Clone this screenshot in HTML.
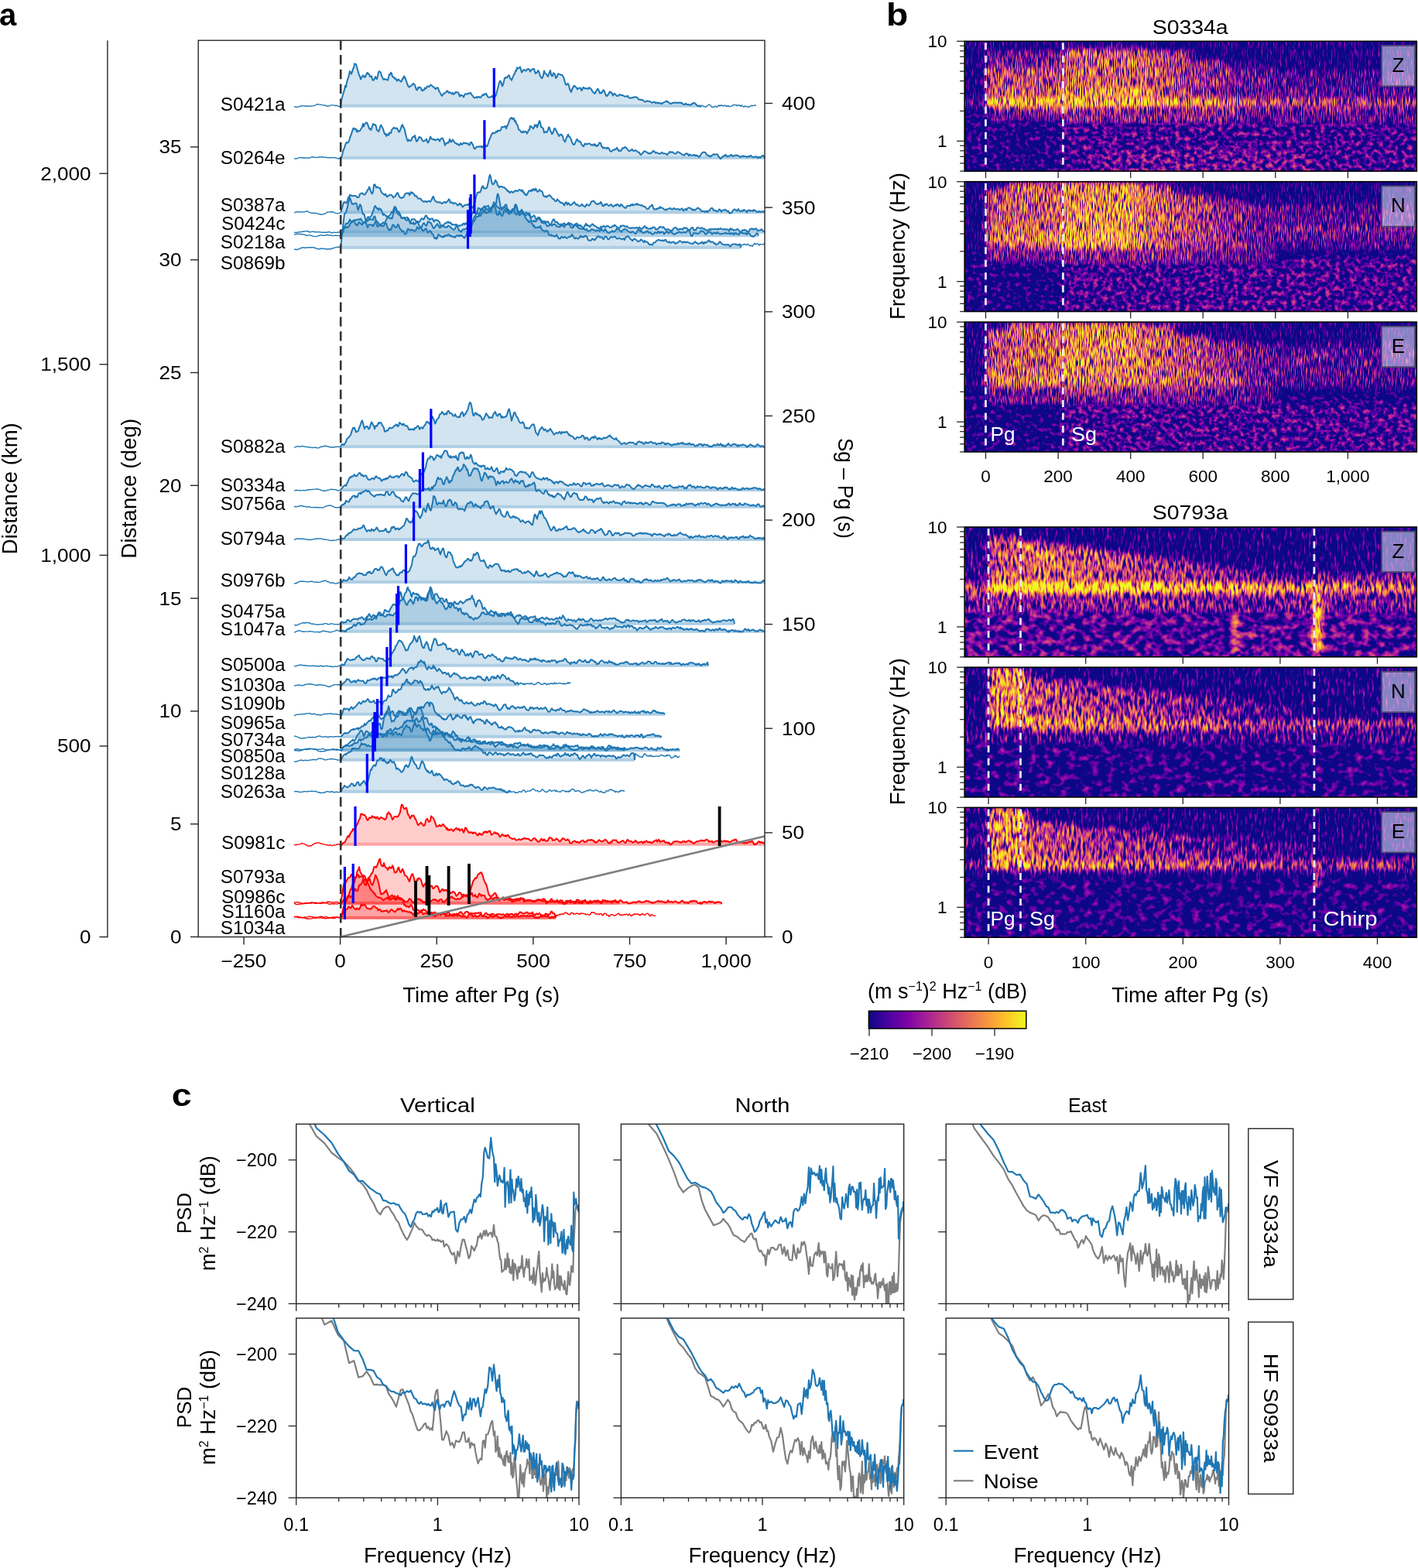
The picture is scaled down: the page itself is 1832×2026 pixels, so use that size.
<!DOCTYPE html>
<html><head><meta charset="utf-8"><title>Figure</title><style>
html,body{margin:0;padding:0;background:#fff;}
svg{display:block;}
</style></head><body>
<svg width="1832" height="2026" viewBox="0 0 1832 2026" font-family="'Liberation Sans', Arial, sans-serif" fill="#000">
<defs>
<clipPath id="clipA"><rect x="256.2" y="52.2" width="731.8" height="1158.4"/></clipPath>
<filter id="sf0" filterUnits="userSpaceOnUse" x="1246.2" y="53.3" width="584.1" height="167.8" color-interpolation-filters="sRGB">
<feGaussianBlur in="SourceGraphic" stdDeviation="4 3.5" result="b"/>
<feColorMatrix in="b" type="matrix" values="0 1 0 0 0 0 1 0 0 0 0 1 0 0 0 0 0 0 0 1" result="w"/>
<feTurbulence type="fractalNoise" baseFrequency="0.7 0.08" numOctaves="2" seed="3" result="n0"/>
<feComponentTransfer in="n0" result="n1"><feFuncR type="table" tableValues="0.000 0.000 0.000 0.000 0.000 0.000 0.000 0.050 0.104 0.154 0.201 0.245 0.285 0.323 0.358 0.390 0.420 0.447 0.473 0.496 0.518 0.538 0.557 0.575 0.591 0.607 0.621 0.635 0.647 0.660 0.671 0.682 0.692 0.702 0.711 0.720 0.729 0.737 0.745 0.750 0.750"/><feFuncA type="linear" slope="0" intercept="1"/></feComponentTransfer>
<feTurbulence type="fractalNoise" baseFrequency="0.16 0.17" numOctaves="2" seed="23" result="n2"/>
<feComponentTransfer in="n2" result="n2s"><feFuncR type="table" tableValues="0.000 0.000 0.000 0.000 0.000 0.046 0.094 0.140 0.183 0.223 0.261 0.296 0.328 0.358 0.386 0.412 0.436 0.458 0.478 0.497 0.515 0.531 0.546 0.560 0.573 0.585 0.597 0.608 0.618 0.628 0.637 0.645 0.654 0.662 0.669 0.676 0.683 0.690 0.696 0.702 0.708"/><feFuncA type="linear" slope="0" intercept="1"/></feComponentTransfer>
<feComposite in="w" in2="n2s" operator="arithmetic" k1="1" k2="0" k3="0" k4="0" result="p2"/>
<feComposite in="w" in2="n1" operator="arithmetic" k1="-1" k2="0" k3="1" k4="0" result="p1"/>
<feComposite in="p1" in2="p2" operator="arithmetic" k1="0" k2="1" k3="1" k4="0" result="nm"/>
<feComposite in="b" in2="nm" operator="arithmetic" k1="0" k2="1.4" k3="2.6" k4="-1.700"/>
<feColorMatrix type="matrix" values="1 0 0 0 0 1 0 0 0 0 1 0 0 0 0 0 0 0 0 1"/>
<feComponentTransfer><feFuncR type="table" tableValues="0.05 0.132 0.193 0.248 0.3 0.35 0.399 0.448 0.495 0.541 0.584 0.626 0.665 0.702 0.736 0.768 0.798 0.827 0.853 0.878 0.902 0.923 0.943 0.959 0.973 0.984 0.991 0.994 0.993 0.987 0.974 0.957 0.94"/><feFuncG type="table" tableValues="0.03 0.022 0.018 0.014 0.01 0.004 0.001 0.002 0.012 0.035 0.069 0.103 0.139 0.174 0.209 0.245 0.28 0.316 0.352 0.388 0.425 0.463 0.503 0.543 0.586 0.63 0.675 0.723 0.772 0.822 0.875 0.928 0.975"/><feFuncB type="table" tableValues="0.528 0.563 0.59 0.613 0.632 0.646 0.656 0.66 0.658 0.649 0.633 0.611 0.586 0.557 0.528 0.498 0.47 0.441 0.414 0.387 0.36 0.333 0.306 0.279 0.252 0.225 0.198 0.174 0.155 0.144 0.144 0.152 0.131"/><feFuncA type="linear" slope="0" intercept="1"/></feComponentTransfer>
</filter>
<linearGradient id="g0"><stop offset="0" stop-color="#a40000"/><stop offset="1" stop-color="#8a0000"/></linearGradient>
<linearGradient id="g1"><stop offset="0" stop-color="#8a0000"/><stop offset="1" stop-color="#710000"/></linearGradient>
<linearGradient id="g2"><stop offset="0" stop-color="#710000"/><stop offset="1" stop-color="#5b0000"/></linearGradient>
<linearGradient id="g3"><stop offset="0" stop-color="#5b0000"/><stop offset="1" stop-color="#500000"/></linearGradient>
<linearGradient id="g4"><stop offset="0" stop-color="#db0000"/><stop offset="1" stop-color="#b30000"/></linearGradient>
<linearGradient id="g5"><stop offset="0" stop-color="#a80000"/><stop offset="1" stop-color="#950000"/></linearGradient>
<filter id="sf1" filterUnits="userSpaceOnUse" x="1246.2" y="234.7" width="584.1" height="167.8" color-interpolation-filters="sRGB">
<feGaussianBlur in="SourceGraphic" stdDeviation="4 3.5" result="b"/>
<feColorMatrix in="b" type="matrix" values="0 1 0 0 0 0 1 0 0 0 0 1 0 0 0 0 0 0 0 1" result="w"/>
<feTurbulence type="fractalNoise" baseFrequency="0.7 0.08" numOctaves="2" seed="4" result="n0"/>
<feComponentTransfer in="n0" result="n1"><feFuncR type="table" tableValues="0.000 0.000 0.000 0.000 0.000 0.000 0.000 0.050 0.104 0.154 0.201 0.245 0.285 0.323 0.358 0.390 0.420 0.447 0.473 0.496 0.518 0.538 0.557 0.575 0.591 0.607 0.621 0.635 0.647 0.660 0.671 0.682 0.692 0.702 0.711 0.720 0.729 0.737 0.745 0.750 0.750"/><feFuncA type="linear" slope="0" intercept="1"/></feComponentTransfer>
<feTurbulence type="fractalNoise" baseFrequency="0.16 0.17" numOctaves="2" seed="24" result="n2"/>
<feComponentTransfer in="n2" result="n2s"><feFuncR type="table" tableValues="0.000 0.000 0.000 0.000 0.000 0.046 0.094 0.140 0.183 0.223 0.261 0.296 0.328 0.358 0.386 0.412 0.436 0.458 0.478 0.497 0.515 0.531 0.546 0.560 0.573 0.585 0.597 0.608 0.618 0.628 0.637 0.645 0.654 0.662 0.669 0.676 0.683 0.690 0.696 0.702 0.708"/><feFuncA type="linear" slope="0" intercept="1"/></feComponentTransfer>
<feComposite in="w" in2="n2s" operator="arithmetic" k1="1" k2="0" k3="0" k4="0" result="p2"/>
<feComposite in="w" in2="n1" operator="arithmetic" k1="-1" k2="0" k3="1" k4="0" result="p1"/>
<feComposite in="p1" in2="p2" operator="arithmetic" k1="0" k2="1" k3="1" k4="0" result="nm"/>
<feComposite in="b" in2="nm" operator="arithmetic" k1="0" k2="1.4" k3="2.6" k4="-1.700"/>
<feColorMatrix type="matrix" values="1 0 0 0 0 1 0 0 0 0 1 0 0 0 0 0 0 0 0 1"/>
<feComponentTransfer><feFuncR type="table" tableValues="0.05 0.132 0.193 0.248 0.3 0.35 0.399 0.448 0.495 0.541 0.584 0.626 0.665 0.702 0.736 0.768 0.798 0.827 0.853 0.878 0.902 0.923 0.943 0.959 0.973 0.984 0.991 0.994 0.993 0.987 0.974 0.957 0.94"/><feFuncG type="table" tableValues="0.03 0.022 0.018 0.014 0.01 0.004 0.001 0.002 0.012 0.035 0.069 0.103 0.139 0.174 0.209 0.245 0.28 0.316 0.352 0.388 0.425 0.463 0.503 0.543 0.586 0.63 0.675 0.723 0.772 0.822 0.875 0.928 0.975"/><feFuncB type="table" tableValues="0.528 0.563 0.59 0.613 0.632 0.646 0.656 0.66 0.658 0.649 0.633 0.611 0.586 0.557 0.528 0.498 0.47 0.441 0.414 0.387 0.36 0.333 0.306 0.279 0.252 0.225 0.198 0.174 0.155 0.144 0.144 0.152 0.131"/><feFuncA type="linear" slope="0" intercept="1"/></feComponentTransfer>
</filter>
<linearGradient id="g6"><stop offset="0" stop-color="#750000"/><stop offset="1" stop-color="#570000"/></linearGradient>
<linearGradient id="g7"><stop offset="0" stop-color="#b60000"/><stop offset="1" stop-color="#a00000"/></linearGradient>
<linearGradient id="g8"><stop offset="0" stop-color="#a00000"/><stop offset="1" stop-color="#8a0000"/></linearGradient>
<linearGradient id="g9"><stop offset="0" stop-color="#8a0000"/><stop offset="1" stop-color="#710000"/></linearGradient>
<linearGradient id="g10"><stop offset="0" stop-color="#6d0000"/><stop offset="1" stop-color="#5b0000"/></linearGradient>
<linearGradient id="g11"><stop offset="0" stop-color="#5b0000"/><stop offset="1" stop-color="#540000"/></linearGradient>
<filter id="sf2" filterUnits="userSpaceOnUse" x="1246.2" y="416.1" width="584.1" height="167.8" color-interpolation-filters="sRGB">
<feGaussianBlur in="SourceGraphic" stdDeviation="4 3.5" result="b"/>
<feColorMatrix in="b" type="matrix" values="0 1 0 0 0 0 1 0 0 0 0 1 0 0 0 0 0 0 0 1" result="w"/>
<feTurbulence type="fractalNoise" baseFrequency="0.7 0.08" numOctaves="2" seed="5" result="n0"/>
<feComponentTransfer in="n0" result="n1"><feFuncR type="table" tableValues="0.000 0.000 0.000 0.000 0.000 0.000 0.000 0.050 0.104 0.154 0.201 0.245 0.285 0.323 0.358 0.390 0.420 0.447 0.473 0.496 0.518 0.538 0.557 0.575 0.591 0.607 0.621 0.635 0.647 0.660 0.671 0.682 0.692 0.702 0.711 0.720 0.729 0.737 0.745 0.750 0.750"/><feFuncA type="linear" slope="0" intercept="1"/></feComponentTransfer>
<feTurbulence type="fractalNoise" baseFrequency="0.16 0.17" numOctaves="2" seed="25" result="n2"/>
<feComponentTransfer in="n2" result="n2s"><feFuncR type="table" tableValues="0.000 0.000 0.000 0.000 0.000 0.046 0.094 0.140 0.183 0.223 0.261 0.296 0.328 0.358 0.386 0.412 0.436 0.458 0.478 0.497 0.515 0.531 0.546 0.560 0.573 0.585 0.597 0.608 0.618 0.628 0.637 0.645 0.654 0.662 0.669 0.676 0.683 0.690 0.696 0.702 0.708"/><feFuncA type="linear" slope="0" intercept="1"/></feComponentTransfer>
<feComposite in="w" in2="n2s" operator="arithmetic" k1="1" k2="0" k3="0" k4="0" result="p2"/>
<feComposite in="w" in2="n1" operator="arithmetic" k1="-1" k2="0" k3="1" k4="0" result="p1"/>
<feComposite in="p1" in2="p2" operator="arithmetic" k1="0" k2="1" k3="1" k4="0" result="nm"/>
<feComposite in="b" in2="nm" operator="arithmetic" k1="0" k2="1.4" k3="2.6" k4="-1.700"/>
<feColorMatrix type="matrix" values="1 0 0 0 0 1 0 0 0 0 1 0 0 0 0 0 0 0 0 1"/>
<feComponentTransfer><feFuncR type="table" tableValues="0.05 0.132 0.193 0.248 0.3 0.35 0.399 0.448 0.495 0.541 0.584 0.626 0.665 0.702 0.736 0.768 0.798 0.827 0.853 0.878 0.902 0.923 0.943 0.959 0.973 0.984 0.991 0.994 0.993 0.987 0.974 0.957 0.94"/><feFuncG type="table" tableValues="0.03 0.022 0.018 0.014 0.01 0.004 0.001 0.002 0.012 0.035 0.069 0.103 0.139 0.174 0.209 0.245 0.28 0.316 0.352 0.388 0.425 0.463 0.503 0.543 0.586 0.63 0.675 0.723 0.772 0.822 0.875 0.928 0.975"/><feFuncB type="table" tableValues="0.528 0.563 0.59 0.613 0.632 0.646 0.656 0.66 0.658 0.649 0.633 0.611 0.586 0.557 0.528 0.498 0.47 0.441 0.414 0.387 0.36 0.333 0.306 0.279 0.252 0.225 0.198 0.174 0.155 0.144 0.144 0.152 0.131"/><feFuncA type="linear" slope="0" intercept="1"/></feComponentTransfer>
</filter>
<linearGradient id="g12"><stop offset="0" stop-color="#750000"/><stop offset="1" stop-color="#570000"/></linearGradient>
<linearGradient id="g13"><stop offset="0" stop-color="#b30000"/><stop offset="1" stop-color="#a00000"/></linearGradient>
<linearGradient id="g14"><stop offset="0" stop-color="#a00000"/><stop offset="1" stop-color="#8a0000"/></linearGradient>
<linearGradient id="g15"><stop offset="0" stop-color="#8a0000"/><stop offset="1" stop-color="#710000"/></linearGradient>
<linearGradient id="g16"><stop offset="0" stop-color="#6d0000"/><stop offset="1" stop-color="#5b0000"/></linearGradient>
<linearGradient id="g17"><stop offset="0" stop-color="#5b0000"/><stop offset="1" stop-color="#540000"/></linearGradient>
<linearGradient id="g18"><stop offset="0" stop-color="#c10000"/><stop offset="1" stop-color="#a40000"/></linearGradient>
<filter id="sf3" filterUnits="userSpaceOnUse" x="1246.2" y="681.0" width="584.1" height="167.8" color-interpolation-filters="sRGB">
<feGaussianBlur in="SourceGraphic" stdDeviation="4 3.5" result="b"/>
<feColorMatrix in="b" type="matrix" values="0 1 0 0 0 0 1 0 0 0 0 1 0 0 0 0 0 0 0 1" result="w"/>
<feTurbulence type="fractalNoise" baseFrequency="0.33 0.08" numOctaves="2" seed="7" result="n0"/>
<feComponentTransfer in="n0" result="n1"><feFuncR type="table" tableValues="0.000 0.000 0.000 0.000 0.000 0.000 0.000 0.050 0.104 0.154 0.201 0.245 0.285 0.323 0.358 0.390 0.420 0.447 0.473 0.496 0.518 0.538 0.557 0.575 0.591 0.607 0.621 0.635 0.647 0.660 0.671 0.682 0.692 0.702 0.711 0.720 0.729 0.737 0.745 0.750 0.750"/><feFuncA type="linear" slope="0" intercept="1"/></feComponentTransfer>
<feTurbulence type="fractalNoise" baseFrequency="0.1 0.12" numOctaves="2" seed="27" result="n2"/>
<feComponentTransfer in="n2" result="n2s"><feFuncR type="table" tableValues="0.000 0.000 0.000 0.000 0.000 0.046 0.094 0.140 0.183 0.223 0.261 0.296 0.328 0.358 0.386 0.412 0.436 0.458 0.478 0.497 0.515 0.531 0.546 0.560 0.573 0.585 0.597 0.608 0.618 0.628 0.637 0.645 0.654 0.662 0.669 0.676 0.683 0.690 0.696 0.702 0.708"/><feFuncA type="linear" slope="0" intercept="1"/></feComponentTransfer>
<feComposite in="w" in2="n2s" operator="arithmetic" k1="1" k2="0" k3="0" k4="0" result="p2"/>
<feComposite in="w" in2="n1" operator="arithmetic" k1="-1" k2="0" k3="1" k4="0" result="p1"/>
<feComposite in="p1" in2="p2" operator="arithmetic" k1="0" k2="1" k3="1" k4="0" result="nm"/>
<feComposite in="b" in2="nm" operator="arithmetic" k1="0" k2="1.4" k3="2.6" k4="-1.700"/>
<feColorMatrix type="matrix" values="1 0 0 0 0 1 0 0 0 0 1 0 0 0 0 0 0 0 0 1"/>
<feComponentTransfer><feFuncR type="table" tableValues="0.05 0.132 0.193 0.248 0.3 0.35 0.399 0.448 0.495 0.541 0.584 0.626 0.665 0.702 0.736 0.768 0.798 0.827 0.853 0.878 0.902 0.923 0.943 0.959 0.973 0.984 0.991 0.994 0.993 0.987 0.974 0.957 0.94"/><feFuncG type="table" tableValues="0.03 0.022 0.018 0.014 0.01 0.004 0.001 0.002 0.012 0.035 0.069 0.103 0.139 0.174 0.209 0.245 0.28 0.316 0.352 0.388 0.425 0.463 0.503 0.543 0.586 0.63 0.675 0.723 0.772 0.822 0.875 0.928 0.975"/><feFuncB type="table" tableValues="0.528 0.563 0.59 0.613 0.632 0.646 0.656 0.66 0.658 0.649 0.633 0.611 0.586 0.557 0.528 0.498 0.47 0.441 0.414 0.387 0.36 0.333 0.306 0.279 0.252 0.225 0.198 0.174 0.155 0.144 0.144 0.152 0.131"/><feFuncA type="linear" slope="0" intercept="1"/></feComponentTransfer>
</filter>
<linearGradient id="g19"><stop offset="0" stop-color="#ff0000"/><stop offset="1" stop-color="#f40000"/></linearGradient>
<linearGradient id="g20"><stop offset="0" stop-color="#e90000"/><stop offset="1" stop-color="#cc0000"/></linearGradient>
<filter id="sf4" filterUnits="userSpaceOnUse" x="1246.2" y="862.2" width="584.1" height="167.8" color-interpolation-filters="sRGB">
<feGaussianBlur in="SourceGraphic" stdDeviation="4 3.5" result="b"/>
<feColorMatrix in="b" type="matrix" values="0 1 0 0 0 0 1 0 0 0 0 1 0 0 0 0 0 0 0 1" result="w"/>
<feTurbulence type="fractalNoise" baseFrequency="0.33 0.08" numOctaves="2" seed="8" result="n0"/>
<feComponentTransfer in="n0" result="n1"><feFuncR type="table" tableValues="0.000 0.000 0.000 0.000 0.000 0.000 0.000 0.050 0.104 0.154 0.201 0.245 0.285 0.323 0.358 0.390 0.420 0.447 0.473 0.496 0.518 0.538 0.557 0.575 0.591 0.607 0.621 0.635 0.647 0.660 0.671 0.682 0.692 0.702 0.711 0.720 0.729 0.737 0.745 0.750 0.750"/><feFuncA type="linear" slope="0" intercept="1"/></feComponentTransfer>
<feTurbulence type="fractalNoise" baseFrequency="0.1 0.12" numOctaves="2" seed="28" result="n2"/>
<feComponentTransfer in="n2" result="n2s"><feFuncR type="table" tableValues="0.000 0.000 0.000 0.000 0.000 0.046 0.094 0.140 0.183 0.223 0.261 0.296 0.328 0.358 0.386 0.412 0.436 0.458 0.478 0.497 0.515 0.531 0.546 0.560 0.573 0.585 0.597 0.608 0.618 0.628 0.637 0.645 0.654 0.662 0.669 0.676 0.683 0.690 0.696 0.702 0.708"/><feFuncA type="linear" slope="0" intercept="1"/></feComponentTransfer>
<feComposite in="w" in2="n2s" operator="arithmetic" k1="1" k2="0" k3="0" k4="0" result="p2"/>
<feComposite in="w" in2="n1" operator="arithmetic" k1="-1" k2="0" k3="1" k4="0" result="p1"/>
<feComposite in="p1" in2="p2" operator="arithmetic" k1="0" k2="1" k3="1" k4="0" result="nm"/>
<feComposite in="b" in2="nm" operator="arithmetic" k1="0" k2="1.4" k3="2.6" k4="-1.700"/>
<feColorMatrix type="matrix" values="1 0 0 0 0 1 0 0 0 0 1 0 0 0 0 0 0 0 0 1"/>
<feComponentTransfer><feFuncR type="table" tableValues="0.05 0.132 0.193 0.248 0.3 0.35 0.399 0.448 0.495 0.541 0.584 0.626 0.665 0.702 0.736 0.768 0.798 0.827 0.853 0.878 0.902 0.923 0.943 0.959 0.973 0.984 0.991 0.994 0.993 0.987 0.974 0.957 0.94"/><feFuncG type="table" tableValues="0.03 0.022 0.018 0.014 0.01 0.004 0.001 0.002 0.012 0.035 0.069 0.103 0.139 0.174 0.209 0.245 0.28 0.316 0.352 0.388 0.425 0.463 0.503 0.543 0.586 0.63 0.675 0.723 0.772 0.822 0.875 0.928 0.975"/><feFuncB type="table" tableValues="0.528 0.563 0.59 0.613 0.632 0.646 0.656 0.66 0.658 0.649 0.633 0.611 0.586 0.557 0.528 0.498 0.47 0.441 0.414 0.387 0.36 0.333 0.306 0.279 0.252 0.225 0.198 0.174 0.155 0.144 0.144 0.152 0.131"/><feFuncA type="linear" slope="0" intercept="1"/></feComponentTransfer>
</filter>
<linearGradient id="g21"><stop offset="0" stop-color="#ad0000"/><stop offset="1" stop-color="#9b0000"/></linearGradient>
<linearGradient id="g22"><stop offset="0" stop-color="#870000"/><stop offset="1" stop-color="#7c0000"/></linearGradient>
<filter id="sf5" filterUnits="userSpaceOnUse" x="1246.2" y="1043.4" width="584.1" height="167.8" color-interpolation-filters="sRGB">
<feGaussianBlur in="SourceGraphic" stdDeviation="4 3.5" result="b"/>
<feColorMatrix in="b" type="matrix" values="0 1 0 0 0 0 1 0 0 0 0 1 0 0 0 0 0 0 0 1" result="w"/>
<feTurbulence type="fractalNoise" baseFrequency="0.33 0.08" numOctaves="2" seed="9" result="n0"/>
<feComponentTransfer in="n0" result="n1"><feFuncR type="table" tableValues="0.000 0.000 0.000 0.000 0.000 0.000 0.000 0.050 0.104 0.154 0.201 0.245 0.285 0.323 0.358 0.390 0.420 0.447 0.473 0.496 0.518 0.538 0.557 0.575 0.591 0.607 0.621 0.635 0.647 0.660 0.671 0.682 0.692 0.702 0.711 0.720 0.729 0.737 0.745 0.750 0.750"/><feFuncA type="linear" slope="0" intercept="1"/></feComponentTransfer>
<feTurbulence type="fractalNoise" baseFrequency="0.1 0.12" numOctaves="2" seed="29" result="n2"/>
<feComponentTransfer in="n2" result="n2s"><feFuncR type="table" tableValues="0.000 0.000 0.000 0.000 0.000 0.046 0.094 0.140 0.183 0.223 0.261 0.296 0.328 0.358 0.386 0.412 0.436 0.458 0.478 0.497 0.515 0.531 0.546 0.560 0.573 0.585 0.597 0.608 0.618 0.628 0.637 0.645 0.654 0.662 0.669 0.676 0.683 0.690 0.696 0.702 0.708"/><feFuncA type="linear" slope="0" intercept="1"/></feComponentTransfer>
<feComposite in="w" in2="n2s" operator="arithmetic" k1="1" k2="0" k3="0" k4="0" result="p2"/>
<feComposite in="w" in2="n1" operator="arithmetic" k1="-1" k2="0" k3="1" k4="0" result="p1"/>
<feComposite in="p1" in2="p2" operator="arithmetic" k1="0" k2="1" k3="1" k4="0" result="nm"/>
<feComposite in="b" in2="nm" operator="arithmetic" k1="0" k2="1.4" k3="2.6" k4="-1.700"/>
<feColorMatrix type="matrix" values="1 0 0 0 0 1 0 0 0 0 1 0 0 0 0 0 0 0 0 1"/>
<feComponentTransfer><feFuncR type="table" tableValues="0.05 0.132 0.193 0.248 0.3 0.35 0.399 0.448 0.495 0.541 0.584 0.626 0.665 0.702 0.736 0.768 0.798 0.827 0.853 0.878 0.902 0.923 0.943 0.959 0.973 0.984 0.991 0.994 0.993 0.987 0.974 0.957 0.94"/><feFuncG type="table" tableValues="0.03 0.022 0.018 0.014 0.01 0.004 0.001 0.002 0.012 0.035 0.069 0.103 0.139 0.174 0.209 0.245 0.28 0.316 0.352 0.388 0.425 0.463 0.503 0.543 0.586 0.63 0.675 0.723 0.772 0.822 0.875 0.928 0.975"/><feFuncB type="table" tableValues="0.528 0.563 0.59 0.613 0.632 0.646 0.656 0.66 0.658 0.649 0.633 0.611 0.586 0.557 0.528 0.498 0.47 0.441 0.414 0.387 0.36 0.333 0.306 0.279 0.252 0.225 0.198 0.174 0.155 0.144 0.144 0.152 0.131"/><feFuncA type="linear" slope="0" intercept="1"/></feComponentTransfer>
</filter>
<linearGradient id="g23"><stop offset="0" stop-color="#af0000"/><stop offset="1" stop-color="#990000"/></linearGradient>
<linearGradient id="cbar"><stop offset="0.000" stop-color="rgb(12,7,134)"/><stop offset="0.125" stop-color="rgb(76,2,161)"/><stop offset="0.250" stop-color="rgb(126,3,167)"/><stop offset="0.375" stop-color="rgb(169,35,149)"/><stop offset="0.500" stop-color="rgb(203,71,119)"/><stop offset="0.625" stop-color="rgb(229,108,91)"/><stop offset="0.750" stop-color="rgb(248,149,64)"/><stop offset="0.875" stop-color="rgb(253,196,39)"/><stop offset="1.000" stop-color="rgb(239,248,33)"/></linearGradient>
<clipPath id="cc00"><rect x="382.7" y="1452.4" width="365.3" height="232.1"/></clipPath>
<clipPath id="cc01"><rect x="382.7" y="1703.2" width="365.3" height="232.1"/></clipPath>
<clipPath id="cc10"><rect x="802.4" y="1452.4" width="365.3" height="232.1"/></clipPath>
<clipPath id="cc11"><rect x="802.4" y="1703.2" width="365.3" height="232.1"/></clipPath>
<clipPath id="cc20"><rect x="1222.2" y="1452.4" width="365.3" height="232.1"/></clipPath>
<clipPath id="cc21"><rect x="1222.2" y="1703.2" width="365.3" height="232.1"/></clipPath>
</defs>
<rect width="1832" height="2026" fill="#fff"/>
<text x="-1" y="32.8" font-size="40" font-weight="bold">a</text>
<text x="1145" y="32.8" font-size="40" font-weight="bold" textLength="28.3" lengthAdjust="spacingAndGlyphs">b</text>
<text x="221.7" y="1428.5" font-size="40" font-weight="bold" textLength="25.9" lengthAdjust="spacingAndGlyphs">c</text>
<g clip-path="url(#clipA)" fill="none" stroke-linejoin="round">
<path d="M440.0 137.0l1-7.1 1-3.8 1-3.9 1-3 1-3.3 1-5.1 1 1.9 1-6.1 1-3.7 1-2.2 1-4.3 1-4.4 1 1.4 1 2.1 1-2.6 1-4 1-1.3 1-5.3 1 .4 1 .2 1 3.8 1 3.6 1 3 1 4.2 1 .7 1 4.4 1-2.4 1-1.1 1-1.8 1 .5 1 2.2 1-.7 1-2.5 1-2.3 1-.5 1 1.8 1 0 1 3.2 1 .1 1-.7 1 4 1 1.5 1-.8 1-1.8 1-2.2 1 2.2 1 .8 1-4.5 1-4.3 1-1.3 1 .9 1 1 1 4 1 2 1 2.1 1 .9 1-1 1 .3 1 .8 1 0 1 .7 1-3.8 1-4 1 .5 1-2.7 1 1.3 1 3.9 1 .8 1 0 1 2.2 1-.5 1 1.3 1 2.1 1-1.9 1-.4 1 1.4 1 .6 1 1 1-.6 1-3.4 1 .1 1-3.4 1 1.5 1 2.1 1 3.2 1 3 1 2.4 1 1.8 1 .3 1-1.2 1-.3 1-1 1-.6 1-1.6 1 .9 1 1.1 1 3.5 1 2.7 1 .4 1-3.4 1 .8 1-1 1 0 1 1.5 1 2.6 1 .4 1-1.4 1 .2 1-2.6 1 1.1 1-1.3 1-1.9 1 .1 1 .8 1-.8 1-1.6 1-.2 1 1.2 1 .6 1 1.1 1 .1 1 1.7 1 .7 1-1.4 1-.4 1 .3 1 3.7 1 1.4 1 1.9 1 2.1 1 1.2 1-1.1 1-2.1 1-.3 1 0 1-1 1-1.5 1-.7 1 1.6 1 1.4 1-1.1 1 .4 1 1 1 .9 1-1.5 1 1.8 1-.1 1-1.7 1-1.3 1 .7 1 .2 1 .1 1 2.2 1 3 1-2.1 1 .1 1 .5 1 .6 1 1.6 1-2.5 1-1.6 1-.1 1 .1 1 .2 1-.8 1-.6 1 .3 1-.6 1 2.1 1 1.2 1 1.1 1 1.4 1 .9 1-.6 1-.7 1 1.1 1-1.4 1 .7 1-.8 1 1 1 .2 1-1.7 1-1.1 1-1.2 1 .9 1-1.4 1 .1 1-.8 1 1.9 1 2.1 1 .8 1 0 1-.2 1-.3 1-.3 1-1.2 1 2.1 1 .8 1-1.1 1-.9 1-2.1 1-4.4 1-3.7 1-3.5 1-4.2 1-2.1 1 .6 1 3.2 1 3.1 1-2.5 1-3.7 1-4.7 1 .1 1-.9 1 .7 1-1.7 1-1.5 1 .4 1 3.9 1 .1 1 2 1-2.6 1-2.2 1-2.9 1-.4 1-4 1 .2 1-4.6 1 1.3 1-.4 1-.8 1-.9 1 3.5 1 3.7 1-1.2 1-1.5 1-.8 1 .3 1 1.1 1-.1 1-2 1-.2 1-.2 1 1.2 1 2.3 1-1.7 1-.5 1-1.3 1 .2 1-.1 1 3.6 1 2.3 1-1.2 1-.2 1-2.5 1 .9 1 2.8 1 3.6 1 1.4 1 1.3 1-1 1-3.2 1-5.5 1 3.3 1 .5 1 1 1 1.3 1 1.4 1-2.7 1-2.9 1-2.3 1 5.2 1 2.1 1-.3 1-3.8 1 .8 1 1.3 1 4.5 1-.4 1-2.4 1-2.3 1-.4 1 .7 1 .7 1-.2 1 .3 1 1.1 1 2 1 2.5 1 4.4 1 2.7 1 .1 1-1.4 1-.2 1 2.6 1 4.4 1 2.2 1 1.8 1-3.8 1-1.3 1-2.6 1-.6 1 1.4 1 .2 1 1.5 1 1.7 1-1.4 1-.4 1 0 1 .1 1 3 1-.1 1-3.3 1-.5 1 1.3 1 .5 1-.6 1 .1 1 .6 1 .1 1-1.8 1 .6 1 1 1 .5 1 2.2 1 1.6 1 .3 1 1.7 1-.7 1-2.1 1-1.9 1-1.5 1 .5 1 2.8 1 2.4 1-.9 1 .8 1-1.3 1-2.5 1-.1 1 1.9 1 3 1 2.1 1 .8 1-1.7 1-.2 1-2.5 1-1.6 1 1.5 1-.4 1 2.1 1 2 1-2.2 1-.2 1 .7 1 1.3 1 1 1-.1 1-.4 1-1.4 1 .1 1 .4 1 .6 1-.2 1 .1 1 .8 1 .7 1-.2 1-.1 1 .1 1-.8 1 2.1 1 .6 1 .6 1-.6 1-.1 1 .2 1-.8 1-.3 1 .3 1-.4 1 .3 1 .2 1 1.3 1 1.3 1 .1 1 .2 1 .2 1-.2 1 .5 1 .7 1 1 1 .6 1 .1 1-.9 1-.4 1 .5 1 .1 1 0 1 .5 1 .6 1 .8 1-.3 1-.5 1-.2 1 .2 1 1.5 1-1.2 1 .5 1 .6 1-.8 1 .9 1 .2 1-.5 1 1.1 1-1 1-.7 1-.4 1-.5 1-.3 1-1.1 1 1.4 1-.4 1 1.2 1 .6 1 1 1-.2 1-.6 1-.6 1 .2 1-.3 1 .5 1-.9 1 .6 1 .1 1 .2 1-.9 1 .7 1 .2 1-.7 1 1.3 1 0 1 1.3 1 0 1-.3 1-1.2 1 1.5 1-.1 1 .4 1-.3 1 .6 1 .1 1-.4 1-1.5 1 .1 1-.8 1-.3 1 .9 1 1 1 .6 1 1.7 1 0 1-.2 1-.3 1 1.4 1-.9" fill="rgba(31,119,180,0.2)" stroke="#1f77b4" stroke-width="2"/>
<line x1="440" y1="136.7" x2="906" y2="136.7" stroke="rgba(31,119,180,0.2)" stroke-width="4"/><line x1="440" y1="137.8" x2="906" y2="137.8" stroke="rgba(31,119,180,0.2)" stroke-width="1.7"/>
<path d="M380.0 137.3l1 .6 1 .5 1 0 1-.1 1-.1 1-.3 1-.4 1-.3 1-.2 1-.2 1 .1 1 0 1-.1 1 .1 1 .1 1 .2 1 0 1-.2 1 .1 1 .3 1-.1 1-.3 1-.1 1 0 1-.2 1-.3 1-.3 1-.4 1-.6 1-.4 1 0 1 .2 1 .2 1 0 1 .3 1 .3 1 .2 1 .1 1-.1 1 .2 1 .4 1 .5 1 .2 1-.1 1-.1 1-.4 1-.4 1-.3 1 0 1 0 1 0 1 .3 1 .3 1 0 1-.2 1 .3 1 .5 1 .4 1-.1 1-.4" stroke="#1f77b4" stroke-width="1.4"/>
<path d="M906.0 137.0l1-.9 1 .5 1 1 1 .2 1-.4 1 .8 1-.4 1-1.2 1-.8 1-.8 1 .6 1 .3 1 2.1 1 .2 1 0 1 0 1 0 1-1 1 0 1 1 1-.2 1-1.9 1-.2 1 1.3 1-.9 1-.6 1 1 1-.2 1 .4 1-.7 1-.1 1 1.1 1-.2 1 .5 1-.9 1 1.3 1-.4 1-.1 1-.3 1-.1 1-1.6 1 .2 1 0 1 0 1-.1 1 1.3 1-.6 1-.6 1 .6 1 .1 1 1.2 1-1.7 1 1 1 .7 1 .7 1-1.1 1-.2 1 .8 1 .2 1 .3 1 0 1 0 1-1 1-.4 1-.6 1 .6 1-.4 1-.2 1-.3 1 .4 1 .2" stroke="#1f77b4" stroke-width="1.4"/>
<path d="M440.0 204.2l1-1.5 1-1.7 1-5 1-3.1 1-1.8 1-3.8 1-2.5 1-.9 1 .8 1-.9 1-1.5 1-4.1 1-2.8 1-2.4 1-3.3 1-3.1 1-1.2 1 1.9 1-.8 1 .3 1 3.7 1-2.1 1 1.4 1-.5 1-.2 1-1.8 1-1.6 1-2.2 1-3.7 1 3.7 1-3 1-.7 1-1.6 1 .2 1 2 1 2.9 1 2.9 1-.2 1 2.2 1-1.9 1-3.1 1-3.2 1 .9 1 .5 1-.3 1 2.7 1 4.4 1 .5 1 1.2 1-1.8 1-3.9 1-2.7 1 1.5 1 1.7 1 2.2 1 3.5 1 2.7 1-.3 1 3.1 1-2.1 1-.2 1 1.2 1-3.3 1 .5 1 0 1-4 1-1.1 1-1.2 1-1 1 .8 1 .5 1-.4 1 .1 1 2.1 1 2.4 1 .2 1-2.4 1-2.4 1-3.2 1-1.2 1 2.9 1 1 1 3.1 1 4.8 1 4.3 1 3.2 1 1.9 1-2.1 1 1 1 .8 1-.3 1-2.3 1-2.4 1-.5 1 .5 1-2.1 1 4 1 3.7 1-.6 1-1.6 1-2.7 1-1.1 1 1.3 1-.1 1 2.6 1 1.1 1 1.1 1-.6 1-.6 1-.3 1-1.6 1 3.6 1 1.3 1-1.7 1-3.3 1-3 1 1.9 1 1.3 1 .1 1 .6 1-.4 1 1.1 1 .1 1-.5 1-1 1 0 1 .7 1 2.1 1-2.2 1-1.3 1-.4 1 .2 1 2.4 1 3 1 3.7 1-2.4 1-.2 1-1.3 1 .8 1-1.3 1-3.9 1 3.3 1 .5 1-1.8 1-1.2 1 2 1 1.3 1 1.1 1 0 1 1.5 1-.3 1 .5 1 1.3 1-.5 1-2.3 1 1.1 1 .7 1-1.4 1-1 1 .6 1 .3 1-.8 1 .9 1 .3 1-.1 1 2 1-.6 1-3 1-.2 1 1.8 1 1.5 1 3.1 1 2 1-.2 1-1.4 1-1.2 1 .3 1 0 1-.5 1 .2 1 .5 1-1.3 1 1.8 1-.5 1-.7 1-1.3 1-.3 1 1 1 .7 1-1.8 1-3 1-3.6 1-2.1 1-2.4 1-2.6 1-1.4 1-1 1 1 1-.3 1-.8 1-1.4 1 .8 1-2.1 1 .5 1-.6 1 .4 1-1 1-3.7 1 .2 1-.5 1 .3 1-.7 1-.8 1 3.6 1-2.8 1-2 1-2.6 1-2.8 1-3 1-.3 1-.8 1 2.1 1-.9 1-.4 1 4.2 1-.9 1 3.6 1 .9 1 2.3 1 4.3 1 .7 1 .6 1 1.9 1 .6 1 .2 1-2 1 1.5 1-.2 1-.7 1 .9 1 1.9 1-2.3 1-2.4 1-.1 1-5 1 .5 1 .9 1 1 1 1.2 1-2.2 1-2.9 1 1.4 1-1.3 1 3.3 1-3.3 1-2 1-3.3 1 2.2 1 5.9 1 0 1 1.2 1 .9 1 5.3 1-.8 1-.7 1 1.1 1-1.1 1-2.2 1-3.7 1 1 1 3.7 1 1.6 1 2.6 1-.7 1-2.7 1-3.3 1-.7 1 2.1 1 1.5 1 2.5 1 1.4 1 2.8 1-1.7 1 .1 1-.9 1 1.4 1 .9 1 4.6 1 1.4 1 1.5 1-2.5 1-3.2 1-1.5 1-2.4 1 2.7 1 .5 1 1.4 1 2.2 1 3.4 1 1.9 1 .9 1 .2 1-2.1 1-1.9 1-2.8 1 .1 1 1.7 1 1.2 1-.5 1 .9 1 2.3 1 2.1 1 .4 1 1 1-2.6 1-1.3 1 1.1 1-.3 1 0 1-.6 1 0 1 0 1 1 1 .9 1-.2 1 .5 1-1.6 1 1.4 1-1.3 1 2.5 1 .3 1-1.4 1 .1 1-3.1 1-.3 1 .5 1 3.6 1 1.1 1 1.7 1-.7 1 .9 1-.6 1 .5 1 .7 1-1.5 1 .7 1 .9 1 2.6 1 .8 1 .3 1-1 1-1.1 1 .1 1-1 1 .4 1-1.1 1-1.4 1 2 1 2 1-.7 1 1 1 0 1-1.4 1-2.4 1 .3 1 0 1-1.7 1 .4 1 .5 1 1.6 1 .6 1 1.9 1 .2 1-.3 1-.5 1-1.2 1 0 1 1.6 1 .5 1-.5 1-.6 1 .5 1 1.3 1 .5 1 .1 1 .6 1 2.2 1 .8 1-1 1-.9 1-1.8 1-.6 1-.6 1 .6 1 .5 1 .6 1 .8 1 .8 1-.8 1 .7 1-.2 1-1.5 1-.2 1-1.8 1 .9 1 .7 1 1.4 1-.3 1-.3 1 1 1 .5 1 0 1 .2 1-1 1-.9 1 .7 1 1.1 1-.5 1 .1 1 .5 1 .5 1 1 1-1.7 1-.6 1-1.9 1 .1 1 .8 1-.8 1 .5 1 .6 1 1.1 1 0 1 .2 1-.6 1-1.7 1-.1 1 .7 1 .4 1 .6 1 .9 1 .7 1 .5 1 .4 1 .4 1-1.6 1-.8 1 .5 1-.6 1 1.2 1 1.7 1-1.6 1 .9 1-.1 1 .5 1 0 1-1 1 .1 1 1.3 1-.9 1 .9 1-.3 1 .7 1 1.5 1-1.1 1-1.5 1-1.6 1-1.6 1-.3 1-.6 1 .2 1 .3 1 1 1 2.3 1 .2 1 .1 1 1.3 1-.5 1 1.2 1-1.6 1-.1 1-1 1-.9 1 .9 1-.1 1-.6 1 .3 1-.1 1 2.3 1 1 1 1.8 1 .8 1-1.5 1-.6 1-1.3 1-.5 1 .6 1-2.1 1 .5 1 1.1 1 1 1-.8 1 0 1-.1 1-1.4 1-.3 1 1.5 1 .6 1-.5 1-.7 1-.1 1 .2 1-.6 1 .7 1 .6 1-.1 1 1.3 1 .2 1-1.2 1 .2 1-.7 1 1 1-.2 1-.1 1 .2 1 1 1-.6 1-.8 1 .7 1-1.1 1-.5 1 1.6 1 .1 1 .6 1-.4 1-.4 1 .6 1-.8 1 .6 1 1.3 1-1 1-.4 1 1.2 1-1.3 1-.3 1-1.4 1 0 1 1.3 1 2" fill="rgba(31,119,180,0.2)" stroke="#1f77b4" stroke-width="2"/>
<line x1="440" y1="203.9" x2="988" y2="203.9" stroke="rgba(31,119,180,0.2)" stroke-width="4"/><line x1="440" y1="205" x2="988" y2="205" stroke="rgba(31,119,180,0.2)" stroke-width="1.7"/>
<path d="M380.0 205.0l1 0 1 .1 1 0 1-.4 1-.4 1-.4 1-.3 1 0 1 .1 1 0 1 .1 1 .2 1 0 1 0 1 0 1 .1 1 .2 1-.2 1-.1 1 .1 1-.3 1-.6 1-.5 1 0 1 .3 1 .3 1-.1 1 .2 1 .2 1-.2 1-.4 1 0 1 .2 1-.2 1-.3 1-.1 1 .1 1 .5 1 .2 1-.2 1 0 1 .3 1 .4 1 0 1-.2 1 0 1-.1 1 .1 1-.1 1-.1 1 .1 1 .2 1 .1 1 .1 1 .4 1 .3 1 .3 1 0 1-.5 1-.3" stroke="#1f77b4" stroke-width="1.4"/>
<path d="M440.0 274.5l1-2 1-3.8 1-4.2 1-2.8 1-.9 1 .9 1 .8 1-.9 1-3.1 1-3.6 1-.3 1-2.9 1 1.1 1-.3 1 .7 1-.1 1 0 1 .1 1-.3 1 .5 1 1 1 .8 1-.1 1-1.2 1-3.3 1-.4 1-.5 1-.3 1 1.1 1 1.1 1-.1 1-.8 1-2 1-.9 1-2.7 1-.4 1-3.2 1 2.2 1 3.6 1 2.1 1 1 1-3.3 1-8 1-.9 1 1.3 1 2.9 1-.4 1-.4 1 .9 1 .4 1 .1 1 3.5 1 1.9 1 1.7 1 .2 1 1.1 1 .8 1-1.6 1 2 1 1.7 1-.2 1-1.7 1 .2 1-1 1 0 1 .5 1 1.3 1 2 1-.7 1-1.1 1-.4 1-2.1 1-1.8 1-.1 1 2.8 1 2.2 1 .9 1 .6 1 .3 1-.9 1 .2 1-1.5 1-2.7 1-.9 1-.5 1-.3 1 .4 1-.4 1 2.8 1-1.5 1-2.6 1 1.2 1-.6 1 1.9 1 .1 1 2.6 1-.2 1 .1 1 1.5 1 1.7 1 .4 1-.2 1 0 1 .5 1 2.2 1 .1 1 1.3 1 0 1-.7 1-.1 1 1.3 1-.7 1-.3 1-.7 1 .7 1 .6 1-2.2 1-.8 1-3.4 1-.4 1 2.9 1 2.6 1 .4 1 1.2 1 .2 1 0 1 .5 1-.6 1 .1 1 1.2 1 .5 1-.4 1-1.2 1-.5 1 .7 1 .5 1-1.5 1-.3 1-1.3 1-1.7 1 1.4 1 3.3 1-.3 1-.5 1 1.5 1 .6 1-1.1 1 .1 1 .7 1 .8 1 1.5 1-.3 1-1 1-1.3 1 1.7 1-.3 1 2.6 1 .7 1-1.3 1-.7 1-.7 1-.1 1 0 1 .4 1-1 1-.6 1 2.9 1 .2 1 1.1 1 1.1 1-1.3 1-1.5 1-2.3 1-4.2 1-5 1-2.9 1-2.8 1 .1 1-.7 1 .5 1-1.3 1-3.9 1-2.3 1-.9 1 3.2 1-.5 1 .9 1-.4 1-.9 1-3.8 1-4.1 1-5.9 1-3 1 3.1 1 5.6 1 3.3 1 .6 1-.7 1-1.8 1-2.9 1 1.2 1 1.4 1 4 1 1 1 1.7 1-1.2 1-.1 1 0 1 .8 1 .1 1 .1 1 .6 1 1.4 1 .3 1 1.4 1 1.7 1-.6 1 1.7 1 .7 1-1.7 1 0 1 1.3 1-.4 1-.1 1-1.6 1-.3 1 .1 1 .8 1-.3 1-1.2 1-.7 1 .5 1 .5 1 .9 1-1.3 1 3.1 1-.5 1 3.2 1-.5 1 1.5 1-1 1-2.1 1-2.4 1-.6 1-.1 1 1 1-2.1 1 1.4 1-2.5 1 .9 1 1.2 1-2.5 1 1.6 1 2.4 1 .1 1-1.1 1-1.7 1 1.7 1 .2 1 .4 1 1.5 1 3.8 1 1.2 1 .6 1-.9 1 1.3 1-.6 1-1.2 1-.6 1-.2 1 1.3 1 .6 1 1.6 1 1.3 1 .2 1 .8 1 1.9 1 0 1 .1 1-2.5 1 1 1 1 1 1 1 1.5 1-.1 1 .2 1 .6 1 .8 1 2.1 1-2.4 1-1.8 1 .3 1 2.9 1-2 1 .1 1 1.9 1 .8 1-.7 1-.6 1-1.3 1-.6 1-1.1 1 1.8 1 1.4 1 .6 1-.7 1 1.4 1 .8 1 0 1-.4 1-1.4 1-.7 1 1.8 1 .7 1 .1 1 .9 1-1.5 1-1.9 1 .9 1 .7 1 .1 1-1.1 1-1.5 1-2.6 1-.1 1-.5 1-.4 1 1.7 1 .6 1 1.6 1 .2 1 .5 1-.8 1 .1 1-.3 1-2 1 .9 1 3.2 1 1.2 1 0 1-2.2 1 .9 1-1.3 1-.3 1 1.2 1 1 1 .6 1-1.1 1-.9 1 0 1 2.2 1 .6 1-.4 1-1.1 1-.8 1 1 1-1.6 1-.2 1 1.4 1 .8 1 .6 1-2.6 1 .2 1 1.3 1 1.3 1 .6 1 .6 1 .9 1-.6 1-2.5 1 .1 1-.1 1 .2 1 .1 1-1.8 1 .9 1-1.6 1 1.5 1-.2 1-.6 1-.6 1 .5 1-1.3 1 1.7 1-.5 1 .4 1 .5 1 .5 1-.5 1 .4 1 1.2 1 .1 1 .1 1 .7 1 1.6 1 .8 1 .2 1-.6 1-2.2 1-.5 1-.7 1-1.6 1 .8 1 3.1 1 2.1 1-.4 1 .4 1-1 1 .9 1-1.3 1-.5 1 .4 1-2 1 1.5 1-.2 1 .5 1 .6 1 1.1 1 .4 1-.4 1 .9 1-1.1 1-.6 1-.3 1 .1 1-.8 1 1.4 1 .4 1 .2 1-1.5 1-.4 1 1.2 1 .4 1 .1 1-.8 1 .5 1 0 1 1 1-.7 1-.6 1-.7 1 1.6 1 1.5 1-1.2 1-.9 1-.3 1 1.6 1-2 1-1 1-.1 1 .2 1 .2 1 1.3 1 .1 1 1.3 1-1.2 1 1 1 .3 1-1.3 1-.4 1-1.3 1-.2 1 1 1 .8 1 .2 1 2.7 1-.1 1-.3 1 .3 1-.1 1 1.1 1-1.1 1-.3 1 1.4 1-1.4 1-.4 1-.9 1-1.7 1-.5 1-.5 1 1.3 1 2.1 1-.2 1-.2 1 .6 1 1.4 1-.7 1-.5 1-2 1 .3 1 .8 1 2.2 1-1.6 1-.7 1 .1 1-.4 1-.5 1 1.1 1 .3 1 1.4 1-.9 1 2.1 1 1 1-.6 1 0 1-1 1-2.4 1-.6 1-.9 1 1.1 1 .1 1 1.2 1-1 1-1.6 1 1.7 1 1.4 1 .1 1-.5 1-.9 1 .9 1-1.7 1 .3 1 1.1 1 .3 1 1.8 1-2.4 1-.1 1-.6 1 1.1 1-.3 1 .2 1-.5 1 .9 1-1.7 1 1 1-.1 1 1.4 1 .7 1-.1 1-.9 1 0 1 .9 1-.3 1-.7 1 .8 1-.7 1 .5 1 .9" fill="rgba(31,119,180,0.2)" stroke="#1f77b4" stroke-width="2"/>
<line x1="440" y1="274.2" x2="988" y2="274.2" stroke="rgba(31,119,180,0.2)" stroke-width="4"/><line x1="440" y1="275.4" x2="988" y2="275.4" stroke="rgba(31,119,180,0.2)" stroke-width="1.7"/>
<path d="M380.0 274.6l1-.1 1-.4 1-.3 1 0 1 0 1-.1 1 0 1 .4 1 0 1-.2 1-.1 1 .1 1 0 1-.2 1-.4 1-.4 1-.1 1 .5 1 .7 1 .6 1 .3 1 .3 1 .1 1 0 1 .2 1-.1 1-.2 1 .1 1 .3 1 .4 1 .4 1 .2 1 .2 1 .2 1 .2 1 0 1-.3 1-.4 1-.1 1-.1 1-.8 1-1 1-.4 1-.1 1-.1 1 0 1 .1 1-.3 1-.2 1 .5 1 .4 1 .2 1 .5 1 .3 1 .2 1 .1 1-.1 1-.1 1-.4 1-.6" stroke="#1f77b4" stroke-width="1.4"/>
<path d="M440.0 300.0l1-1.8 1-1.1 1-1.2 1-.9 1-2 1-1.5 1-2.7 1-.1 1 .5 1-1.8 1-1.2 1-2.7 1 1.8 1 1.8 1-.3 1-1.4 1-.5 1-.4 1-.5 1 .7 1-.8 1-.3 1 .2 1-.6 1 .6 1-1.3 1 1.7 1 1.6 1 1.5 1 .3 1-.6 1-.5 1-.6 1-1.1 1 .6 1-1.3 1-1.8 1-1.4 1-1 1-1.3 1-2.8 1-2.8 1-2.8 1-3.6 1-.5 1 1.8 1 1.7 1-.4 1 2 1-2.1 1 1.4 1-.3 1 2.1 1 2.5 1 3.1 1-1.6 1 1.3 1 .3 1 1.9 1-.6 1 .6 1-.5 1-.3 1-1.3 1-1.5 1-2.6 1 1.1 1-2.6 1-3.2 1-2 1 3.6 1 1.4 1 .4 1 1.1 1 0 1 1.8 1 2.3 1 2.7 1 1.3 1 .4 1-.1 1 .4 1-.4 1 1.8 1 1.2 1-.2 1-1.6 1 1.5 1 1.4 1 1 1-1.6 1-1.7 1-.5 1 .4 1-.4 1 .5 1 1.7 1 1.3 1 1 1-1.1 1 .1 1 .1 1-1.7 1-2.2 1-.6 1 .5 1 1 1-1.2 1-2.4 1-1.7 1 .4 1 1.9 1 1.8 1-.2 1 1.8 1-.9 1-.6 1-.2 1 .2 1 2.9 1 .9 1-2 1-.2 1 .2 1 0 1 .7 1 1.2 1 1 1 4.2 1 .4 1 .7 1-.9 1-.6 1-1.7 1-.9 1-.3 1-.7 1 .2 1-1.4 1 1.5 1 .3 1-.7 1 1.5 1 1.4 1-.4 1 .4 1-.1 1 .7 1-1.1 1 .5 1 .9 1 .6 1-.2 1 .2 1-.6 1-.2 1 0 1-2 1-.2 1 1.4 1-1.8 1 1.2 1-.3 1-3.2 1-3 1-1.1 1 .9 1-1.3 1-2.7 1-3.4 1-1.4 1 .1 1 .8 1 .8 1-.2 1-1.4 1-2.2 1-3.4 1 .6 1 .4 1 1.4 1 .1 1 .3 1-2.5 1-1.7 1-1 1 3.5 1-2.7 1-.7 1-.1 1-.4 1 2.9 1 1.8 1 .7 1-2.2 1-1.9 1-.5 1-.6 1-2.2 1-.3 1 1.5 1 2.2 1 .4 1 .5 1 .9 1 1.1 1 .2 1 .8 1-1.4 1-.2 1-1.9 1 .1 1 1.2 1 .7 1 2.8 1-.3 1 .7 1 .9 1 1.6 1-1.1 1-2.5 1-1.7 1 .3 1 1.1 1 2.2 1 2.7 1 1.1 1-.8 1-.4 1 .3 1-.8 1-2.8 1 .2 1 .9 1-.5 1 2.9 1 .7 1-1.1 1-1.2 1-.4 1 1 1 1.3 1 1.2 1 .4 1 1.8 1 4 1 1 1 .3 1 .9 1-1.4 1 .7 1 .8 1-.9 1-3.1 1-1.4 1 .9 1 1.9 1-1 1 3 1-.7 1 2.5 1 .3 1 1 1-.5 1-1.2 1-1 1 .6 1-.6 1 1.6 1 2.6 1-.1 1-.6 1-2.9 1-1.7 1-1.8 1 .4 1 2.9 1 .7 1-.6 1 .2 1 2.6 1-.3 1 1.3 1 .2 1-1.3 1 1 1-.6 1-.9 1-.7 1 2 1 0 1-.5 1-.2 1-1.2 1-.8 1 1.7 1 .2 1-.6 1 1.4 1 1.6 1-.6 1-.5 1-1.3 1 .2 1-.9 1 .6 1 2.8 1-.6 1-1 1 1.8 1-.5 1 1.5 1 1.2 1 .1 1-2.4 1-1.2 1-2.2 1 2.5 1-.9 1 1.3 1 .2 1 1.3 1-1.7 1-.5 1-1.4 1 0 1 1.3 1 1.1 1 .1 1 .6 1 1 1 .8 1-.4 1 1.9 1-.3 1-2.6 1-.4 1 .8 1-.8 1-1 1 .8 1 1 1-.2 1-1.6 1 .1 1 .5 1 1 1 .7 1 0 1-.3 1-1.2 1-.5 1 .3 1-1.8 1 1.1 1 .7 1 1.5 1 0 1 .5 1 .5 1-.9 1-2.3 1 .6 1-.6 1-.2 1 .1 1 1 1-.1 1 .6 1-.7 1 1.3 1 .6 1 .5 1-.1 1 .6 1-.9 1 0 1 .2 1 .4 1-.4 1-.3 1 .5 1-.7 1 .7 1-.3 1-.8 1 .9 1 1 1 .3 1-.6 1-.8 1-1.6 1-.8 1 1.3 1 1.5 1-.7 1 1.2 1 .5 1-.4 1 .3 1-.9 1 .6 1-1.5 1-.5 1 .1 1 .6 1 2.1 1-.1 1 .5 1-1.1 1-.4 1-1.8 1-.4 1 .3 1 .5 1 .6 1-1 1 .9 1 1.6 1 1 1 0 1-.6 1-.1 1 .6 1 .7 1 .4 1-.2 1 1.1 1-1.6 1-1.9 1-.5 1-.4 1-.2 1 .4 1 2.2 1 .2 1-.8 1 .2 1-.4 1-.1 1 .3 1 .4 1-1.8 1-.7 1 1 1-.6 1 .1 1 1.2 1 1 1 1.4 1-.1 1-1.6 1-1.9 1 .1 1-.8 1 2.9 1 1 1-.6 1 .3 1-2.4 1-.9 1 0 1 .6 1 .4 1 .3 1-1 1-.1 1 1 1 .6 1-.4 1 1.2 1 .6 1 0 1 1.2 1-1.3 1-.7 1-.5 1 1 1-1.1 1 .3 1 0 1 0 1-.5 1 .3 1-.1 1 .7 1-.1 1-1.1 1 .9 1-.5 1-.9 1 .9 1 .3 1 .5 1 0 1-.8 1 .8 1 0 1-.5 1 .7 1 .1 1 1.8 1-3.1 1-.5 1 1.6 1-.5 1 .5 1 1 1-.5 1 0 1-.2 1-.5 1-.6 1 1.2 1 1 1 1 1 1 1-.8 1-1.7 1-.5 1 .5 1-.8 1 .7 1-.1 1 2.2 1-.8 1 1.2 1-2 1-1.9 1-.2 1-.7 1 1.2 1-.8 1 .8 1-.4 1-.4 1-.4 1 2.3 1 .7 1-.8 1 .4 1-.1 1-.9 1-.7 1 1.6 1 1.1 1-.1 1 1.3" fill="rgba(31,119,180,0.2)" stroke="#1f77b4" stroke-width="2"/>
<line x1="440" y1="299.7" x2="988" y2="299.7" stroke="rgba(31,119,180,0.2)" stroke-width="4"/><line x1="440" y1="300.9" x2="988" y2="300.9" stroke="rgba(31,119,180,0.2)" stroke-width="1.7"/>
<path d="M380.0 300.2l1 .1 1 .3 1-.1 1-.3 1-.1 1-.2 1-.2 1 0 1 0 1-.2 1-.2 1 0 1 0 1-.4 1-.3 1-.1 1 .1 1 .4 1 .5 1 .2 1 0 1-.1 1-.2 1-.1 1 .1 1 .1 1 .2 1 0 1 .1 1 .1 1-.1 1-.2 1 .1 1 .2 1 .3 1 0 1 0 1 0 1 0 1 0 1 0 1 0 1-.2 1-.3 1 0 1 .1 1 .3 1 .5 1 .2 1-.2 1-.4 1 0 1 .2 1 .2 1-.2 1-.2 1-.2 1-.1 1 .1 1 0" stroke="#1f77b4" stroke-width="1.4"/>
<path d="M440.0 304.5l1-1.3 1-.5 1-2.9 1-2.8 1-2.4 1-.9 1 .7 1-1.4 1 1.2 1-1.2 1-.4 1-2.8 1-1.3 1-1.2 1-.1 1-2.3 1 .2 1 1.5 1 2.1 1 2 1-.3 1 .7 1-3.2 1-1 1 1.3 1 .5 1 1.3 1 .3 1-2 1-.4 1-.8 1 .4 1-2.7 1-2 1-1.9 1-.8 1 1.2 1 2.6 1-.3 1 0 1 0 1 .6 1-4.1 1-.9 1 2.4 1 5.1 1 4.9 1 1.3 1-1.4 1-.2 1 .2 1-1.5 1-.5 1-1 1-1.1 1 1 1-.3 1-2.1 1-2.1 1-1.8 1-1.1 1-.3 1 1 1 .6 1-.9 1 1.2 1-1.6 1-5 1-2.5 1-4.3 1-1.3 1 1.2 1 6.1 1 .6 1 1.4 1 .6 1-.9 1 4.1 1 1.2 1-1 1 .4 1-.7 1 .4 1 .2 1-.2 1-.7 1 1 1 1.1 1 2.8 1 3.4 1-1 1 1 1 .1 1-1.8 1 2.5 1 .1 1-1.6 1-.6 1-1.7 1 .8 1 3.3 1 2.6 1 1.2 1-.4 1-.4 1-3 1-1.5 1-.3 1 1.9 1 1.1 1 .6 1-2.9 1-2.8 1 .9 1 .6 1-.1 1 .7 1 2.7 1 2 1 2.1 1-.3 1-1.4 1-1.6 1-1.1 1-1.5 1 2.3 1 .9 1 2.1 1-.6 1-.4 1-2.3 1 .2 1 1 1 .6 1 .9 1-.4 1 .3 1-.4 1-1.7 1 .3 1 1 1 .4 1 1.7 1 .4 1 .6 1 .9 1-.5 1-1.1 1-1.9 1-2.1 1 1.2 1 2.5 1 3.1 1-.2 1 1 1 .7 1-2.3 1-.7 1-.3 1 0 1 0 1-1 1-.5 1-1.9 1-1.8 1-.6 1 .8 1-1.8 1 .7 1-.2 1-5.3 1-2.9 1-2.3 1-.6 1-1.7 1-1.5 1-1.2 1 1.9 1 2.3 1 0 1 .1 1-2.4 1-1.9 1-.7 1-2 1 2.6 1-2.9 1-.9 1-.7 1 .7 1 .8 1-1.2 1-1.2 1 .3 1-1.7 1-.5 1 .5 1-2.5 1 1 1 2.9 1 4.5 1 3.9 1 0 1 .2 1-4.8 1 1.8 1 2.6 1 1.2 1 .7 1-2.6 1-4 1-1.3 1 .5 1 1.9 1-.1 1-.4 1-2.5 1 2.4 1 .3 1 1.5 1 .1 1-2.9 1-1.3 1 .8 1-5.7 1-1.7 1 .5 1 3.4 1 4.1 1 1.4 1 .1 1 .6 1-2 1-1.5 1 1.7 1 2 1 2.3 1 1.7 1 .1 1-.4 1-2.2 1 .1 1-.5 1 .1 1 2.9 1 2.9 1-.6 1-1 1-.8 1-.7 1 1.6 1 2.5 1 1.3 1 .1 1-1.7 1-1.4 1 .7 1 1 1 2.7 1 2.9 1-1.8 1-.1 1-.4 1 .6 1 1.7 1 2.6 1 1.8 1-.3 1-.5 1-.4 1-1.1 1-.4 1 1.9 1-.6 1-1.4 1 .3 1-.2 1 1.1 1 1.8 1-.2 1 .6 1 .3 1 0 1-.6 1-2.4 1 1.4 1-1 1 1.4 1 1.4 1-1.9 1-1.5 1 .1 1-.6 1-.3 1 .8 1-.2 1 3.2 1 1.1 1-.2 1 .4 1-1.1 1-1.8 1-1.2 1-.2 1 2.4 1-.1 1 1.8 1 1.1 1-.2 1 .7 1-.1 1-.3 1 .5 1 .2 1-.3 1 1.2 1-.4 1-.8 1 2.5 1 .6 1-.7 1 0 1-.3 1-1.6 1-.3 1 .7 1 .4 1 .2 1 1.2 1-.2 1-1.1 1 .9 1-.1 1 .7 1 0 1-1.2 1-2.2 1 2.1 1 1 1 .3 1-2 1-.7 1 1.6 1 1.5 1 1.4 1 .3 1 .3 1-.8 1-.7 1-.5 1-1 1 1.3 1-.2 1-.2 1-.9 1-1.1 1-1.6 1 .8 1 .2 1 .4 1 1.5 1 .6 1 1 1-2.1 1-.8 1-.6 1-.7 1 .7 1 .1 1 .8 1 1 1 .7 1 .6 1 .5 1 .7 1-1.1 1-.6 1 .7 1 .6 1 1 1 .8 1-.9 1-2.2 1-1.9 1-1 1 .6 1 2.7 1-1.9 1 1.3 1 1.9 1 .2 1-.2 1-.1 1-1.3 1 .4 1-1.4 1 .3 1 2.2 1-.4 1-.4 1 1.1 1 1.1 1 .4 1-.2 1-.8 1-1.4 1 .2 1 .6 1 .1 1-1.9 1-.1 1 1.7 1-.9 1 .6 1-1 1 .3 1 .5 1 2.2 1-1.4 1-.4 1-2.2 1 .8 1 1.1 1 1 1-1.8 1-.3 1 .5 1 .7 1 1 1 .8 1 .1 1 .3 1-.8 1-1.1 1 .1 1-.2 1-1.2 1-.1 1 .9 1 .3 1-.2 1-.1 1-.3 1-.2 1 .7 1-.1 1-1.1 1-1.1 1-1.5 1-.1 1 2.2 1 3.4 1 2.3 1 .6 1-2.2 1-1.9 1 .1 1 0 1 .1 1 .4 1-.1 1 .6 1-.5 1-1.1 1-2 1 0 1-.4 1 .9 1 .1 1 1.4 1 1.7 1 .7 1-1.6 1-.2 1-1.5 1 0 1-.4 1 1.5 1 0 1 1.9 1-.7 1-1.4 1 .2 1 .4 1 .9 1-1.7 1-.3 1 1.4 1 .2 1 .6 1 .3 1-.5 1-.1 1 .1 1-.5 1 0 1-.2 1-.8 1 1.2 1-.1 1-.1 1 0 1 .9 1-1.5 1 1 1-.3 1-.6 1 2.2 1-1 1-1.4 1 .4 1 1 1 .6 1-.4 1 .4 1-2.6 1 .4 1 .2 1-.3 1 .8 1 .4 1-.4 1-.1 1 1 1 .6 1-1.5 1 0 1 .7 1 .3 1 2.2 1 .6 1-.4 1 .9 1-.2 1-1.3 1-.7 1-1.3 1-.9 1 .7 1 2.5" fill="rgba(31,119,180,0.2)" stroke="#1f77b4" stroke-width="2"/>
<line x1="440" y1="304.2" x2="980" y2="304.2" stroke="rgba(31,119,180,0.2)" stroke-width="4"/><line x1="440" y1="305.4" x2="980" y2="305.4" stroke="rgba(31,119,180,0.2)" stroke-width="1.7"/>
<path d="M380.0 302.8l1 .1 1-.1 1-.3 1-.2 1 0 1 0 1 .1 1 .1 1 .2 1 .1 1 0 1-.1 1 .2 1 .5 1 .6 1 .2 1 0 1-.1 1-.2 1 0 1 .3 1 .1 1 .3 1 .5 1 .3 1 0 1 .2 1 0 1-.2 1-.2 1-.3 1-.4 1-.3 1-.3 1-.2 1 .3 1 .3 1 0 1-.1 1-.2 1-.3 1-.3 1 .1 1 .2 1 .2 1 .1 1-.1 1 .1 1 .4 1 .2 1 0 1-.2 1-.2 1 .1 1 .2 1-.1 1 0 1 .2 1 0 1-.1" stroke="#1f77b4" stroke-width="1.4"/>
<path d="M440.0 320.0l1-7.9 1-9.6 1-9.5 1-7.8 1-9.1 1-.3 1-1.5 1-3.8 1-2.8 1-6 1-3.3 1-3 1 2.9 1 2.9 1 2.5 1-.2 1 .2 1-.7 1-.6 1 .1 1 1.6 1 6.2 1 .8 1-3.9 1-3 1 .7 1 3.6 1 5.2 1 3 1-.1 1 1.6 1 5.3 1 4.6 1 3 1 2.9 1-2.8 1-1.1 1 .3 1 0 1 .5 1-.4 1 1.8 1-2.1 1-1.1 1-3.1 1-1.1 1 1.4 1 .4 1 2.5 1 .2 1 .4 1 1.8 1-.2 1 .7 1 .3 1-1 1-2 1-.9 1 .3 1 3.2 1 2.5 1 2 1 1 1-1.5 1 1 1-1.9 1-4.3 1-.5 1 .7 1 2.3 1 .6 1-.1 1-1.3 1-2.7 1 1.1 1 3.4 1 1.7 1 .4 1 1.6 1 1.2 1-.6 1 1.2 1 2.7 1 .1 1-1.1 1-3.6 1-2.3 1 .8 1 .9 1-.2 1 .3 1-.7 1 .4 1 .5 1 .9 1 0 1-1 1-1.3 1-2.8 1 1.3 1 1.1 1-.5 1-1.6 1-.1 1 3 1 1.5 1 .2 1-1.1 1-.9 1-1.1 1 1 1 2.8 1 1.6 1-1.1 1-1 1-.2 1 .9 1 3 1 .2 1 1.4 1 3.7 1 .6 1-1.1 1 1.6 1-1.3 1-4.3 1 .6 1 0 1 2 1-.3 1 .5 1 .8 1-1.6 1 .9 1-1.8 1 .2 1 .5 1-.9 1-1.1 1 .4 1 1.6 1-.7 1 1.3 1-.1 1 .2 1 .9 1-.4 1 .7 1-2 1 0 1-.8 1 .8 1 .6 1-1.5 1 1.2 1-1.3 1 1.2 1 .8 1 1.1 1 .9 1-2 1-1.3 1-2 1-4.9 1-1.1 1-3 1 .8 1-.1 1-.7 1-4 1-1.6 1-1.6 1-1.1 1-1.7 1-3.2 1-.2 1 0 1 0 1-1.3 1-3.9 1-2.5 1-2.3 1-1.2 1 2.5 1 .3 1 1.9 1 .5 1 1.3 1 0 1-1.3 1 .2 1-1.4 1 .1 1 1 1-3.5 1-4.2 1-1.3 1-3.8 1 2 1 .4 1-1 1-7.9 1-4.1 1 1.7 1 5.6 1 5.1 1 5.9 1-.6 1 .6 1 0 1-1.9 1-.7 1-1.8 1-.1 1 3.3 1 5.9 1 2.5 1 .7 1-1.7 1-1.4 1-1.5 1 .2 1 0 1 .1 1-3.9 1-.9 1-1.1 1 4.6 1 4.3 1-1.4 1 4.3 1-.4 1-1.2 1-.9 1-1.2 1 1.2 1 1.2 1 2.3 1 2.3 1 1.5 1 .7 1 1.2 1 2.2 1-1.4 1 .3 1 1.4 1 .6 1 1.8 1 2.2 1-1 1 3.1 1-.1 1-.1 1 .1 1-.7 1 .8 1-.6 1-1.8 1 2.8 1 1.8 1 1.2 1 .4 1 .4 1 .8 1-.8 1-.4 1 .2 1 1.3 1 3.7 1 .5 1 0 1-.4 1 1.4 1-.2 1-.1 1 1 1 .1 1-.9 1-1.3 1 1.7 1 2 1 1.4 1-.6 1 .5 1-2.1 1-.1 1 .6 1 .6 1-1.2 1-.1 1 .9 1 1 1-.6 1-.5 1-.6 1-.6 1 .1 1-.8 1-2.1 1 1.8 1 1.2 1 1.9 1 .7 1-1.3 1 .3 1 .8 1 .3 1-.6 1-2.2 1-1.1 1 1.9 1-.9 1 .4 1 .5 1-1.8 1 .3 1-.2 1 1 1 2 1 2.5 1 .1 1 .1 1 .7 1-1.4 1-1.6 1 1.2 1-.6 1 1.4 1-.4 1-2.1 1-.4 1-2.1 1-.2 1 .8 1 1 1-.2 1-.4 1 .6 1 2 1 .2 1-2.5 1-.9 1 .2 1 .7 1 2.2 1 .7 1-.5 1-1.9 1-.3 1-.7 1 .4 1 .2 1-.2 1-1.1 1 .8 1 1.1 1 1.3 1 0 1-.7 1-.3 1 .5 1 .5 1 .4 1 .5 1-1.4 1 .2 1 1.8 1-2.8 1-1 1-.6 1-.4 1 .3 1 1.6 1 1.3 1 .8 1 .5 1 1.6 1-1.5 1-1 1-.4 1 1 1 .6 1 .7 1 1.5 1-.4 1-.2 1-.7 1-1.7 1 .9 1 .7 1 1.7 1 .6 1-2.2 1 1.1 1 .8 1-.2 1 .5 1 2.1 1 .9 1-.4 1 .2 1 .3 1 .2 1-2.3 1-.7 1 0 1-.9 1-1.1 1-.7 1-.7 1 0 1 .2 1 .2 1 .7 1-.2 1-.6 1 .9 1-.2 1-1.1 1-.3 1 2.2 1 .5 1 .8 1 .2 1-1 1 1.2 1 .3 1-.8 1-.3 1-.2 1 .4 1 1.8 1-.4 1 .3 1-1.1 1-.2 1-.9 1-1.2 1 .3 1 .8 1 .3 1 1.1 1-1.1 1-.4 1 1 1-.1 1 .1 1-.8 1 .6 1 .6 1 .4 1 .7 1-.1 1-.1 1 .8 1-1.3 1-.7 1-1.2 1 1 1 .9 1 .2 1 1.2 1-.3 1-1 1 0 1-.1 1-1.6 1 1.6 1 1 1-2.1 1 1.2 1-1 1 .1 1-1.5 1-.4 1-1.1 1 2.1 1-.1 1 .7 1-.5 1 .4 1 .7 1 1.4 1-.6 1 1.7 1-.2 1-.4 1-.4 1-1.7 1-1 1 .6 1 1.6 1 1 1 .1 1 .5 1 .1 1 .3 1-.2 1-.2 1 .2 1-.3 1 .8 1 1.6 1-.2 1-1.7 1-.7 1-.4 1 .1 1 0 1 .4 1-.5 1 .9 1 .5 1-.7 1 .2 1-.9 1 4.6" fill="rgba(31,119,180,0.2)" stroke="#1f77b4" stroke-width="2"/>
<line x1="440" y1="319.7" x2="957" y2="319.7" stroke="rgba(31,119,180,0.2)" stroke-width="4"/><line x1="440" y1="320.9" x2="957" y2="320.9" stroke="rgba(31,119,180,0.2)" stroke-width="1.7"/>
<path d="M380.0 322.2l1-.1 1 .1 1 .3 1 0 1-.2 1-.6 1-.4 1-.5 1-.3 1-.3 1-.2 1-.2 1 .1 1 .4 1-.1 1-.2 1-.1 1-.2 1-.1 1 .2 1 0 1 0 1 0 1 0 1-.1 1 .3 1 .5 1 .2 1 .4 1 .4 1 .3 1 0 1 0 1-.4 1-.4 1 0 1 .3 1 .1 1 0 1 .1 1 .5 1 0 1-.3 1 0 1-.1 1 .1 1 .1 1-.3 1-.5 1-.2 1-.3 1-.3 1-.3 1-.3 1-.3 1-.1 1 0 1-.1 1 .2 1 .7" stroke="#1f77b4" stroke-width="1.4"/>
<path d="M957.0 320.0l1-3.6 1 0 1 0 1-.9 1 .3 1 0 1 .8 1-.8 1-.6 1 1.2 1 .7 1 .6 1-1 1 .8 1 1 1-1.8 1-1.5 1-.7 1 1.2 1-.7 1 .1 1-.1 1 .7 1 1.3 1-1.7 1 .3 1 .5 1-.2 1-.4 1-.4 1 .5" stroke="#1f77b4" stroke-width="1.4"/>
<path d="M440.0 577.3l1-1.8 1-1.6 1 0 1 1.2 1-1.1 1-1.3 1-2 1-3.3 1-1 1-.7 1-1.3 1-1.3 1-1 1-3.5 1-3.1 1-2.7 1 .8 1-1.1 1 3.2 1 2.6 1-.8 1-.1 1-.9 1-4 1-1.7 1-3.1 1-2.7 1-1.7 1 3.4 1 3.9 1 3.5 1-2.2 1-.9 1 0 1 .3 1 3 1-.3 1-2.3 1-3.9 1-2.3 1 1.1 1 2.8 1 .6 1 4.2 1-3 1-1.4 1 .8 1-1.9 1-2.6 1 1 1-1.2 1 .1 1 1.5 1 2.3 1 1.1 1 2.3 1 4.2 1 .3 1-.5 1-1.3 1 .4 1-1.7 1-1.6 1-.6 1 .9 1-.1 1-.7 1-.3 1-1.5 1-.9 1 .2 1-1.6 1 .6 1 2 1-1 1-3.9 1 .4 1 1.2 1 .5 1 1.2 1-1.8 1 .6 1 1.6 1 .1 1 .7 1-.3 1 1.5 1 3.1 1 .3 1-.9 1 .7 1 .1 1-.9 1 .9 1 .5 1-2.9 1 .5 1-.9 1-1.5 1-.7 1 1.2 1 3.3 1-1.2 1-1.2 1 .5 1 1 1-1.8 1-1.4 1-1.4 1-1.4 1-2.6 1-.1 1 .5 1 1.2 1 1.1 1-2.6 1-2.7 1-3.7 1-.3 1 2.6 1 2.2 1 4.1 1-1.3 1-3.2 1-1.3 1-1 1-.9 1-4.2 1-.6 1-.3 1-2.6 1 1.2 1 1.4 1 1.2 1-.9 1-.9 1 1.4 1-3.4 1-1.1 1 .3 1 2.7 1 0 1 .1 1 .9 1 1.9 1 .8 1-.3 1-2.2 1 2.5 1 .7 1 .7 1 .2 1-.9 1 .6 1-3.8 1-1.4 1-1.3 1 1.2 1 4.2 1-2.3 1-.1 1-1.6 1-2.5 1-.8 1-3.8 1-3.9 1-2.8 1 .4 1 3.1 1 5.6 1 6.4 1 1.6 1-1.6 1-2.1 1 .5 1 2 1-1 1 1.2 1 1.1 1-.9 1 2.3 1 .3 1 3.5 1 0 1-1.1 1-2.3 1-1.8 1-3.1 1 1.4 1 1.1 1 1.9 1 1.6 1-1.2 1 .6 1 .1 1 .4 1-4.1 1-1.7 1-1.4 1-.7 1 3.7 1 .9 1 .9 1-2.3 1-.3 1-.3 1 2.7 1 2.4 1-1.9 1 1.7 1-.4 1-.1 1-1.2 1 .4 1-2.4 1-3.3 1-3.5 1-.5 1 5 1 4.2 1 6 1-4 1-2.6 1-3.9 1-.5 1 1.8 1 3.2 1 1.1 1 .8 1 3.6 1 1.8 1 1.3 1 .1 1-.1 1-1.3 1 1.1 1 1.8 1 4.6 1 .7 1-.9 1 1.4 1-.7 1 .4 1 .1 1-1.8 1-1.5 1-1.2 1-.5 1-.6 1 1.2 1 3.8 1 4.9 1 2.1 1 .6 1 1.8 1-3.1 1-3.2 1-1.7 1-.7 1-2 1 1.1 1 1.3 1 1.9 1-1.3 1 .4 1 1.7 1 1.1 1-1.6 1 .2 1-1.2 1-1.4 1 2 1 1.3 1 1.4 1 2 1 1.1 1-1.1 1-1 1-.7 1 1 1-.1 1-1.1 1-1 1 1.9 1 .9 1-2.5 1 .7 1 .2 1-.9 1 .8 1-.4 1-.8 1 1.1 1 1.6 1 1.8 1-.6 1 1.7 1 .3 1 .1 1 .5 1 1.3 1 1.4 1 .6 1-.6 1-1.4 1-.6 1 .5 1 .3 1-.7 1-.3 1 0 1-2 1 .3 1 .5 1 3.2 1 .9 1-2.1 1 .5 1-.4 1 2.7 1 .3 1-.1 1-1.5 1-1.2 1-.4 1-.9 1 1.8 1-1.7 1-.9 1 2 1 1 1 1.3 1-2.1 1 1.2 1-.9 1 .8 1 1 1-1.1 1 0 1-1.4 1 .5 1 .2 1-.8 1 .3 1-.8 1-1.6 1 .3 1-1.1 1 1.8 1 .4 1 1.3 1 .6 1 .7 1 .6 1-.6 1-1.4 1 2.4 1 .7 1 1 1 .6 1 1.6 1 1 1 .8 1-.4 1-.7 1-.3 1-.4 1 1.5 1 0 1-.1 1-1.1 1-.1 1-.2 1-.8 1 .7 1 .1 1-.5 1 .5 1 .4 1 1.2 1-.2 1 1.2 1-2.2 1-1.4 1-.2 1-.6 1 .8 1 .6 1-.6 1 1.6 1-.2 1 1.4 1-1.1 1-1.7 1 .7 1 .9 1-.8 1 .5 1-.9 1-.5 1-.2 1 .3 1 1.3 1 .6 1-.5 1-.4 1 .3 1 1.9 1-.6 1-.4 1-.4 1 .4 1-.2 1 .2 1-2 1 .6 1 .1 1 .6 1 1.5 1-1.1 1 1.3 1-1.6 1 .3 1 .3 1 .1 1 1.3 1 1.1 1-1.2 1 .9 1-.8 1-1.2 1 .8 1 0 1-.8 1 .8 1-1.7 1 .7 1 .4 1-.8 1-.4 1-.8 1 2 1-1.3 1 .9 1 .6 1 .2 1-.4 1-.4 1 .9 1-1.2 1-.4 1 1.7 1 .4 1-.6 1-.2 1 .2 1 1.3 1 1.1 1-.5 1-.7 1 .8 1-1.5 1-.3 1-.9 1 .6 1-.2 1 1.3 1 1.3 1-1.8 1-.6 1 .8 1-.1 1 .3 1-.4 1 1.6 1 .6 1 .2 1-.2 1 .3 1-.1 1-1.3 1-.4 1-.7 1 .8 1 .3 1-1 1-1.1 1 .9 1 .9 1-.6 1-1.6 1 1.4 1 1.6 1-1.3 1 1.6 1-.2 1 .6 1-1.6 1-.1 1-.6 1-1.8 1 1.7 1 .6 1 1.1 1-.1 1-1.7 1-.5 1 .1 1-.3 1 .7 1-.1 1 1.5 1 .9 1-1.9 1 1.5 1-.6 1-.6 1 .2 1-.8 1-.1 1 .5 1 .3 1 .2 1 .8 1 1.5 1-1.3 1 .4 1-1.1 1-1.5 1 .1 1 1.1 1 .8 1-.3 1 .7 1 .5 1-.3 1-1.2 1-1.1 1-.4 1 1.3 1 .6 1 0 1 1.1 1-.6 1-.6 1 .9 1 .8 1-.3" fill="rgba(31,119,180,0.2)" stroke="#1f77b4" stroke-width="2"/>
<line x1="440" y1="577" x2="988" y2="577" stroke="rgba(31,119,180,0.2)" stroke-width="4"/><line x1="440" y1="578.1" x2="988" y2="578.1" stroke="rgba(31,119,180,0.2)" stroke-width="1.7"/>
<path d="M380.0 577.9l1-.1 1-.2 1-.4 1-.3 1-.1 1 .1 1 .3 1-.1 1-.3 1-.3 1 0 1 .1 1 .3 1 .4 1 .1 1 0 1 .1 1 .2 1 .1 1 .2 1 .1 1 .1 1 .2 1 .1 1-.2 1-.2 1 0 1 .1 1 .3 1 .4 1 0 1-.3 1-.5 1-.7 1-.3 1 .1 1-.2 1-.4 1-.3 1 0 1 .2 1 0 1 .2 1 .3 1 .3 1 .4 1 .1 1 0 1 0 1 0 1 .2 1-.1 1-.4 1-.2 1 .1 1-.1 1 0 1 .1 1-.1 1 0" stroke="#1f77b4" stroke-width="1.4"/>
<path d="M440.0 633.4l1-1.8 1-1 1-1 1-1.7 1-.5 1-.6 1 1 1-2.9 1-1.2 1-2.8 1-2.3 1-2 1 .6 1-1.7 1-.1 1 .3 1-1.4 1-1.2 1 1.9 1 .1 1 .2 1-1.9 1-1.1 1-1.1 1-.1 1 1.4 1 1.9 1-1.1 1 1.4 1 1 1-1.1 1-.2 1 0 1 2.2 1 1.9 1 1 1 .4 1 .1 1-.8 1-1 1-.3 1 0 1 1.2 1-.8 1-1.9 1-1.3 1 1.3 1 .9 1 .6 1-.3 1 .7 1 1.3 1 2.1 1-1.2 1-1.2 1 .2 1 .2 1-1.7 1 1.2 1-1.3 1 .4 1-1.9 1-.6 1-1.3 1 1.4 1 1 1 .1 1-.7 1 .7 1-1.1 1-.5 1-.2 1-.4 1 .3 1 2.1 1-1.4 1-.8 1-1 1-1.6 1-.3 1 1 1 1.5 1-2.3 1-2.4 1 .1 1 1.1 1 3.2 1 1 1 .6 1 .4 1 1 1 .3 1 2.3 1 2.4 1 .3 1-1.1 1-.7 1-.4 1 1.2 1 .4 1-.1 1-4 1-2.1 1-3.6 1-.5 1 .8 1-1.2 1-1.9 1-3.1 1-2.5 1-5 1-4 1-2.4 1 0 1 0 1-3.2 1 1.1 1-.1 1 .6 1 3.2 1 .2 1-1.9 1-1.3 1-2.7 1-.6 1 .9 1 .8 1 .9 1-1.1 1 2.7 1-3 1-2.2 1-.7 1-3.1 1-.7 1 .3 1 .3 1 1.7 1 4.3 1 .4 1 1.9 1-1.9 1 2.5 1-1.2 1 .1 1-.9 1 1.2 1 0 1-2 1 2.8 1 2.3 1 .6 1-6.8 1-2.3 1 .3 1-1.2 1-.3 1 .9 1-.3 1 5.5 1 2.5 1 .1 1-2.4 1-.3 1 2.4 1-.6 1-1.1 1-3.5 1 1.3 1 5 1 3.5 1 .6 1 1.7 1-.5 1-1.3 1 2.1 1 .5 1 1.2 1 0 1 1.1 1-1 1 1.5 1-1 1-.6 1 .1 1 0 1 4.5 1-.2 1-.3 1-1.4 1 1.7 1 .5 1 0 1-1.1 1-2.3 1 2.5 1 2.7 1 .8 1-.1 1-1.5 1-2 1-.8 1 2.8 1 3.7 1 .9 1-.7 1-2.4 1 .6 1 .3 1-1 1 1.2 1-1.6 1-1.1 1-2.8 1 1.3 1 1 1-.3 1-.2 1-.5 1 1 1 0 1 1.1 1 1 1 1 1 3.7 1 .3 1 1.1 1-.5 1-2.1 1-1.4 1-.9 1-.6 1-.3 1 .9 1-.7 1 .5 1 .6 1-.1 1-.4 1 1.8 1 .9 1 .3 1 1.6 1 1.9 1-.4 1-3 1-2.7 1-.7 1 1.3 1 2.2 1 1.9 1 1.4 1 .9 1 .2 1 .9 1-.2 1 .6 1 .4 1 .6 1-.3 1-1.3 1-1.2 1 2.1 1 .1 1-1.5 1 0 1-.4 1 2.9 1-.9 1 .1 1 .4 1 1.2 1 0 1 2.1 1-.5 1 2.3 1-1 1-1.3 1-.4 1 .4 1 1.7 1-1.3 1-1.4 1 .5 1-.4 1 1 1 .1 1 1.2 1 1.1 1 .4 1 .8 1-.2 1 1 1 .6 1-.7 1-1.1 1 .1 1 .3 1 0 1-.1 1-2.2 1 .3 1 1.6 1 .5 1-1 1-.5 1 0 1 .4 1 1.3 1 .9 1 .9 1-.7 1-2.7 1-1.6 1 .6 1 .2 1 1.9 1-.9 1-.3 1-.3 1-.1 1-.8 1 1.7 1 2.2 1-.4 1 .4 1-1.7 1 .6 1-.8 1-.4 1-.8 1 .6 1 .6 1 .1 1-.4 1 .2 1-1 1-.5 1 1.7 1 1.8 1 .8 1-.4 1-.2 1-.9 1-.1 1-.3 1 .5 1 .7 1 .2 1 .4 1 .4 1-.6 1-1 1-1.1 1 0 1 .7 1 .4 1-.9 1 .1 1 2.6 1 1.4 1-.6 1-1.7 1 0 1 1.3 1-.1 1-.2 1-1.4 1-1.1 1-1 1 .8 1 .6 1-.5 1 1.6 1 1.5 1 .5 1 1.2 1 0 1 .7 1-.8 1-1.5 1-.8 1-1 1-1.8 1 1.4 1-.4 1 .4 1 .9 1 .3 1 1.4 1-1.3 1-.4 1-.8 1-.8 1 .7 1 .5 1 0 1 .2 1 .8 1 .3 1-1.6 1-1.9 1 .4 1 .4 1 1.6 1 1.1 1-.9 1 .3 1 .4 1 .2 1-1.8 1 .4 1 1.9 1 .3 1 .8 1 .2 1-.5 1-2.4 1-.7 1 .7 1-.5 1 1.2 1-.8 1-.5 1-.9 1 .3 1 1.5 1 .3 1 .7 1 .6 1-.1 1 .3 1-.8 1-.3 1 1.2 1-.9 1-1.4 1 .6 1-.1 1 .1 1 .2 1-1.3 1 1.1 1 2.5 1-.8 1-.6 1 1.5 1-2.2 1-1.7 1-.5 1 .5 1-1 1 1.1 1 2 1-.4 1-.4 1-.4 1 2.1 1 .1 1-.6 1-1.9 1 1.1 1-.1 1 .4 1-1 1 .7 1 .9 1-.3 1 .5 1 0 1-.3 1-1.4 1-.3 1 .6 1 .1 1 0 1 1.8 1-.5 1 .6 1-1.3 1-.2 1 .3 1-.3 1 .6 1 .8 1-.4 1 2.4 1-1.4 1-.1 1-1.2 1 .1 1 1.1 1-.1 1 .5 1-1.3 1-.6 1 .6 1-.8 1 .1 1 .9 1 1.1 1 .6 1-.4 1 .5 1-2.2 1-.5 1 1.8 1 .5 1-1.3 1 .3 1 .5 1 .3 1 1 1 .2 1-.5 1 .1 1 .4 1-.5 1-1.9 1-.2 1 1.3 1 .3 1-.7 1-.2 1-.1 1-.4 1 1.5 1-.1 1-.6 1-.2 1 .4 1-.4 1-1 1 .1 1-.1 1 .3 1 0 1 .5 1 .8 1 .5 1-1.2 1 .2 1 1 1 1 1-.4 1-.5 1-.4 1 1.4" fill="rgba(31,119,180,0.2)" stroke="#1f77b4" stroke-width="2"/>
<line x1="440" y1="633.1" x2="988" y2="633.1" stroke="rgba(31,119,180,0.2)" stroke-width="4"/><line x1="440" y1="634.2" x2="988" y2="634.2" stroke="rgba(31,119,180,0.2)" stroke-width="1.7"/>
<path d="M380.0 634.1l1-.2 1-.5 1-.1 1 .2 1 .1 1 0 1-.1 1 .2 1 .2 1-.1 1-.2 1-.2 1 .1 1 .2 1 0 1-.3 1-.4 1-.3 1-.1 1 .2 1 0 1-.2 1-.1 1-.1 1 0 1 0 1-.3 1-.2 1-.1 1 .2 1 .2 1 .2 1 .1 1 .3 1 .5 1 .3 1 .4 1 .4 1-.1 1-.1 1 0 1-.3 1-.6 1-.2 1 0 1-.3 1-.5 1-.2 1 .3 1 .1 1-.1 1 .1 1 .1 1 .2 1 .4 1 .5 1 .2 1-.1 1-.3 1-.1" stroke="#1f77b4" stroke-width="1.4"/>
<path d="M440.0 655.0l1-1.9 1-1 1 0 1-.1 1-1.8 1 .3 1-3.7 1 .7 1 .6 1 .4 1 .1 1-3.3 1-.4 1-1.5 1-1.7 1-.6 1-.9 1 .6 1 1.9 1-1.6 1 1.2 1-.5 1-3.9 1-.5 1-.7 1 1.6 1-2 1 .3 1-1.1 1-.1 1-.7 1-.7 1-.8 1 1.3 1 .8 1-1 1 1 1 1.1 1 2 1 .6 1 .8 1 .6 1 .8 1 .6 1-1.6 1-.8 1-.2 1 .1 1 .6 1-1.1 1 0 1 .2 1 .5 1-.2 1 .4 1 .5 1 .1 1-3.3 1-1.6 1-.1 1 .4 1 3.1 1 1.1 1-.5 1-1.4 1-2.1 1-.3 1-.2 1 1.5 1 2 1 2.2 1-.3 1 1.6 1 0 1 .4 1 .6 1 .7 1 2.5 1 .5 1 .7 1 .6 1-2.2 1-1.7 1-2.1 1-.1 1 2.2 1 1.7 1 1.2 1-2.9 1-2.3 1-1.6 1-1.5 1-1.7 1-.1 1 .4 1-.2 1 0 1 .5 1 .7 1-.2 1 0 1-1.5 1-1.1 1-1.3 1-.9 1-.7 1-.7 1-1.1 1 1.1 1 0 1-.6 1 .1 1 .4 1-1.8 1 2.5 1 .7 1-2.2 1-2.2 1 2.6 1-3.1 1-1.4 1 .1 1-2 1-4 1-2.4 1-2.3 1 2.2 1 .2 1-.8 1 .3 1 1.9 1 3.5 1 2 1-.7 1-4.4 1-1.6 1-3 1 2 1 2 1 3.5 1-.3 1-2.4 1 .6 1-1.4 1-5 1-1.4 1-2.4 1-2.3 1-2.4 1 .5 1-3.2 1-.1 1 4.4 1 .7 1-.8 1-1.7 1-.6 1-2.4 1-3.6 1 1.1 1 1.3 1 1.5 1 3.2 1-.4 1 4.9 1 3.3 1-.4 1 0 1-3.4 1-1.7 1-2.7 1-1 1-1 1 1 1 .2 1-.7 1 .7 1 2.5 1 1.3 1 3.7 1 5.1 1 2.7 1-.4 1-4.2 1-2.3 1-3.8 1 .8 1 1.4 1 1.8 1 2.2 1 2 1-3 1-.5 1 1.2 1-.9 1 .6 1 .1 1 1.4 1 1.4 1 3.5 1 4.6 1-2 1-3.2 1 1.1 1 2 1-.5 1-1.4 1-.9 1-.8 1 .1 1 3.2 1-1.1 1-.8 1-.6 1 1.2 1 .6 1-.7 1-.5 1-3 1-.1 1-1.5 1 2.2 1 2 1 1.4 1-2.5 1-1.1 1 1.9 1 .7 1-1.1 1 1.5 1 1.8 1-1.3 1-2.5 1 .7 1-.9 1 .5 1 3.9 1 2.5 1 1.6 1-1.2 1-.7 1 1 1-2.4 1 1.3 1-1.2 1 0 1-.4 1-.4 1-1.5 1-.5 1 2.3 1 6.2 1 2.8 1-.5 1-1.2 1-.4 1 1.2 1 .8 1 .8 1 .8 1 1.1 1 .5 1-.7 1-2.8 1-.7 1 .1 1 2 1 2.3 1 1.3 1-.5 1 1.9 1-.2 1-.9 1 2.3 1-1 1 1.6 1-.6 1-1.4 1-1.2 1-1.7 1-.4 1 1.2 1 .7 1 .1 1 .6 1 2.3 1 .9 1 .8 1 1.5 1-2.6 1-2.5 1-3.1 1-1.5 1 .7 1 3 1 1 1 1.5 1 0 1-1.8 1-2.2 1-.7 1-.4 1 1 1 .1 1-.2 1 2.7 1 2.8 1 1.3 1 1.4 1 .2 1 0 1-.1 1-.3 1 .1 1-2.3 1-2.2 1 .3 1 1 1 2.2 1 1.5 1-.9 1-.5 1 1 1 .2 1-.7 1 2.4 1 1.4 1-2.2 1-1 1-.5 1-1.3 1-.3 1 1 1-.7 1-.8 1-.2 1 2.6 1 2.3 1 .8 1 1.6 1-1.4 1 .2 1-.4 1-.1 1 .4 1 1.4 1-.3 1-1.7 1 0 1 .7 1-.5 1-1 1-.3 1 1.4 1 1.3 1-.6 1-.4 1 .9 1-.1 1 .6 1-.3 1 1.1 1 1.2 1-2.4 1-1.8 1-.1 1-.9 1 2 1 .9 1-.3 1-.6 1-.6 1 .9 1 1.1 1-1.6 1 .8 1 .7 1-.8 1 0 1-.1 1 .8 1-.4 1 1.1 1-.3 1 .1 1-1.5 1 .2 1-.5 1 1.9 1-.8 1 1.5 1-.5 1-.9 1-1.2 1 .9 1-.1 1 .3 1 1.6 1 .3 1 .1 1-1.1 1-2.3 1-1 1-.3 1 1.2 1 .4 1 .2 1 0 1 .8 1-.3 1-.1 1 0 1 0 1-.3 1 .3 1 .1 1 .5 1-.3 1 1.3 1 0 1 1.7 1 .7 1-.1 1-.3 1-.4 1-.1 1-.5 1-.7 1 .8 1-1.2 1 .3 1 .3 1 1.5 1-.7 1-1.2 1-.1 1 0 1-.2 1 .6 1 1.9 1-.4 1-.1 1-.7 1-.5 1 .9 1-1.7 1-.9 1 1.2 1 .2 1-1.1 1 .2 1-.3 1 .7 1-.9 1 1 1 0 1 1 1 1.1 1-1.2 1-.3 1-.2 1-1.3 1 1.4 1-.6 1-1.3 1 .1 1 .3 1 .6 1-.4 1-.9 1 .4 1 0 1 1.9 1-.4 1-1.1 1 .8 1 1.2 1 .2 1 1.2 1-.2 1-1.1 1-.6 1 .3 1-1.5 1 0 1-.3 1 1.1 1-.1 1 .9 1-.2 1 .5 1 .6 1-.7 1-.1 1 .3 1 .1 1 0 1-.9 1 .7 1-1.2 1-.6 1-.5 1 2.1 1-.3 1-.1 1-1.1 1-.2 1 .4 1 .6 1-.9 1 2.3 1-.8 1 .7 1-.5 1-1.9 1-.6 1 1.6 1 .2 1 .5 1 .1 1-.4 1-1.5 1 .2 1 .4 1 .3 1 .3 1 .3 1 .6 1 .5 1-.3 1 .6 1-1.1 1 .5 1-.6 1 1.1 1 .3 1 .2 1-1.8 1-.3 1-.6 1 1.3 1 1.8 1 .1 1 .3 1-.5 1-.8 1 .4 1 1.2" fill="rgba(31,119,180,0.2)" stroke="#1f77b4" stroke-width="2"/>
<line x1="440" y1="654.7" x2="988" y2="654.7" stroke="rgba(31,119,180,0.2)" stroke-width="4"/><line x1="440" y1="655.9" x2="988" y2="655.9" stroke="rgba(31,119,180,0.2)" stroke-width="1.7"/>
<path d="M380.0 654.0l1 .5 1 .4 1 0 1-.5 1-.2 1 0 1-.3 1-.4 1-.1 1 .2 1 .4 1 .2 1 .1 1 .1 1 .4 1 .2 1 0 1-.1 1-.3 1 .1 1 .6 1 .4 1-.1 1 0 1 .1 1-.1 1-.1 1 0 1 0 1 .3 1 .2 1-.2 1-.2 1 0 1 .2 1 .3 1-.1 1-.3 1-.5 1-.7 1-.3 1-.3 1-.3 1-.2 1-.2 1-.2 1 .1 1 .4 1 .3 1 .5 1 .5 1 .6 1 .3 1 0 1 0 1 0 1 .1 1-.2 1-.3 1-.3" stroke="#1f77b4" stroke-width="1.4"/>
<path d="M440.0 697.4l1-1.1 1-.1 1-.5 1 .1 1-.2 1-1.9 1-1.5 1-.8 1 .1 1-2.4 1-.3 1 .3 1-1 1-.9 1-.6 1-1.5 1-1.4 1 .9 1-.4 1 .4 1-.4 1-.2 1-1.5 1 .4 1 .4 1-1 1-.2 1-.5 1-2.7 1-.2 1 2.7 1 1.8 1 1.8 1 1.9 1-1.4 1-.4 1 0 1 1.1 1 .1 1-2.7 1 1.3 1-.4 1 1.7 1-1.5 1-.5 1-2 1-.6 1 2.3 1 1.2 1 1.4 1-.1 1-.2 1-.2 1 .1 1-.1 1-.5 1-.3 1-2.1 1 .9 1 3.1 1-.1 1 1.4 1-1.2 1-.4 1-2.7 1-2.9 1 1.1 1-1.8 1 .1 1 1.7 1 2.1 1-1.3 1-.1 1-.6 1 1.8 1 0 1-1.7 1-.1 1-.9 1-1.1 1-.6 1-.7 1-3.1 1-2.1 1-3.9 1 .2 1 1.9 1 1.2 1 1.6 1 .4 1-1.4 1 1 1-2.5 1-5.7 1-4.4 1-1.8 1-.7 1 1.4 1 .9 1 1.8 1 2.6 1 1.9 1 1.2 1-3.2 1-.5 1-6.1 1-2.3 1-.7 1 3.4 1 1.4 1-2.9 1-5.5 1-2.7 1 3 1 3.8 1 2.1 1-.2 1-5.6 1-4.1 1-8.5 1 .2 1 1.5 1 3.2 1 4.9 1 1.3 1-1.3 1-1.4 1 .9 1 .2 1-.5 1 .9 1-1.4 1-2.9 1 4.1 1 2.4 1 1.2 1-.8 1-3.6 1-3 1 .4 1-2 1 1.1 1 .6 1 4.7 1 .6 1 .9 1-2.7 1-1.5 1 .9 1 1.4 1 5.6 1 .3 1 1 1-1.1 1 .4 1 .4 1-.7 1 .6 1 .5 1 1.8 1-1.6 1-4.2 1-1.9 1-1.8 1-.6 1 .5 1-.9 1-1.5 1 1.3 1 .2 1 3.1 1 1.9 1-.6 1-2.5 1-.1 1 2.5 1 .4 1-.5 1 1.3 1 .6 1 1.2 1-2.9 1-.5 1-.5 1-.5 1-3.9 1-.2 1-.6 1-.3 1 .2 1 2.3 1 2.8 1 3.8 1 .6 1-1.5 1-.6 1-1.4 1 2.2 1 3.6 1 3 1 1.8 1-2.6 1-.2 1-2.9 1-.9 1 .8 1 3.5 1 3.3 1-.1 1 1.9 1 .7 1 0 1-.9 1-3 1-2.9 1 .6 1 3.6 1 1.5 1 1.4 1 .8 1-.4 1 .1 1-1.9 1 1 1-.1 1 1.6 1-.8 1 1 1 0 1 1 1 .8 1 2.1 1 1.1 1-1.1 1-1.3 1 1 1 1.5 1 .8 1 .5 1-1.6 1-.2 1-.3 1-.3 1 1.4 1 .2 1 2 1 1.1 1 .2 1-4.9 1-5.3 1-3.5 1 1 1 2.8 1 2.1 1-4.5 1-2.5 1-3 1 3.2 1-3 1-.5 1 3.6 1 1.9 1 3.1 1 .4 1 1.4 1 1.8 1 2.2 1 2.5 1 2.4 1 1.8 1 2.6 1 1.6 1-1.1 1-1.3 1-2.4 1 0 1 2.1 1 2.9 1 .5 1-1.1 1 .4 1-1.7 1-.2 1 1.1 1-.7 1 0 1-.9 1 .4 1-1.3 1-1.1 1 .1 1-1.3 1 2.4 1 2.2 1-.6 1 .1 1 .3 1-.5 1-.3 1-1.1 1 .2 1-.6 1 1.4 1 .7 1 1.5 1 1.4 1 .3 1 .8 1-1.2 1 .2 1-1 1-.2 1-1.5 1-.6 1 2.7 1-.2 1 .8 1 1 1 .6 1 .2 1 0 1-1.3 1-2.2 1-.8 1 .2 1 .4 1 .8 1 1.8 1 1.2 1-1.8 1-.6 1-.6 1-.9 1-.1 1-.2 1-1.8 1 .6 1 1.3 1 2.8 1 .3 1 3 1 .3 1-.3 1-.5 1-.8 1-3.4 1-.3 1 .1 1 1 1 2 1 2.9 1-.2 1-.8 1-1.4 1-1.1 1 .1 1 1 1-.8 1-.4 1 .9 1 2.4 1-.1 1-.9 1 0 1-.6 1-.2 1-1.4 1 .3 1-.2 1 .3 1 .2 1-.5 1 .7 1 0 1 .1 1 .6 1 1.7 1 .8 1-.3 1-.3 1-1.2 1-1 1 .4 1-.4 1-.5 1-.5 1 .5 1-.8 1 .4 1 1.2 1-.9 1-.5 1 .9 1-.2 1-.2 1 .7 1-.5 1 .8 1 .3 1 .3 1-.4 1 2.2 1-.5 1-2 1 0 1-.4 1 .3 1 .8 1 .3 1 .1 1-.9 1-.3 1 .8 1-.2 1 .5 1 .6 1 .4 1 1 1-.5 1-1.6 1-.2 1-.1 1 .4 1-1.6 1 .7 1 .8 1 1.2 1-.3 1 .2 1 .4 1-1.7 1 .7 1 .2 1 .3 1-.8 1-1.3 1-.2 1-1 1-.6 1 1.4 1 .5 1 .3 1 .9 1 0 1-.2 1-.3 1 1.3 1 .6 1 .5 1 1.2 1 1.2 1-2.2 1-.1 1 1.8 1-.3 1-.6 1-.5 1 0 1-1.2 1 .6 1 .7 1-.1 1-1.9 1 .9 1 1.5 1-.4 1-.3 1 .4 1-.3 1 .7 1 .3 1 .2 1-1.7 1-.3 1 0 1 .8 1-.5 1-.8 1-.2 1 .5 1 1.3 1-.1 1-.5 1-.9 1 .1 1 1.1 1 0 1-1.1 1 1.5 1 .6 1 .5 1 .3 1-.4 1-1 1-1.3 1 .4 1 2.1 1-.7 1 1.6 1 1.2 1-1 1-1.8 1 .6 1 0 1-.8 1 .5 1 .1 1 .5 1-.5 1-.7 1-.1 1-.2 1 2.1 1 .4 1 .1 1-2.2 1-.3 1 .2 1-.8 1-.7 1 1.8 1 .7 1-1.3 1 .5 1 .4 1-.8 1 .7 1-1.3 1-1.3 1 .9 1 .7 1-.1 1 .5 1 1.5 1 .2 1 .6 1-.4 1-.6 1 .5 1-1 1 .9 1-.7 1 .7 1-.2 1 1.1 1-1.2 1-.8 1 2.9" fill="rgba(31,119,180,0.2)" stroke="#1f77b4" stroke-width="2"/>
<line x1="440" y1="697.1" x2="988" y2="697.1" stroke="rgba(31,119,180,0.2)" stroke-width="4"/><line x1="440" y1="698.2" x2="988" y2="698.2" stroke="rgba(31,119,180,0.2)" stroke-width="1.7"/>
<path d="M380.0 697.4l1-.2 1-.5 1-.5 1-.3 1 .1 1 .2 1 .1 1 0 1 .1 1 .1 1-.2 1-.1 1 .2 1 .2 1 .2 1 .3 1 .1 1 .1 1 .1 1-.1 1 .1 1 .1 1-.2 1-.4 1-.1 1-.2 1-.4 1-.2 1-.1 1 .1 1 .3 1-.2 1-.4 1-.1 1 .5 1 .4 1 .1 1 .2 1 .2 1 0 1 .1 1 .2 1 .1 1 .2 1 .3 1 .5 1 .2 1-.3 1-.2 1 .1 1 0 1-.1 1 0 1-.2 1-.3 1-.3 1-.3 1 0 1 .1 1 .3" stroke="#1f77b4" stroke-width="1.4"/>
<path d="M440.0 752.3l1-.7 1 .2 1-.9 1-1.9 1 .9 1 .4 1 .1 1-.2 1-.9 1-.4 1-3.1 1 1.3 1 1 1 .7 1 0 1-1.8 1-.6 1-.8 1-.2 1-1.9 1-1.8 1 0 1-.5 1-.8 1 .3 1 .5 1-.2 1 .3 1 1.2 1 .5 1 .1 1 .1 1-.3 1-2.7 1 .1 1-1.4 1 .9 1-1.2 1 2.1 1 .4 1-.6 1-1.3 1-2 1-1.9 1-.2 1-.3 1 .8 1 1.4 1-.9 1 .5 1-2.1 1-1.9 1-.2 1 .6 1 2.1 1 2.1 1 2.5 1 2.5 1 1.1 1-2.1 1-2.3 1-1.3 1 .2 1-1.1 1-1.1 1 .2 1-1.6 1 .6 1 4.1 1 .8 1 1.2 1 1.8 1 .9 1-1 1 .8 1-2.2 1-1.4 1-.3 1 .5 1-1.8 1-1.3 1-.4 1 1.5 1 1.2 1 1.6 1-1.5 1 .2 1-1.1 1-.6 1-3.3 1-2 1-2.6 1-6.8 1-3.9 1-.4 1 .1 1-2.2 1-2.7 1-6.4 1-2 1-3 1 .1 1 .2 1 2.3 1 1 1-1.1 1-1.8 1-1 1-.5 1-.2 1 .2 1-.8 1-2.8 1 2.4 1 5.2 1 3.2 1 .4 1-1.3 1-.7 1 1.6 1-.7 1 2.8 1-.8 1-.5 1-.9 1-.6 1 2.5 1 3.5 1 2.1 1-3.4 1-2.1 1-2.3 1 .4 1 4.8 1 4.1 1 2 1 .3 1-3.5 1-3.4 1 .1 1 .2 1 .8 1 2.5 1 .8 1 4.5 1 3.9 1 1.9 1 2.5 1 2.4 1 .4 1-.1 1 .3 1-1.3 1-.6 1 .9 1-1.7 1 .3 1-2.3 1-.8 1-2.2 1-.6 1-.5 1-.9 1-1.9 1 .1 1 1 1 1.5 1-.7 1 .9 1-1.9 1-1.9 1-5.2 1 .8 1 .7 1-1.7 1-1.6 1 .3 1 2.1 1 3.6 1 3.5 1 1.2 1 .5 1-.5 1 .2 1-1.2 1 2.3 1 1.4 1 3.6 1 1.5 1 .9 1 .9 1-2.7 1-1.3 1 .6 1 1.8 1-.2 1-1.3 1-.7 1-1.4 1-.2 1-.2 1 .1 1 0 1 .9 1 2.1 1 2 1 2.9 1 1.1 1-1.1 1 1 1-.5 1-.2 1 1.8 1-1 1 .8 1-.5 1-1 1 2 1 .1 1-.6 1-1.7 1-.1 1-.3 1-.8 1 .3 1-.5 1-.3 1 .8 1-.3 1 2.2 1 .2 1-.5 1 1.1 1 1.4 1 .7 1 0 1-.7 1-1 1 1.3 1-.7 1-1 1-.8 1 .4 1 1.3 1 .2 1 1.4 1 .6 1 1 1 .6 1 1.7 1-1.8 1-2.8 1-2.4 1 1.9 1 2.9 1 .6 1 .8 1-.2 1 .2 1-1.2 1 .8 1-.8 1-1.4 1-.7 1 .1 1 1.8 1 1.9 1 .7 1 .5 1-1.5 1-.9 1-.6 1 .2 1-.8 1-.4 1-.8 1-.1 1 .3 1-1.8 1 .3 1 1 1 .5 1-.1 1 .1 1 .6 1 1.4 1-.1 1 2.2 1-.4 1-.6 1 .6 1-1 1-1.6 1-1.5 1-1.4 1 .1 1 .8 1 .5 1-1.4 1-.2 1 2 1 1.6 1 2.3 1-2.2 1 1.1 1 .9 1-1.3 1 .5 1 .1 1 .4 1 .8 1 .8 1 0 1 .9 1-.5 1-.9 1-.2 1-.7 1 1.9 1 .9 1-.2 1-1.4 1 1.5 1 .6 1 .4 1-.8 1 .7 1-.9 1 .8 1-.3 1-1 1-.2 1 1.5 1 1 1 .5 1 .1 1-.8 1-1.5 1-2.2 1 .7 1 2.5 1 .8 1-.5 1 .9 1-.4 1-.8 1-.5 1 .5 1 1 1-.5 1-.4 1-.9 1-.6 1-.4 1 .2 1 1.8 1 .3 1 .1 1 .4 1 .4 1-.3 1-.4 1-.7 1 .2 1-1.1 1-.7 1 2.8 1 .5 1-1.1 1 1.3 1 1.6 1-.5 1 .3 1-3 1-1.1 1 0 1 .1 1 .5 1-.1 1 2.3 1-.1 1 1.1 1-.8 1 .8 1-1.2 1 .6 1 2 1-.3 1-.3 1-.3 1-2.4 1-.5 1-.7 1 .5 1-1.1 1 1.2 1-.1 1 1.2 1 0 1-.7 1-.1 1 1 1 .7 1 0 1-.1 1-1.3 1 0 1 1.1 1-.3 1-.9 1 .9 1 .2 1-.4 1-1.5 1 1 1-.5 1-.9 1-.4 1 .7 1-.4 1-.3 1-1.5 1 1.1 1 1.1 1 1.1 1 1.6 1-.7 1-.9 1 .4 1-1.3 1 .3 1 .1 1 .9 1 .3 1-.6 1-1 1 0 1-.3 1 2.1 1 .2 1 .7 1-.3 1-.3 1-.9 1 .8 1-.2 1 0 1-.6 1-.7 1-.1 1 .9 1-.4 1-.2 1 .1 1 .1 1 1.4 1 0 1-.1 1 .2 1-1.6 1 1 1-1.2 1-.7 1 .3 1 .5 1-.4 1 1.4 1 .1 1 .7 1 .7 1-.1 1-.3 1-.8 1-.7 1-.7 1 0 1 .1 1 1.4 1-1.3 1-.8 1 1.5 1 1.5 1 .1 1-1.6 1 .3 1 0 1 .4 1 .2 1 1.1 1 .7 1 .3 1-1.2 1-1.9 1 .5 1 .8 1-1 1 .8 1-1.4 1-.1 1 1.2 1-.3 1-.3 1 .5 1 .1 1-1.1 1 2.1 1-.4 1 0 1-1.3 1-1.1 1 .9 1 .6 1 .8 1 1.5 1-1.4 1-1.2 1 .2 1 1.5 1-.2 1 .3 1-.2 1-.2 1 .1 1 .7 1-1.2 1 .1 1-1 1 1.7 1 .2 1 .3 1-.1 1 .2 1 .2 1-.4 1-1.2 1 1.1 1 .5 1-.6 1 .6 1 0 1 .1 1 .2 1-.2 1-1.2 1-.2 1-2 1 .2 1 2.2" fill="rgba(31,119,180,0.2)" stroke="#1f77b4" stroke-width="2"/>
<line x1="440" y1="752" x2="988" y2="752" stroke="rgba(31,119,180,0.2)" stroke-width="4"/><line x1="440" y1="753.1" x2="988" y2="753.1" stroke="rgba(31,119,180,0.2)" stroke-width="1.7"/>
<path d="M380.0 753.6l1 .3 1-.2 1-.2 1-.5 1-.8 1-.6 1-.2 1-.1 1 0 1 0 1 0 1 0 1-.1 1 .1 1 .3 1 .3 1 0 1-.2 1-.1 1-.1 1-.1 1-.1 1-.1 1 .2 1 .4 1 .3 1 .1 1-.1 1-.1 1 .2 1 .2 1 .1 1-.3 1-.4 1-.3 1-.4 1-.3 1 0 1-.3 1-.3 1 .2 1 .6 1 .5 1 .2 1 .4 1 .5 1 .5 1 .2 1-.2 1-.2 1 .3 1 .4 1 .5 1 0 1-.3 1-.3 1-.3 1-.2 1-.3 1-.4" stroke="#1f77b4" stroke-width="1.4"/>
<path d="M440.0 806.0l1-2.7 1 .5 1 0 1 1.2 1-1.1 1 .4 1-.5 1-1.5 1-1.5 1 .4 1 .5 1 1.2 1 .3 1-1.2 1-1.4 1-.2 1-.8 1 .2 1 .1 1-.1 1 0 1 .8 1-.8 1-1.3 1 .3 1-.1 1-1.5 1 .4 1 1.1 1 1.8 1 .1 1-1.4 1-.8 1-1.8 1 .5 1-2.6 1-1.3 1 1.4 1 2.2 1 1.4 1-1.5 1-1.9 1-.2 1 1 1 .1 1 1 1-.7 1-1.2 1-1.4 1 .4 1 1.5 1-.4 1 .3 1 0 1 .1 1 .7 1 .8 1-.3 1-.2 1-2 1-.1 1 .3 1-.9 1 1.5 1-1.1 1 1 1 .2 1 .2 1-1.9 1-.9 1-.9 1-.6 1-2.7 1-1.9 1-7.2 1-8 1-6.6 1 1.1 1 4.1 1 4.7 1-1.8 1-1.5 1-4.3 1-1.1 1-1 1-5 1-1 1 3.7 1 .5 1 1.5 1 4.5 1 2.2 1-4.4 1-1.3 1 1.6 1 .4 1-.4 1-.3 1 1.9 1-1.1 1 1.4 1 1.8 1 1.4 1-.5 1 .7 1 .3 1-.1 1 1.4 1 2 1-1.9 1-.7 1-3.9 1-2.9 1-1.5 1-3 1-3.6 1 1.1 1 3.3 1 3.8 1 3 1 1.6 1 4.4 1 1.8 1 2.3 1-.6 1-1.8 1-.7 1-1.4 1 .8 1 2.1 1 .4 1 1.4 1 1.8 1 1.7 1 2.9 1 1 1-1 1-1 1-1.7 1-4.2 1-.8 1 1.7 1-1.7 1 .7 1 1.8 1-1.2 1-2.8 1 .8 1 1.7 1 .5 1-.2 1 .7 1-1.8 1-1.7 1-.6 1 1.3 1 .4 1 1.4 1-1.1 1-.5 1-1.1 1-1.6 1-.7 1 .7 1-1.2 1-.6 1 1 1-1.2 1-1.8 1-2.3 1 4.7 1 .2 1 4.2 1 2.9 1 2.4 1-3.5 1-3.7 1-.4 1-1 1 1 1 1.8 1 1.5 1 4.6 1 3 1-1 1-1.1 1 1.7 1 1.1 1 3 1 .1 1 .5 1 1.1 1-1.2 1-2.5 1 .6 1 .9 1 .7 1 .9 1-1.1 1-.4 1 .7 1 2.1 1 2.2 1 1 1-.6 1-1.4 1 1.8 1 .2 1-1.6 1-1 1-.9 1 .7 1 .1 1-.3 1-.4 1-.9 1 .1 1 1.6 1 .3 1 1.2 1-.6 1 1.5 1 .9 1 .8 1 .6 1-1.3 1-.9 1-1 1-.1 1 .9 1-1.5 1-.1 1 1.5 1 .7 1 1 1 .2 1-1.1 1-.7 1-.3 1 2.6 1-1 1 1.5 1 .7 1-1.7 1-.5 1 .1 1-.4 1 .3 1 0 1-.8 1-.6 1 2.4 1 1.5 1 .2 1-.4 1 1.8 1-1.9 1-.7 1-.1 1-.8 1-.2 1 1.1 1 .8 1 .4 1-.9 1-1.4 1 .3 1 1.5 1-.2 1 1.6 1-.7 1-.4 1-.5 1 1.1 1 .7 1-.6 1-1 1 .1 1-1.3 1 1 1-.3 1 .2 1-1.9 1 .9 1 1.3 1-1.4 1-3 1 1 1 1.6 1 2.2 1 1.2 1 1.2 1-.3 1-2.1 1 1.1 1 0 1 0 1-.3 1 .6 1 1.1 1-.8 1-.7 1 1.8 1 .6 1-1.6 1-.5 1-1 1-1.1 1 2 1-1 1 1.5 1-.7 1-1.5 1 1.2 1 .6 1 1.6 1 .2 1 .3 1-.8 1-.2 1 0 1-1.7 1-1.3 1-.3 1 1.1 1 1.5 1 1.1 1-1.3 1 .1 1 0 1-.1 1 .5 1 .3 1-1.2 1 .3 1 .7 1-.8 1 .1 1-.6 1-.3 1-.7 1-.3 1-.6 1 1.2 1 .5 1-.7 1-.5 1-.4 1 .2 1 .1 1 .2 1-.7 1-.1 1 .4 1-.1 1 2 1-.2 1 .9 1-.1 1 .7 1 .8 1 1.1 1-.5 1 1 1-.4 1 0 1-.5 1-1.9 1-.4 1-1 1 1.3 1-1 1 1.5 1 .2 1 0 1-.1 1-.6 1-.4 1 .4 1 .7 1-.4 1 0 1-.3 1 .3 1 1.8 1-.5 1-.8 1 .2 1 0 1 0 1-.8 1 .3 1-.7 1-.3 1 2.3 1 .2 1-1.2 1-.2 1-.9 1-.2 1 .4 1 .3 1-.8 1 0 1 .9 1-1 1 .1 1 2 1-.1 1 .4 1-1.3 1 .1 1-1.5 1 .2 1-1.2 1 2.2 1 1.2 1-.5 1-.7 1 .3 1 .4 1-.7 1 .5 1 1.8 1 .5 1-1 1-1.2 1-1.3 1-.4 1 1.6 1 .7 1 0 1 1.4 1 0 1-.7 1-.6 1-.6 1 0 1 .1 1 0 1-1.4 1-.7 1 0 1-.2 1 .3 1 1 1 .1 1 .3 1 .1 1-1.3 1 .1 1 1.9 1-1.3 1-.4 1 .7 1-.7 1 .8 1 .5 1 .4 1 .1 1-.2 1-1 1-.6 1 1.8 1 .6 1-.5 1-1.2 1-.3 1 .4 1-1.2 1 .1 1 1 1-.7 1-.3 1-.9 1 0 1 1.8 1 .8 1 .1 1 1 1 .9 1-.7 1 .1 1-.6 1 .1 1-.6 1-.5 1 .2 1 .6 1-.7 1 .5 1-.5 1-.9 1-.1 1-.1 1-.3 1 .4 1 .6 1 .1 1-.2 1-1 1-.2 1-.2 1 1.5 1-.1 1-1.3 1-.9 1 1.7 1 4.4" fill="rgba(31,119,180,0.2)" stroke="#1f77b4" stroke-width="2"/>
<line x1="440" y1="805.7" x2="949" y2="805.7" stroke="rgba(31,119,180,0.2)" stroke-width="4"/><line x1="440" y1="806.9" x2="949" y2="806.9" stroke="rgba(31,119,180,0.2)" stroke-width="1.7"/>
<path d="M380.0 807.8l1 0 1-.1 1 0 1 0 1-.4 1-.7 1-.5 1-.2 1-.3 1-.4 1-.4 1-.2 1 .2 1 .2 1-.3 1-.2 1-.1 1 .2 1 .2 1 .2 1 .4 1 .5 1 .4 1-.1 1-.1 1 .2 1 .3 1 .2 1 .4 1-.1 1-.1 1 0 1-.1 1-.3 1 0 1 .1 1-.2 1-.2 1-.4 1-.3 1 0 1 .2 1 .5 1 .4 1-.1 1-.3 1-.3 1-.1 1 0 1 .2 1 .3 1 .3 1-.1 1 0 1 0 1 .1 1 .1 1-.3 1-.3 1-.2" stroke="#1f77b4" stroke-width="1.4"/>
<path d="M440.0 816.0l1-.3 1-.6 1-.3 1 .6 1 .6 1-1 1 .9 1-2.7 1-.2 1-.8 1 .7 1-1.6 1-.6 1 .8 1-1.6 1-.8 1-1.7 1-.7 1 2.1 1-.4 1-1.6 1-1.6 1-.5 1 0 1 .1 1 2.6 1-.8 1 .2 1-.4 1 0 1-1.5 1-1.1 1-2.5 1-2.4 1 2.1 1-.4 1-.6 1 .1 1 .2 1 .6 1 .2 1-1.4 1-.4 1-2.2 1 .5 1 2.1 1-3.1 1-2.8 1-2.3 1-.3 1 .5 1 .5 1 2.4 1-.6 1 0 1-2.3 1-3.8 1 .3 1 1.1 1 .7 1-.2 1 .6 1 0 1-2.9 1-2 1-1.5 1-1.6 1-1.5 1-.1 1 .2 1 .9 1 1.7 1-2.6 1 2.3 1-1.5 1-1.8 1-4.4 1 .5 1-.7 1-.8 1-1.4 1 1.1 1 2.6 1 2.4 1 2.3 1-.1 1-2.4 1-2.4 1 .1 1-2.4 1 .6 1 1.7 1 2.4 1 1.2 1-2.6 1-4 1-2.2 1 .3 1 1.4 1 2.9 1-4 1-.5 1-.9 1 4.7 1-1.7 1 0 1 1.1 1-.6 1-1.2 1 1.3 1 2.4 1-1.5 1-3.8 1-6.2 1-.8 1-2.5 1 6.9 1 3.6 1 2.2 1-2.4 1-2.2 1-2 1-.8 1 .1 1 1.1 1 2.4 1 1.6 1 1.1 1 .9 1-1.5 1 .2 1 .3 1 3.1 1 .9 1-.1 1-3 1-.1 1 4.4 1 .3 1 2.4 1 3.2 1 .7 1-1.7 1-2.5 1-.9 1 1.5 1 3.5 1 .9 1-.7 1 0 1 1.4 1 2.8 1-2.8 1 .2 1-.9 1 4.1 1 2.3 1 .6 1-1.1 1 2.2 1-.6 1-1.5 1 .8 1 .8 1 1.4 1 2.4 1 .8 1-1.3 1 1.5 1 .5 1 .4 1 1.6 1-1.2 1-1.3 1-.1 1 1.2 1-.9 1-.5 1-1.2 1-.7 1-1.3 1-2.5 1-1.2 1 .7 1-.5 1 1.9 1 .1 1 .4 1 .2 1-1.3 1 .4 1 .9 1 .5 1 .2 1-.2 1 .6 1 1.2 1-.6 1-2.9 1 .1 1-1.3 1 1.8 1-.1 1 .3 1 1.3 1-.7 1-1.5 1 .2 1-.1 1 .1 1 .8 1 1.8 1 .6 1-2.8 1 .3 1 .8 1-.2 1-1 1-1.5 1-1.1 1 2.6 1 .9 1 2.3 1 2.6 1 .6 1 2.3 1 1.5 1 1 1 1.8 1-.2 1-2.6 1-3.3 1-.9 1 .3 1-1.4 1 1.4 1 0 1 1.1 1-1 1 .2 1 .5 1-.2 1 2.2 1 1.5 1 .2 1-.1 1 .5 1-.6 1-1.1 1-1.5 1-.8 1 1 1 1.3 1-1.3 1 1.9 1-1.6 1-.3 1 1.3 1 1.6 1 .1 1-.8 1 .6 1 1.5 1 .5 1 1.5 1-1.6 1-.7 1-.2 1 .7 1 .3 1-.9 1 .9 1-1 1 .1 1 .3 1 .6 1-.2 1-.8 1-2.2 1-.6 1 0 1 .3 1 1.4 1 3.1 1 .9 1 .8 1-.6 1-.7 1-.9 1-.1 1 1.4 1 .3 1-.4 1 .2 1-.6 1-.3 1 .1 1 1 1-.4 1 .3 1 .8 1 1.6 1 .2 1 1.3 1 .8 1-.3 1-2.1 1-.6 1-2.3 1 0 1-.5 1 .9 1 .1 1 .3 1-.3 1-.9 1 .1 1 .9 1-1.8 1 1 1-.7 1 .9 1 .2 1-.9 1 2.5 1-.2 1-.4 1 .7 1 1.7 1 1 1-1.6 1 .4 1-1.7 1-.9 1-1.3 1 .6 1 2.5 1 .8 1 .3 1-.1 1 .3 1-.3 1 .3 1-1 1 0 1 1.1 1 1 1 .6 1-.6 1-1.5 1 1 1-.9 1 .2 1-2 1-1.7 1 1.1 1 1.1 1-.2 1 0 1-.1 1 .2 1 .3 1-.4 1 1.3 1-1.2 1-1.4 1 .2 1 .7 1 1.4 1-2.2 1-.3 1-.7 1 2.7 1-1.4 1 0 1 .2 1 .1 1 1.5 1 1.2 1-.9 1 .8 1 1.2 1 1.8 1-1.6 1-.3 1-1.8 1-.2 1 .6 1 .8 1-.3 1 .5 1-.4 1-1.4 1 0 1-1.9 1 1.5 1 0 1 1.9 1-.3 1 1.9 1 .1 1-1.1 1-1 1 .2 1-.2 1-.1 1-1.8 1 .9 1 .7 1 .3 1 .2 1-.9 1-.9 1 .6 1-.2 1-.5 1 .7 1 1.2 1 .1 1 .5 1 .7 1-1.1 1 .8 1-.9 1-.4 1-.2 1 2 1-1.7 1-.7 1-.3 1 1.1 1 .2 1-.6 1-.7 1-1 1 .7 1 1 1 .6 1-1.6 1 2 1-.6 1 .3 1 1.6 1-.7 1 .6 1-.6 1-.5 1-.2 1 1.7 1-.6 1-.9 1 .6 1-1 1 .8 1 .1 1 1.1 1-.2 1-.1 1-1 1 .2 1 .4 1 1.2 1-.2 1 1.4 1-.8 1 .3 1-.2 1-.5 1 1.2 1 .4 1-1.1 1-2.2 1 .3 1-.3 1-.2 1 .9 1 1.1 1-.4 1 .4 1-.7 1-.7 1 .7 1 1.1 1-1.7 1-.6 1 .5 1 1 1-1.6 1 .5 1-1.8 1 2 1 .3 1-.3 1 .8 1-.9 1-.2 1 .4 1 .6 1 1.3 1 .2 1 1.2 1-1.9 1 .8 1-1 1-.3 1-.3 1 .1 1 1.1 1 .4 1-1.3 1 1.2 1 0 1 0 1-.3 1 1.2 1-.9 1 .4 1 .3 1 .2 1-1 1-.8 1-1.9 1-.3 1 .9 1 1.4 1-.7 1-1.1 1 2.3 1-.6 1-.2 1 .1 1-1 1-.1 1 .6 1 .8 1 .9 1-.2 1-.4 1 .8 1-1.3 1-.7 1-.6 1 1 1 .6 1-.8 1 1.6 1 0 1 .2" fill="rgba(31,119,180,0.2)" stroke="#1f77b4" stroke-width="2"/>
<line x1="440" y1="815.7" x2="988" y2="815.7" stroke="rgba(31,119,180,0.2)" stroke-width="4"/><line x1="440" y1="816.9" x2="988" y2="816.9" stroke="rgba(31,119,180,0.2)" stroke-width="1.7"/>
<path d="M380.0 817.1l1-.3 1-.5 1-.6 1-.3 1-.1 1-.4 1-.2 1 .4 1 .5 1 .3 1 .1 1 .2 1 .1 1-.2 1-.2 1 0 1 .2 1 0 1-.2 1-.1 1 0 1 .1 1 .2 1 0 1 .2 1 .3 1 0 1 0 1 0 1-.1 1 0 1 .2 1 0 1-.2 1-.2 1-.5 1-.6 1-.1 1 .3 1 .2 1 .2 1 .2 1 .1 1 .2 1 .4 1 0 1 .1 1-.1 1-.3 1-.3 1-.2 1-.3 1-.5 1-.5 1-.3 1 .2 1 .3 1 .3 1 .4 1 .5" stroke="#1f77b4" stroke-width="1.4"/>
<path d="M440.0 860.0l1-1.1 1-.6 1 1 1-.4 1 0 1-3.2 1-.7 1-2.4 1-1.5 1 .6 1 .8 1 .6 1-.3 1-.1 1 .3 1-.9 1 .1 1-.1 1-.8 1-1.8 1-.5 1-.7 1-1 1-.4 1 2.4 1 1.1 1 .7 1 1.5 1 .4 1 0 1-.2 1-1.3 1-.9 1-.4 1 .7 1-.4 1 .9 1 .1 1-2.2 1-1.3 1 0 1 1.6 1 .4 1 .4 1 3.1 1 1.4 1-.9 1-2.8 1-1.3 1 .2 1 1 1-.2 1 .3 1 .3 1-.3 1 1.9 1 .7 1 .4 1-.1 1 .7 1-2.2 1-.9 1-.9 1-1.2 1-2.1 1-3 1-1 1-1.8 1-1.9 1-.5 1-4.2 1-.6 1-2.2 1-1.8 1-2.4 1-.7 1 .6 1 .2 1 1.7 1 .3 1 3 1 1.4 1 2.9 1 2.9 1 .1 1-1.1 1 .4 1-3.7 1-2.2 1-2 1-.8 1-.6 1-2.2 1-1.4 1-5.3 1 2.1 1 2.7 1 2.7 1 .2 1-4.3 1-2.1 1-1 1 3.5 1 4.1 1 4.2 1 2.5 1 1.1 1-.3 1-4 1-1 1-2.7 1 1.5 1 2.4 1 4.5 1 2 1 1 1-.2 1-5.9 1-2.5 1-3.2 1-3.5 1-.1 1 .8 1 2.1 1 4.4 1 1.4 1-.4 1 0 1-.7 1 .5 1-1.1 1-1.3 1 .1 1 1.7 1-.5 1 .9 1 4 1 1.9 1-.2 1-1.2 1 .7 1-.5 1 2 1 1.1 1 .1 1 .9 1-1.3 1-.7 1-1 1 .2 1 .7 1 4.1 1 1.3 1 .4 1-3.1 1-2.5 1-.7 1 2.4 1 0 1 2.1 1 2.7 1 .7 1-1.3 1-1.2 1 2.3 1-1.2 1-.8 1-1.4 1 2 1 2.8 1 .7 1-3.2 1-3.2 1-1.4 1-.1 1 1 1-.3 1 1.8 1 2.5 1-.4 1-.5 1-.4 1 .2 1 1 1 3.2 1 .6 1 .7 1-1.4 1-.5 1-1.4 1-.9 1 1 1 0 1 .3 1-1.5 1-.9 1 1.1 1 .7 1 1 1 .8 1-.1 1 1.9 1 1.5 1 0 1-1.1 1 1.2 1 1.5 1 .4 1 .4 1-.2 1-1.1 1-2.9 1-.3 1-1.2 1 1.2 1 .2 1-.2 1 .3 1 .3 1 .8 1-.6 1 .4 1-.5 1-1.7 1-.3 1 .7 1 0 1 1.5 1 1.4 1 .1 1-1.2 1-.4 1 .2 1 1.5 1 .4 1-.6 1-.3 1 .8 1-.5 1 1.2 1 .4 1 .6 1 .2 1-1.4 1-2.4 1 1.7 1-1.3 1 .7 1-.4 1-1.2 1 1.6 1-1.4 1 1.7 1 0 1-.4 1 .6 1 1.2 1 0 1-.6 1 1.8 1-1.5 1-.9 1 .8 1 .4 1 .7 1 .3 1 .5 1-1.4 1-.2 1 1.6 1-.9 1-.5 1-1 1 .9 1-.6 1 0 1-.1 1 1 1 2.2 1-1.5 1 .9 1-1.1 1-.6 1 .1 1 0 1-.7 1 .5 1-.4 1-1.8 1-.8 1 .8 1 1.9 1 1.4 1 .7 1 .2 1 1.1 1 1.2 1-2.5 1 .3 1 .4 1-.4 1-1.2 1 1.8 1-.1 1 .4 1-2 1-.9 1-1.3 1-.4 1 .9 1 .6 1 1.1 1-.2 1 .4 1-1.5 1-.8 1 1.4 1 1.6 1 .1 1-1.2 1 1 1-1 1-2.5 1 .2 1 .4 1 .4 1 .8 1 1.3 1-.5 1 1.5 1 1.9 1-.1 1-1.3 1 .3 1-2.1 1-1 1-.5 1 0 1 .8 1 1.1 1 .9 1-.6 1-.3 1 .5 1 .9 1-1.4 1-1.9 1 2.4 1-.6 1 .8 1-.8 1 1.6 1 .6 1-.8 1 2 1-.5 1 .6 1 .2 1-.8 1-.2 1-.7 1-.5 1-.1 1-.4 1 .6 1-.2 1-1.1 1 0 1-.8 1 1.3 1-.5 1 1.1 1 1.1 1 .3 1-.2 1-.3 1 .6 1-.3 1-.8 1 .2 1-.1 1-.8 1 2.7 1-1.1 1 .8 1-.4 1-1.2 1 0 1-1.2 1-.3 1 .5 1 1.3 1 .2 1-.7 1-.3 1-.5 1-1.8 1 .2 1 .2 1 .2 1 1.8 1 .1 1 .6 1-.4 1-.6 1-1.2 1-.5 1 .5 1 2 1 .2 1-.5 1 .1 1 .2 1 .6 1 .1 1-1.1 1 1 1-.3 1 .2 1-.8 1 0 1-.3 1-.9 1 .1 1-.2 1 2.5 1-2.1 1 1.7 1 .3 1-.3 1-.6 1-.1 1-.3 1 0 1-.4 1 .4 1 0 1-.2 1 1.4 1 1.3 1-.2 1-1.2 1-.2 1 .8 1 .3 1-.4 1-.6 1 0 1 1 1-2.1 1-.5 1 .3 1-.5 1 .5 1-.3 1 .9 1 .5 1 .4 1 .8 1-1.1 1 1.2 1-.9 1-.8 1 1.6 1 0 1 1.4 1-1.5 1-.6 1 .2 1-.8 1 1.2 1-.4 1-.6 1-1.9 1 4.1" fill="rgba(31,119,180,0.2)" stroke="#1f77b4" stroke-width="2"/>
<line x1="440" y1="859.7" x2="915" y2="859.7" stroke="rgba(31,119,180,0.2)" stroke-width="4"/><line x1="440" y1="860.9" x2="915" y2="860.9" stroke="rgba(31,119,180,0.2)" stroke-width="1.7"/>
<path d="M380.0 860.8l1 0 1 .1 1-.3 1-.6 1-.4 1-.1 1-.1 1-.2 1-.1 1 .2 1 .3 1 .2 1 0 1-.1 1 .1 1 .2 1 .3 1 .2 1-.1 1 0 1-.1 1 .1 1 .1 1-.2 1 0 1 0 1 .2 1 .3 1 .1 1-.2 1 0 1 .1 1-.2 1-.4 1 0 1 .6 1 .2 1-.2 1-.2 1 0 1-.1 1-.1 1 .1 1 .4 1 0 1 .1 1 .2 1 .1 1 0 1 .2 1 .1 1-.3 1-.3 1 .1 1 .1 1-.1 1-.4 1-.4 1-.2 1-.1" stroke="#1f77b4" stroke-width="1.4"/>
<path d="M440.0 885.0l1 .5 1-.8 1-1.7 1-.5 1-1.1 1-.6 1-1.5 1-2.1 1 1.1 1-.7 1 .6 1 1.5 1 1.7 1 .1 1 0 1-1.3 1 .5 1-1.4 1 1.9 1 .2 1-1.5 1-.8 1-.8 1 1.3 1-.1 1 .2 1 .2 1-.1 1-.4 1 1.4 1 1.3 1 .9 1-.5 1-1.8 1-2 1 .9 1-.6 1-.3 1-.7 1 .3 1-1.6 1 .3 1 .6 1-1.3 1 .6 1 1.2 1 .5 1-1.4 1-.4 1-1.1 1 .1 1-.3 1 1 1-.9 1 .5 1-.7 1 .4 1 .3 1-1.5 1 .9 1 0 1-2.1 1 1.1 1-.4 1 .4 1-1.2 1 2.2 1-.3 1-2.4 1 .3 1-1.1 1 .3 1 .3 1-1.1 1-1.2 1 0 1-1.7 1-1.7 1-1.5 1-1.3 1 .2 1 1.9 1 .3 1 3.1 1-.1 1-1.7 1-1.3 1-2.2 1-.1 1-1.1 1-.2 1-.4 1 .4 1 2.1 1-1.9 1-.7 1-.4 1 .1 1-1.4 1-4 1-1.4 1 .7 1-1.8 1-1.2 1 1.7 1 .6 1 1.4 1-1.6 1 2.3 1 4.2 1 2 1 1.5 1-2.2 1-1.8 1 1.2 1 1 1 .5 1 .3 1-2.5 1-1.9 1 3.7 1-1.1 1 1.8 1 2.5 1 .4 1-.9 1-2.3 1 1.4 1 .5 1 1.6 1 1.1 1 1.8 1-.7 1-.5 1-.1 1 .7 1 1.7 1-.5 1-1.2 1 2.2 1 2 1 .9 1-.9 1-1.6 1-1 1-.7 1-1.2 1 1.7 1 .4 1-.4 1 .6 1 1.1 1 1.2 1 .3 1 2.4 1-.6 1 .4 1-.6 1-.2 1-.1 1-.3 1 1.4 1 .9 1-.4 1-.6 1-.6 1 .3 1-1.2 1 1 1 0 1-.5 1 1.6 1-.9 1 .6 1 .1 1-2 1-.7 1-.4 1 1 1-.7 1 .5 1 1.3 1 1.8 1 .8 1-.5 1 1.5 1-.3 1-3.4 1-1.4 1 1.7 1 2.6 1 .7 1-1.1 1-1 1-2.7 1 0 1-.3 1 2.4 1-1.9 1 1.4 1 .4 1-2.4 1-1.7 1 1.9 1 .6 1 1.9 1-1.7 1-2.4 1-1 1-.1 1 1.2 1 .5 1 1.3 1 2 1 1 1-.4 1-1.4 1 1.5 1 1.8 1 .5 1-.1 1 .6 1-.3 1 1.8 1 1.6 1 .9 1-1.3 1-.7 1-.1 1 2.9" fill="rgba(31,119,180,0.2)" stroke="#1f77b4" stroke-width="2"/>
<line x1="440" y1="884.7" x2="670" y2="884.7" stroke="rgba(31,119,180,0.2)" stroke-width="4"/><line x1="440" y1="885.9" x2="670" y2="885.9" stroke="rgba(31,119,180,0.2)" stroke-width="1.7"/>
<path d="M380.0 886.2l1-.2 1-.1 1-.3 1-.4 1-.2 1 .1 1 .1 1 .2 1 .1 1 .2 1 .1 1-.2 1-.6 1-.5 1-.3 1-.1 1 0 1-.1 1-.2 1-.1 1 .1 1 .2 1 0 1 .2 1 .5 1 .3 1 .1 1 .1 1 .1 1 0 1 0 1-.3 1-.3 1 .1 1 .2 1 .1 1 .2 1 .2 1 0 1 .1 1 .3 1 .6 1 .4 1 .4 1 .2 1-.2 1-.6 1-.4 1-.2 1-.4 1-.7 1-.4 1 0 1 0 1 0 1 .1 1 .1 1 0 1 0 1 .2" stroke="#1f77b4" stroke-width="1.4"/>
<path d="M670.0 885.0l1-1 1-1.7 1 .2 1 1.1 1-.4 1 1.1 1-1.2 1 1.7 1-1.5 1-.3 1 .7 1-.6 1-.1 1 1 1-.3 1-1.2 1 .3 1 1.2 1 .1 1 .6 1-.4 1 .1 1-1.4 1-.6 1-.9 1 .7 1 .1 1 1.3 1 .7 1-.2 1 .3 1-.7 1-1 1 .8 1-.5 1 1.7 1-.2 1-1.2 1 .3 1 .5 1-1.1 1 .3 1-.5 1 1.1 1-.3 1-1.7 1 1.8 1-.6 1-.5 1 .8 1-.3 1-.3 1-.4 1 .6 1 .3 1 .1 1 .2 1-.8 1 1.3 1-.6 1-.2 1-.1 1 0 1-1.7 1 1.5 1 0 1-1.6" stroke="#1f77b4" stroke-width="1.4"/>
<path d="M440.0 923.0l1 1.2 1-1.8 1-3.2 1-3.1 1-.9 1 1.3 1-.3 1-.6 1 .3 1 .4 1 1.8 1-1.8 1-1.6 1-1.3 1 1.2 1 1.5 1-1.6 1-.4 1-.7 1-1.2 1-1.4 1-1 1-1.6 1-.9 1 .9 1 1.3 1-.5 1-1.8 1-1.5 1 .6 1 .9 1-1.3 1-.1 1-1.2 1-1.6 1 1 1 2 1 1.5 1-.9 1 .7 1-.2 1-1 1-1.1 1 2.7 1 1 1 .1 1-1.3 1-1.4 1 .2 1 .4 1-.1 1 2.4 1-.3 1 1.5 1-3.3 1-.8 1-.8 1 0 1-.3 1-2.4 1-2.7 1-1.5 1 1.8 1-.1 1-.3 1-1.5 1-6.5 1-1.1 1 2.3 1 .7 1 1.7 1-.9 1-.4 1-2.1 1-1.4 1 .9 1-.6 1-.5 1-3.4 1-3.6 1 1 1 0 1-2.7 1-.5 1-3.1 1-.3 1 4.6 1-.7 1 .3 1 2.1 1 .3 1-.6 1-1.8 1 .2 1-2.2 1-1 1 .4 1 .2 1 .1 1 2.5 1 .2 1-1.4 1-1.4 1 2.2 1-.3 1 3 1 2.9 1 3.1 1-.4 1 1.5 1-.2 1-.5 1-1.2 1 2 1-1.3 1 0 1-2.8 1-1.9 1 2.3 1 1.4 1 1.5 1-1.3 1-1.7 1 .3 1 .2 1-1.5 1 1.9 1 2.6 1 2.1 1 1.9 1 1 1-1.9 1-.6 1-.2 1 1.1 1-.3 1-1.3 1-.3 1-1.9 1-2.6 1 1.5 1 1.4 1 1.9 1 2.4 1 .7 1 3.3 1 2.4 1 2.1 1-2.1 1-1.2 1 .1 1 2.2 1 .6 1 1.7 1-.2 1-1 1 1.8 1 2.2 1 .5 1 .8 1-.6 1-1.1 1-.7 1 1.6 1 .4 1 .1 1-.4 1-.7 1-1 1 1.8 1 .6 1 1.4 1 .6 1 .2 1-.3 1-.9 1-1.6 1 .4 1 .9 1 .1 1-2 1-.1 1 .3 1 .5 1-2.7 1-.4 1 1.2 1 1.5 1 1.6 1-.7 1 .2 1-.4 1 .5 1 .3 1 .8 1 .2 1 .2 1 1.4 1-.9 1-1.8 1 .7 1 1.5 1 2.8 1 1 1 1.8 1 0 1-1.3 1-1 1-1.3 1-2 1-1.7 1-.1 1-.3 1 2.5 1 1.8 1 1.5 1-1.4 1 1.6 1-.6 1-2.5 1-.3 1-.6 1 .5 1 1.5 1 0 1 1.6 1-.3 1-1.2 1-.7 1 0 1 1 1 .4 1-.9 1 0 1 .6 1-1.5 1-.2 1 .6 1 1.8 1 1.3 1 .8 1 .1 1 .4 1-1.7 1-2.4 1 1.2 1-1 1 .4 1 1.9 1-1.1 1-.1 1-.1 1-.2 1-.8 1 1.2 1 1.2 1-.6 1-.3 1-1 1 1.4 1 .1 1-.8 1 .1 1-1.3 1 .2 1 2.2 1 1 1 1.9 1 .5 1-.2 1-1.3 1-1.7 1-1.3 1 2 1 .1 1 .2 1 .1 1 1.3 1-1.3 1-.9 1 .1 1 .8 1-1.3 1-1.6 1 1 1 1.1 1 1.1 1 .1 1-.4 1 1 1 1.5 1-.3 1-1.1 1 .2 1-.4 1 .7 1-1.4 1-.3 1 .5 1 1.2 1-.2 1 .3 1-.3 1 .6 1-.5 1 .2 1 .3 1 .4 1 .2 1 .1 1-1.4 1 0 1-1.3 1-1.4 1 .1 1 1.1 1 .1 1 .2 1 .9 1-.4 1 1.8 1-.3 1 1.5 1-1.5 1 .9 1-.2 1 0 1-.8 1 .7 1-1 1-.4 1-.8 1 1 1 .9 1 0 1-.1 1-.3 1-.1 1-.1 1 .9 1 .6 1-1.6 1-.6 1 .3 1 .3 1 .7 1-1.2 1 .6 1 1 1-.4 1-.9 1-.9 1-.7 1 1.3 1 .6 1 .8 1 1.4 1-1.3 1-.2 1-.5 1-.8 1-.4 1 .8 1 0 1 .8 1 .7 1-1.2 1 .4 1-.5 1 .6 1 .4 1-.7 1 .8 1 1.3 1-1.3 1-.5 1 .9 1-.1 1-.8 1-1 1 1.8 1-.4 1 1.1 1-.6 1-1.4 1 2 1-1.1 1-1.1 1-.3 1-.2 1-.6 1 1.9 1-1.2 1 1.9 1 0 1-1.3 1-.1 1 1.1 1 0 1 1.1 1-.4 1-.7 1-2.1 1 .3 1-1 1 1.2 1-.2 1 1.6 1 .2 1-.7 1 .9 1 .5 1-.5 1 .9 1-.3 1-.7 1 1.1 1 0 1 1.2" fill="rgba(31,119,180,0.2)" stroke="#1f77b4" stroke-width="2"/>
<line x1="440" y1="922.7" x2="859" y2="922.7" stroke="rgba(31,119,180,0.2)" stroke-width="4"/><line x1="440" y1="923.9" x2="859" y2="923.9" stroke="rgba(31,119,180,0.2)" stroke-width="1.7"/>
<path d="M380.0 924.9l1-.6 1-.5 1-.4 1-.1 1-.1 1-.1 1 0 1-.1 1-.1 1-.2 1-.1 1 0 1 .2 1-.3 1-.4 1-.1 1 .1 1-.2 1-.2 1 0 1 .3 1 .4 1 .4 1 0 1-.3 1-.3 1 .3 1 .6 1 .4 1 .1 1-.1 1 0 1 .4 1 .1 1-.2 1-.2 1-.3 1-.4 1-.4 1-.1 1 .2 1-.1 1-.4 1 .1 1 .2 1-.3 1-.2 1 .1 1 .5 1 .4 1-.1 1-.2 1-.1 1 .2 1 0 1 .2 1 .3 1 .2 1-.1 1-.3" stroke="#1f77b4" stroke-width="1.4"/>
<path d="M440.0 952.0l1-.8 1-.8 1-1.4 1-.7 1-1.3 1 .7 1-.8 1 .7 1-.4 1 .1 1-1.3 1-1.2 1-1.1 1-.4 1-.4 1-.9 1 1 1-1.2 1 .1 1-.1 1-.8 1-.4 1 2 1-2 1 .4 1-.7 1-1.5 1-.4 1 .1 1-1.2 1-2.2 1 1.9 1-1.2 1-1.6 1-.8 1-1.2 1-1.2 1 .7 1-.6 1-2.4 1-.2 1-1.8 1-.6 1 2.5 1 .9 1 1.8 1-3.2 1-.3 1-3.5 1 1 1 2.5 1 1 1 .3 1-1.1 1-.5 1 .4 1-2.1 1-1.4 1-3.9 1-2 1 2.2 1 1 1 1.7 1-.4 1-3 1-.3 1-.8 1 .8 1 4.1 1 1.3 1 .9 1-2.4 1-2.3 1-.7 1-2 1 .2 1 .7 1 .1 1 .8 1 .2 1-.5 1 2.3 1 1.6 1-.6 1 .6 1-3.6 1-3.7 1-.1 1 .3 1-1.9 1-.2 1 1.4 1 2.7 1 1.2 1 .2 1 .8 1 1.8 1-2.2 1-1.5 1-5.1 1-.1 1 1.7 1-2.4 1 2 1-2.1 1 1.4 1-.1 1-2 1-1.7 1-1.7 1-1 1-.7 1-.2 1 2 1 3.2 1-4.9 1 .6 1 .5 1 1.5 1 2.4 1 4.8 1 2.2 1 1.5 1 .6 1 1.6 1 1.4 1-1.3 1 1.5 1 1.5 1-.1 1 2.4 1-.5 1 1.5 1-1.1 1 1.4 1-.7 1-.1 1-2.5 1-1.1 1-.6 1-.7 1-1.4 1 1.4 1 3.6 1 2 1-.5 1-1.8 1 .1 1-3.5 1 1.5 1-2.2 1 1.7 1 .3 1 1.2 1 .4 1 1.2 1-.5 1-3.1 1-.3 1 .1 1-.6 1 3.4 1-1 1 3.4 1 .5 1-2.5 1-.7 1-.8 1 2.7 1 2.1 1 2.9 1 .6 1-2.9 1-.1 1-1.3 1 0 1-1 1 .5 1 .3 1-.8 1 .7 1 1.4 1-.4 1 .9 1 .9 1 2.3 1 0 1-4.1 1-1.1 1 2 1 1 1 .2 1 1.5 1 .4 1 1.8 1-.4 1-1.6 1-.7 1-.6 1-.1 1 2.5 1-.2 1 2 1 2.4 1 .4 1-.2 1 .2 1-1.7 1 1.8 1-.1 1 1.2 1 1 1-.4 1 .4 1-1.5 1-1.4 1-.3 1 .1 1-.2 1 .9 1-.1 1 .9 1 .8 1 1.7 1 1 1 1.2 1-.5 1-.4 1-.7 1 1.5 1-1.8 1 1 1-.4 1 .4 1-.5 1-2 1-1.5 1-.7 1 2.4 1 1.2 1-.3 1 .7 1 .7 1-.4 1 2.5 1-.8 1 0 1-2 1-1 1 .2 1-.5 1 1.1 1 .1 1 0 1-.7 1 .3 1 .7 1 .3 1 1.7 1 1.2 1-.6 1 1 1-.5 1-1.1 1 .5 1-.5 1 1.6 1 0 1-.7 1-.7 1 .1 1-.3 1-.5 1-.5 1 1.7 1-1.3 1 1.3 1-1.3 1 2.3 1-.6 1 .4 1 1.2 1-1 1-.9 1-.3 1 .1 1-.2 1 1.1 1 .8 1 .2 1-.9 1-1.3 1-.9 1 1.6 1-.2 1 .5 1-.4 1 .8 1 .6 1 .4 1-1.3 1-.2 1 .9 1 .1 1-.1 1-.8 1 1 1 .7 1-.9 1 1.7 1-.5 1 .5 1-1.8 1 .9 1 .1 1 .1 1 .6 1-.1 1 0 1-1.1 1-1 1 .8 1 .3 1 1.1 1 1.9 1-.1 1-.8 1 .9 1-.9 1 .7 1-.7 1 .6 1-.1 1-1.4 1-.8 1-1.1 1 1.5 1 .4 1 .9 1-2 1-.4 1 .3 1 .6 1 .1 1 .6 1-.3 1-1.4 1 .9 1-1 1 .5 1-.4 1 .7 1 .8 1 .6 1-.2 1 .2 1 .4 1 .9 1-.7 1-.5 1-.1 1 .7 1 .4 1-1.7 1 1.9 1 1.1 1-.2 1-.6 1-1.7 1 .7 1-.8 1 .8 1 .8 1-1.7 1 0 1-.2 1 .4 1 .6 1 .6 1 .4 1-1.8 1 .4 1-.6 1-.3 1 .9 1 1.3 1-.2 1-2.5 1-.5 1 2.4 1 2.1 1-.5 1-.8 1-.9 1-.3 1-.5 1-.7 1 .2 1 .2 1-.7 1 .3 1-.4 1-.4 1-.4 1 .5 1 1.4 1 1.1 1-.6 1-.2 1 .5 1-.7 1 1.2 1 .1 1 .1 1 .3" fill="rgba(31,119,180,0.2)" stroke="#1f77b4" stroke-width="2"/>
<line x1="440" y1="951.7" x2="855" y2="951.7" stroke="rgba(31,119,180,0.2)" stroke-width="4"/><line x1="440" y1="952.9" x2="855" y2="952.9" stroke="rgba(31,119,180,0.2)" stroke-width="1.7"/>
<path d="M380.0 951.1l1 .1 1 .2 1 .3 1 .4 1 .3 1 .4 1 .6 1 .6 1 .3 1-.2 1-.4 1-.1 1 .1 1 0 1-.3 1-.3 1 0 1-.3 1-.3 1 0 1 .2 1 .1 1-.1 1-.2 1-.1 1 .3 1 .2 1-.4 1-.5 1-.4 1-.3 1-.3 1 .1 1 .2 1 .6 1 .3 1-.1 1-.2 1-.2 1 .1 1 .3 1 .2 1 0 1-.1 1 0 1-.2 1-.1 1-.1 1 0 1 .2 1 .1 1-.1 1-.2 1 0 1-.2 1-.1 1 .2 1 .2 1-.1 1 .2" stroke="#1f77b4" stroke-width="1.4"/>
<path d="M440.0 969.0l1 .8 1-2 1-2 1-.6 1-1.1 1-.6 1-1.2 1 .3 1 .6 1-2.1 1-1 1-.8 1-1 1-1.2 1 0 1-1.5 1 1.4 1 0 1-1.4 1-2 1-2.4 1-1.8 1-1 1-.4 1-2.7 1-1.5 1 .1 1 1.2 1 2.8 1 3.2 1-1.5 1-3.3 1-1.6 1 0 1 1.2 1 .3 1 1.1 1 1.7 1-.1 1-2.8 1-.6 1 1.4 1-2.7 1-1.3 1-1.3 1-1.3 1-2.5 1-.2 1-1.4 1-1.2 1-.1 1 6.3 1 1 1-1.5 1-6.7 1-5.7 1-4.8 1-1.6 1 1.3 1-3.4 1-2.3 1-5.1 1 2.6 1 8.5 1 5 1 4.3 1-1.6 1 .2 1 .6 1-2.5 1-1.7 1-2.3 1 .8 1-.4 1-2.9 1-2.4 1-.8 1-.4 1 2.5 1 1.7 1-.1 1 .6 1-1.2 1-1.3 1-.6 1-.2 1 .1 1-2.5 1-3.6 1 3.6 1 3.6 1 5 1 1.8 1-2.8 1-4.1 1-1.4 1 .8 1 .3 1-4.8 1-1.8 1-.6 1 0 1 .7 1 1.9 1 1.6 1 3.5 1 4.1 1 1.5 1 1 1-1.2 1 .2 1 1.8 1 4.1 1 1.7 1 1.3 1 .2 1-2.1 1 .2 1 5.2 1-.4 1-1.6 1 .4 1 1.9 1 1 1 .3 1 .6 1 1.4 1-.5 1 2 1 1.3 1-1 1 .1 1 2.2 1 .5 1-1.6 1 1.3 1-1 1 .5 1 2.3 1 1.3 1 1 1-.1 1-3 1-1.2 1-3 1 1 1 .7 1 2.3 1 2.5 1-1.5 1 1.5 1 4.3 1 .7 1 .5 1-1.1 1-.6 1 0 1 0 1 1.4 1 .8 1-1.2 1-.1 1-2.1 1-.8 1-.9 1 2 1-.7 1 4.5 1-.9 1-.8 1-.6 1-.1 1-.4 1 1.1 1 .4 1 1 1 1.4 1-1.5 1 .3 1-.6 1 2.4 1 1.5 1-.8 1-2.1 1 0 1-.8 1 .7 1 1.9 1 1 1-1.5 1-.3 1 1.5 1 .7 1 .5 1-1.5 1-1.8 1 .1 1 1.2 1-.3 1-.5 1 .2 1-.4 1-.4 1 1.2 1-.5 1 1.9 1 .3 1 1.1 1-.2 1-1.5 1 .6 1-.2 1 .5 1 .5 1 .3 1 0 1 .1 1 1.3 1-2 1-.2 1 .3 1 .9 1-.5 1-1.5 1-.4 1-.2 1-.2 1 .8 1 0 1-1.2 1 0 1-.2 1 1.7 1 1.4 1 .3 1 .5 1 0 1-.2 1 .2 1-.5 1-.9 1-.7 1 1.5 1 0 1 2 1-1.9 1 1.6 1 .7 1-.2 1 1.6 1-.3 1-1.2 1-.9 1 1.9 1-1.7 1-.8 1-.9 1 .1 1 .9 1-.4 1 .5 1-.8 1-.4 1 .2 1 .3 1 .5 1 1.2 1 .5 1 2.7 1-.5 1-.9 1-2 1-.7 1-.7 1-1.9 1 1.4 1 1.1 1 .9 1 1.1 1-.5 1-.6 1 1.1 1-.1 1 .7 1-1.2 1 .5 1-.7 1-2.1 1-.5 1 1.2 1-1.8 1 1.1 1 1.5 1-.9 1 .5 1 1 1-.8 1 .3 1-.3 1 .3 1 .2 1-.3 1-.9 1 .1 1 .2 1-1.1 1 1.7 1 1.2 1 .9 1-1.1 1 .2 1-.4 1 .4 1 .1 1 0 1 1 1-.7 1-.8 1 1.2 1 1.2 1 .5 1-.8 1-.6 1-1 1 .2 1 .8 1 .1 1-.5 1 .2 1 1 1-.4 1-1 1-.9 1 .3 1 .9 1 1.1 1 .4 1-.8 1-.9 1 1 1 .7 1 .5 1-1 1-.8 1-.8 1-2.2 1-.7 1 1 1 .1 1 .8 1 1.6 1-1.1 1 .5 1-.4 1 .6 1 .7 1 1.2 1 .2 1-.7 1 .9 1-.7 1-.5 1 0 1-.2 1 .2 1-.7 1-.3 1 2.8" fill="rgba(31,119,180,0.2)" stroke="#1f77b4" stroke-width="2"/>
<line x1="440" y1="968.7" x2="808" y2="968.7" stroke="rgba(31,119,180,0.2)" stroke-width="4"/><line x1="440" y1="969.9" x2="808" y2="969.9" stroke="rgba(31,119,180,0.2)" stroke-width="1.7"/>
<path d="M380.0 969.6l1 0 1 .1 1 .1 1-.1 1 .2 1 .4 1-.1 1-.3 1-.1 1-.3 1-.4 1-.4 1-.4 1 0 1 .2 1 .1 1-.2 1-.2 1-.1 1 0 1-.3 1-.2 1 0 1 .1 1 .1 1 .1 1 0 1 .1 1 .2 1 .2 1 0 1-.2 1 0 1-.1 1-.2 1-.3 1-.1 1 .2 1 .6 1 .2 1 .1 1 .2 1 .1 1-.2 1 0 1 .1 1 0 1-.2 1 0 1 .2 1 0 1 0 1 .1 1 .2 1 .1 1-.2 1-.2 1 .1 1 0 1 .1" stroke="#1f77b4" stroke-width="1.4"/>
<path d="M440.0 969.5l1-.8 1-1.1 1-2.2 1-.8 1-.4 1 .1 1-.6 1-.2 1-.1 1 .5 1 .2 1-.4 1-.3 1-.9 1 .7 1-2 1 .3 1-2 1 .1 1 .8 1-.7 1-.1 1-2.4 1-1.9 1 0 1 1.9 1-2 1 .5 1 0 1-1.2 1-.6 1-.8 1 .2 1-.2 1-1.9 1-2.5 1 1.3 1-.3 1 1.3 1-.4 1 1.7 1 .9 1 0 1-.3 1-1.5 1-.8 1-1.1 1 .5 1-1.1 1-.2 1-.6 1-.4 1 1.3 1 3 1 .2 1-1.7 1-1 1-1.4 1-.4 1-3.3 1 1.8 1 1.1 1 0 1 1.1 1 .2 1-2.1 1-.6 1-2 1-1 1-1.6 1-1.1 1 1.9 1 0 1-.3 1-.4 1 0 1-1.5 1-.5 1-.6 1 .6 1-3.3 1-1.7 1-2.2 1 1.6 1-1.6 1-1.4 1 0 1 .5 1-.1 1 1 1-1.5 1-.2 1 1.7 1-1.5 1 .4 1 1.1 1 3.7 1 3 1 .4 1-2.8 1 .4 1 .2 1 1.6 1 2.6 1 .1 1 0 1 2.5 1-.8 1-2 1 .5 1 2.3 1-3.2 1 .8 1 1.6 1 2.7 1 1.4 1 .4 1 1.2 1 .9 1-1.3 1 .9 1-.7 1-1.7 1 2.1 1-3 1 2.6 1-.5 1-.4 1-.8 1 1 1 .6 1 2.8 1-.6 1 .1 1-1 1-.8 1-.3 1-1.4 1 1.5 1 .6 1-.2 1 2.9 1 .2 1-1.1 1 .4 1 3 1 1.5 1-.1 1 .5 1-1.7 1-.3 1-.4 1 0 1 0 1 2.9 1 1.9 1-3 1 .6 1-.3 1 1 1-1.2 1 1.3 1 .8 1 0 1-.8 1-1.6 1 1.8 1 1.1 1 .3 1-.5 1 .6 1-.7 1-1.2 1 .4 1 1.7 1 .9 1 .3 1-1.3 1 2.3 1-.3 1-.2 1 .4 1-1.9 1 1.7 1-1.4 1-.4 1 1.2 1 .4 1 0 1-.4 1-.4 1-1.1 1 .2 1-.6 1 .2 1-.2 1 2.4 1 1.3 1 2.1 1 1 1-1.6 1-.7 1-.7 1-1.3 1-1.8 1-.2 1-.4 1 1 1-1.1 1 2.2 1 1.3 1-.7 1 1.7 1 .8 1 .7 1 .6 1 .1 1-.9 1-1.1 1 .4 1 .4 1 .5 1 1.4 1-1.7 1-.8 1 1.4 1 1.3 1-.7 1 .9 1-1.4 1-1.2 1 0 1-1.1 1 .5 1-.2 1-.9 1-.2 1 .3 1 .9 1 .2 1-.6 1-.6 1 2.6 1-.3 1 .5 1-1 1 2.1 1-1.2 1-.2 1-.3 1 .8 1 .1 1 .1 1-.1 1 .6 1 .1 1-.6 1 .7 1-.2 1 .2 1-1.5 1 1 1-.1 1-.9 1-.4 1-.2 1-.4 1 0 1 1.6 1 .2 1 1.2 1 .9 1-.2 1-.5 1 .2 1 .9 1-.7 1-1.9 1-1.6 1 .1 1-.1 1 1.2 1 1.6 1 1.8 1-1.5 1-.5 1-.3 1 .4 1-1.2 1 0 1-.6 1-.3 1 .1 1 .8 1 1.4 1-.5 1 1.3 1 1.2 1-.4 1 1.1 1-.3 1 .3 1-.5 1 .4 1-.6 1 .4 1-1.5 1-1.2 1-.3 1 .5 1 .4 1 1.1 1-.3 1 .5 1-1 1-.8 1 .1 1 .4 1-.3 1 .6 1-1.1 1 .5 1-1.5 1-.7 1-.2 1 .4 1 .6 1 .7 1 1.4 1 .3 1-1.1 1 .3 1 .1 1 .3 1-.7 1-.2 1-.9 1-.5 1 .1 1 1.6 1 1.2 1 1.8 1 .5 1-.3 1-.4 1-1.8 1 .1 1-1.1 1-.8 1 1.2 1-.9 1 .4 1-.6 1 .2 1 1.2 1-1 1 .1 1-.9 1 1.1 1 .4 1-.2 1 1.8 1-.9 1 1 1 .6 1-.3 1-.9 1 .5 1 0 1-.8 1 .8 1-.6 1-.7 1 .4 1-1.3 1 .1 1 .3 1-.1 1 .5 1-1 1-.2 1 .1 1-.3 1 .5 1 .3 1 .8 1-.4 1 .9 1-1 1 1.2 1-.7 1-.5 1-1.3 1 .3 1 .1 1 .4 1 1.1 1 1.1 1-.5 1-.2 1-1.4 1-.1 1 1.9 1-.1 1 .3 1-.1 1 .6 1 .6 1-2.3 1-1.4 1 1.2 1 .8 1-1.1 1-.2 1-.7 1 .3 1 2 1-.4 1 .6 1 1 1 .1 1-1.3 1 1.8 1-.9 1-.2 1-.5 1 .3 1 .4 1-1.1 1 .6 1 0 1 .1 1-.3 1 .8 1-1.7 1 0 1 1.7 1 .4" fill="rgba(31,119,180,0.2)" stroke="#1f77b4" stroke-width="2"/>
<line x1="440" y1="969.2" x2="878" y2="969.2" stroke="rgba(31,119,180,0.2)" stroke-width="4"/><line x1="440" y1="970.4" x2="878" y2="970.4" stroke="rgba(31,119,180,0.2)" stroke-width="1.7"/>
<path d="M380.0 968.4l1-.1 1-.1 1-.4 1-.1 1 .3 1 .3 1 .1 1 .1 1 .1 1 0 1-.2 1 0 1-.1 1-.1 1-.1 1-.5 1-.2 1 0 1-.2 1 0 1 .1 1 .1 1 .2 1 .1 1 .3 1 .3 1 .2 1-.1 1 .3 1 .9 1 .8 1 .3 1 .2 1 .1 1-.2 1-.2 1 .1 1 0 1-.1 1-.1 1-.4 1-.6 1-.4 1-.4 1-.2 1 .2 1 0 1-.4 1-.4 1-.2 1 .3 1 .3 1 0 1 0 1 0 1 0 1 .1 1 .4 1 .4 1 .3" stroke="#1f77b4" stroke-width="1.4"/>
<path d="M440.0 982.0l1-.4 1-2.8 1-1.6 1-1.5 1-.7 1-.7 1 .9 1-1.8 1-.4 1-.7 1-.1 1-.6 1-.4 1-1 1-3.1 1-.1 1 .4 1-.7 1 .9 1-.1 1-.2 1 .2 1 .2 1-1.1 1-2 1-2 1-2.5 1 1.8 1-.2 1-.5 1 .7 1-.4 1 .9 1 2 1-.8 1-.7 1 1.2 1 .2 1 .3 1 .1 1-1.7 1-1.1 1-1.2 1-4.9 1-1.4 1-4.7 1-.8 1 .3 1-.8 1-.5 1 .2 1 1.2 1 .5 1-.9 1-.4 1 .2 1-.3 1 2.4 1 .7 1-.8 1-5.5 1-1.5 1 .6 1-2.2 1 0 1 3.8 1 2.2 1 2 1-2.2 1-1 1-.9 1 .3 1 2.9 1-.5 1 .6 1-1.5 1 1.5 1 .9 1-.6 1-3.5 1-2.3 1-2.1 1-.9 1-1.7 1-2.3 1 1.1 1 1.5 1 .7 1-.6 1 2.6 1 3.2 1-.2 1-3.3 1-3.3 1-3.1 1-4.9 1-1.1 1-1.6 1 1.7 1 2.4 1 1.1 1-.8 1-.5 1-1.7 1-3.8 1 2.4 1 3.1 1 4.7 1 5.7 1 2.2 1 2.8 1 2.3 1 1.7 1 1.8 1 4.1 1 .1 1-3 1-2.4 1-6.1 1-1.7 1 2 1 .8 1-3.7 1-3.4 1 1.2 1 1.1 1 1.2 1 2.2 1 1.2 1 .3 1 .7 1 .6 1 .6 1 3.8 1 2.3 1 1.5 1-.4 1 1 1 1.7 1 1.4 1-1.3 1 1.3 1 1.5 1 2.8 1-.8 1 2.8 1 1.9 1-.1 1 1.2 1-.1 1-.4 1-.1 1 .8 1 .1 1 .6 1-1 1-2 1-.2 1 .1 1 .7 1 1.2 1-1.7 1 0 1-.3 1-.2 1-1.7 1 1.1 1 1.8 1 1.5 1-1.6 1-1.9 1-.4 1-.7 1-1.5 1 1 1 1 1 .1 1 .7 1 .5 1 .8 1 0 1 1.6 1 .2 1 2.9 1 1.1 1-1 1-.2 1 2.7 1 .5 1 .4 1-2.9 1-.3 1-.3 1 .9 1 .4 1 1.4 1 .3 1-.6 1-1.9 1-.4 1 .2 1 1.2 1 1.4 1-.8 1-.3 1-.7 1 .9 1 .6 1-.4 1 0 1 1.8 1-.6 1-.1 1-1.3 1 .1 1-1.4 1 .4 1 .3 1 1.7 1-.1 1-.6 1-.2 1-.3 1 1.3 1 .6 1-.2 1-.1 1 0 1-1.6 1 0 1 2.2 1 .2 1-.7 1-.9 1-1.3 1-1.1 1 1 1 1.3 1 .6 1-.9 1 .4 1-.2 1-1 1 1.3 1-1.3 1-.6 1 1.2 1 1.6 1 0 1 .5 1 .6 1 .7 1 .8 1-.3 1-.4 1-1.2 1-1.1 1 .2 1 .6 1-.3 1 0 1-.1 1 1.3 1 .8 1 .9 1 .9 1-1.2 1 .6 1 .1 1-2.1 1 1.1 1-.1 1 .9 1-1.9 1-.9 1-.2 1-.3 1-.8 1 1.7 1-2.8 1-.3 1 1.7 1 1.4 1 1.1 1-.3 1-1.2 1-.2 1-.1 1-.8 1-2.4 1 1.8 1 1.3 1-1.4 1-.2 1 2.1 1 .7 1-.4 1-2.1 1 .8 1 .3 1-1.6 1-.9 1 .3 1 1.2 1 .9 1-.5 1 3.6 1 .4 1 2.1 1-1.1 1-1 1-1.8 1-1 1 1.2 1 1.3 1 .6 1-1.8 1-1.2 1-.1 1-1.1 1-.7 1 1.3 1 1 1 2.4 1-2.4 1-.8 1-1.2 1-1 1 1.2 1 1.9 1-1 1 .2 1-.5 1 .5 1 .3 1 1.7 1-1.8 1-.3 1 .8 1-.4 1 .8 1-.4 1 1.3 1-.8 1-.9 1 .6 1-.9 1 .6 1 0 1 .4 1 .4 1-1.3 1 .4 1 1.1 1 0 1 2.6 1 0 1-1.5 1-.7 1 .8 1-.5 1 .3 1-.9 1-1.2 1-.7 1-.6 1 1.1 1 .4 1-.7 1-.4 1 .3 1 .8 1 .6 1-1.4 1-1.9 1-.8 1-.3 1 .2 1 .4 1 8.4" fill="rgba(31,119,180,0.2)" stroke="#1f77b4" stroke-width="2"/>
<line x1="440" y1="981.7" x2="820" y2="981.7" stroke="rgba(31,119,180,0.2)" stroke-width="4"/><line x1="440" y1="982.9" x2="820" y2="982.9" stroke="rgba(31,119,180,0.2)" stroke-width="1.7"/>
<path d="M380.0 983.9l1 .2 1 .1 1-.2 1-.4 1-.4 1-.3 1-.3 1-.4 1-.1 1 .2 1 .2 1 .2 1-.1 1-.3 1 0 1 .2 1 .1 1 0 1-.3 1-.2 1 0 1-.2 1-.1 1-.3 1-.1 1 .1 1 .2 1 0 1-.1 1-.5 1-.8 1-.3 1 .1 1 .2 1 0 1 0 1 .4 1 .4 1 .4 1 .4 1 0 1-.3 1-.3 1-.2 1-.2 1-.3 1 .1 1 .1 1-.2 1-.1 1 .4 1 .3 1 .1 1 .1 1 .2 1 .4 1 .1 1 0 1-.1 1 0" stroke="#1f77b4" stroke-width="1.4"/>
<path d="M820.0 982.0l1-8.5 1 1.2 1 1.1 1 .2 1 .5 1 1.4 1-.2 1 .3 1-.1 1 .9 1-2.4 1-1.8 1-.9 1 1.6 1 .2 1 1.2 1 .1 1-.5 1 1.3 1-1.4 1-.5 1 1.9 1-.4 1 .5 1-.7 1 .4 1 0 1-.5 1 0 1 .6 1-.1 1-.2 1-1.2 1-.6 1 .2 1 .8 1-.2 1 .9 1-.1 1 0 1-1.2 1 1 1-1.3 1-.1 1 .8 1 1.1 1 1.8 1 .4 1-.8 1-.5 1-.2 1-1.9 1 1 1-.6 1 1.6 1 .8 1-1 1-.9" stroke="#1f77b4" stroke-width="1.4"/>
<path d="M440.0 1023.0l1-1.1 1-2.5 1-1 1-1.4 1-2 1 .8 1 .7 1 .7 1 .2 1-.4 1-1.3 1-.1 1-1.6 1-1.7 1 .7 1 .1 1 2.4 1-.3 1 0 1-1.7 1-2.1 1-.9 1 .3 1 3.4 1 .7 1-.4 1-2.6 1 0 1-1.9 1-.9 1 .8 1 2.5 1 1.4 1-2 1-1.2 1-4.2 1-3.6 1-5.6 1-2.9 1 .5 1-3.3 1-1.5 1-1.2 1-.4 1 1.4 1-2.3 1-4.4 1-.1 1-1.1 1-.2 1-2.4 1 .7 1-.5 1 3.3 1 .5 1-2.8 1 3 1 .2 1 1.9 1 .6 1-1.4 1 1 1-2.2 1-1.8 1 .5 1 2.1 1 .9 1-.9 1-.2 1 3 1 1.4 1 4.9 1 .1 1-1 1 1 1 1.3 1 .7 1 1.7 1 .4 1-.6 1-1.8 1-1.6 1-3.6 1-.1 1-1.6 1 1.6 1 1.3 1-1.4 1-2.6 1-3.1 1-5.1 1-1.2 1 2.5 1 3.5 1 1.1 1 2.3 1 .4 1 1.8 1 3 1 .6 1 .3 1-1 1-3.4 1-3.1 1-2.3 1 .2 1 2.6 1 1 1 4.3 1 2.2 1 .8 1 2.4 1-1.1 1 2.1 1 .3 1 .5 1-1.9 1-1.3 1 2.4 1 3.4 1 .2 1 .4 1-2.5 1-.4 1 2.5 1-.6 1-1.5 1 .4 1 1.7 1 .6 1 1.8 1 .8 1 2.2 1 1.1 1-1.3 1 .6 1-.6 1 .5 1 1.1 1 1.3 1-.2 1-.6 1 3.1 1 0 1 1.4 1-.2 1-.6 1-1.2 1 .5 1-1.6 1-1 1 0 1 1.4 1 1.6 1 2.1 1 .4 1-.1 1-.2 1 .8 1 .9 1 .1 1-1.1 1 .7 1-.2 1-.9 1 .7 1-1.7 1-.3 1 .9 1-.7 1 .9 1 1.5 1 .5 1 1.3 1 .2 1-1.4 1 .2 1-.1 1 .4 1 1.3 1 1.3 1 1 1-.7 1-.2 1-2.3 1-.5 1 .2 1 1 1 1 1 .4 1-1.2 1-.8 1 .4 1 .2 1-.1 1-.8 1 .4 1-.1 1 .4 1 1 1 0 1 .5 1 0 1 0 1-.1 1 1.1 1-1.3 1 .5 1 1.8 1 .3 1-1 1 1.9 1 .2 1 .4 1 .7 1-.4 1-1.4 1-.6 1 .7 1 .5" fill="rgba(31,119,180,0.2)" stroke="#1f77b4" stroke-width="2"/>
<line x1="440" y1="1022.7" x2="660" y2="1022.7" stroke="rgba(31,119,180,0.2)" stroke-width="4"/><line x1="440" y1="1023.9" x2="660" y2="1023.9" stroke="rgba(31,119,180,0.2)" stroke-width="1.7"/>
<path d="M380.0 1022.4l1 .2 1 .2 1-.1 1 0 1 .2 1 .3 1 .3 1 0 1-.1 1 0 1-.1 1-.4 1-.4 1 .1 1 .2 1 .1 1-.1 1-.3 1 0 1 .1 1-.2 1-.2 1 .1 1 .2 1 0 1-.1 1 0 1 .1 1 .2 1 .6 1 .5 1-.1 1 .3 1 .5 1 0 1-.2 1 .1 1 0 1-.4 1-.5 1-.4 1-.3 1-.1 1 .2 1 .3 1 .1 1-.1 1-.2 1-.2 1 .2 1 .7 1 .1 1-.3 1-.3 1 .1 1 .2 1 .1 1 0 1-.3 1-.3" stroke="#1f77b4" stroke-width="1.4"/>
<path d="M660.0 1023.0l1 .4 1-.3 1-.2 1-.3 1 1.6 1 0 1 0 1 0 1 0 1-.9 1-.7 1 .1 1 .7 1-.1 1-1.6 1-.8 1-.3 1 1.1 1 2 1-.6 1-.6 1-.6 1 .2 1-.1 1-.1 1-.4 1-1 1-.9 1-.4 1 .9 1 .6 1 1.2 1 0 1-.6 1 .8 1 1 1-.2 1-.3 1-.5 1-2.1 1-.1 1 1.2 1 .8 1 .9 1 .6 1-.2 1 .4 1-1.3 1-.9 1-1 1 .6 1 1.4 1-.2 1-.3 1-.3 1-.7 1 .5 1 1.6 1-1.9 1 1.2 1 .7 1 .1 1-.2 1 .5 1-1 1-1.2 1 .2 1 .1 1 .6 1 .2 1 .9 1-1.2 1 .6 1 .8 1-1.6 1 .9 1-.8 1-1.9 1 0 1-.8 1 1 1 .4 1 2.1 1-.4 1-.3 1-.2 1 .1 1-.5 1 1 1 .8 1 .8 1 0 1 .1 1-1 1 .2 1-.8 1 0 1-.8 1-.5 1 .8 1-1.2 1-.1 1-.3 1 1 1 .4 1 0 1 .3 1-.3 1-1.2 1 .1 1 .5 1 .6 1 .2 1 1.1 1 .3 1-1.3 1 .8 1 1 1-.4 1 .7 1 0 1-.2 1-2 1-.3 1 .5 1-.1 1-1.4 1-.4 1-.3 1 .5 1 .2 1 .7 1 .6 1-.3 1 2.1 1-1.4 1 .4 1 .7 1-.3 1 .2 1-1.7 1 .6 1-1 1 .1 1 .6 1-.2 1 .2" stroke="#1f77b4" stroke-width="1.4"/>
<path d="M440.0 1091.0l1 1.2 1-1.3 1-1.5 1-.7 1-.3 1-.8 1-2.6 1-1.5 1-2.4 1-1.2 1 1.5 1-3.2 1-2 1-1.8 1-.3 1-3.1 1 1.2 1-.8 1-1.3 1-2.3 1-2.1 1-1.4 1-3.1 1-2.3 1-1 1-5.5 1-.8 1 .2 1 1 1 .3 1-.1 1 1.1 1 1.9 1 2.9 1 .9 1-.8 1-2.5 1 .5 1 0 1-1.6 1-1.2 1 2 1-.1 1-.8 1 1.7 1 .4 1-1.8 1 .3 1 2.4 1 .3 1-1.7 1-.9 1 .5 1 .4 1 1 1-.1 1 1.3 1-.9 1-.8 1-5.4 1-.8 1-1.9 1 2.1 1 .1 1 1.8 1 2.5 1 3.2 1-1.1 1-2 1-1 1 0 1 .3 1 .5 1-.6 1-1.6 1-1.8 1-2.4 1-6.1 1-3.6 1 .5 1 3 1 1.7 1 .4 1-1.1 1-.4 1 4.1 1 4.6 1 .4 1 2.7 1 2.1 1-1.7 1-2.3 1 .7 1-.8 1 1 1 3.1 1 .6 1 2.8 1 2.5 1 2.6 1-.1 1-1.4 1-1.7 1-.2 1 1.9 1 0 1 2.4 1-.4 1-.5 1-5.5 1-1.8 1-1 1 2.4 1 1.9 1-.9 1-1 1-5.7 1 1.3 1 .6 1 1 1 2.2 1 2.5 1 3.3 1 2.8 1-.3 1-.4 1-.6 1-1.1 1 1.5 1 .2 1-1.2 1-1.4 1 .3 1 2 1 1 1 .7 1 2.7 1-1.6 1 2.6 1-.7 1 .8 1-.9 1-.2 1 .3 1 1.6 1 .2 1-1.4 1-1 1-1.1 1-.3 1 2.1 1-.4 1-.7 1 2.5 1-1.2 1-.2 1-.8 1 2.8 1 1.7 1-2.1 1-4.2 1 .1 1 2.2 1 1.5 1 1.6 1 1.4 1-.9 1 .2 1 .4 1-.7 1 1.7 1-.7 1-.6 1 .1 1 1.6 1 .7 1 1.5 1-.6 1-2.3 1 1.4 1-.7 1 1.6 1-.4 1-1.5 1-2 1 .9 1-1.6 1 .3 1 1.3 1-1.3 1 .4 1-1.5 1 .1 1 3 1 2.3 1-1 1-.5 1-1 1-1.2 1 .9 1 1.2 1-1 1 1.5 1-.2 1 2.5 1 1.4 1-1.3 1-1.1 1-1.1 1 1.2 1 .6 1 .4 1-.8 1 1.4 1-1.4 1-.6 1 .9 1 1.8 1 .9 1 .3 1 .8 1 .6 1-.3 1-.4 1 .2 1 1.4 1 .6 1 0 1-.6 1-.4 1-.4 1 1 1 0 1-.8 1-.4 1-.1 1-.8 1-.4 1 .8 1 .4 1-.1 1 0 1 .3 1 .9 1 .7 1 .8 1-.5 1-1.6 1-1 1-.5 1 .4 1 1.6 1 .1 1 1.8 1 1.1 1-.6 1 0 1-1.2 1-2.2 1 .1 1 1.9 1 0 1-1.6 1 1.4 1 1.2 1-.5 1 .4 1-.9 1-2.4 1-1.4 1 .5 1 .1 1 .6 1 2.6 1-.4 1-.1 1 .1 1-.9 1-1.2 1 .9 1 .7 1 1.4 1 1 1-.3 1-1.7 1-.8 1-1.7 1 .8 1 .2 1 1.3 1 .7 1-.3 1-1.3 1 .9 1 .2 1 3 1 1.3 1-.1 1-.9 1-1 1-.6 1-.4 1-.1 1 1.2 1 .4 1-.4 1 .3 1 1 1-.7 1-.7 1-1.2 1 .1 1-1 1 1.1 1 1.5 1-.4 1-.6 1 .4 1-2 1 .2 1-.5 1 0 1 .7 1-1.1 1 .3 1 1.2 1-.3 1 2.1 1-.8 1 1.6 1-.7 1-.7 1-1.5 1-.9 1 1.1 1 .3 1 .9 1-.4 1 .1 1-.9 1-.9 1-.8 1 1.1 1 .7 1 1.7 1 .9 1 .5 1 .1 1-2.1 1 1.1 1-2 1-1.2 1 .1 1 .1 1 .4 1-.7 1 1.8 1 .9 1 1 1-.5 1-.4 1-.3 1-.9 1-.7 1-.1 1 1.3 1 1 1 1 1-1.4 1-2.5 1-.6 1 1.3 1 .8 1 .2 1-.3 1 0 1 1.8 1-.2 1-.5 1-.6 1-1.6 1 1.1 1 1.1 1 1.1 1-.6 1 0 1-.6 1-.1 1-.2 1 .8 1 1.1 1-2.1 1 .8 1-.7 1-1.2 1 1 1 .8 1-.2 1 0 1 .8 1-.4 1 .6 1 .1 1-1.7 1 0 1-1 1-.3 1-.8 1 2.5 1-1.4 1-1.4 1 1.3 1 1.8 1-.6 1-.7 1 .3 1-.8 1-.1 1 2.2 1 .2 1 0 1 0 1 1.3 1-1.2 1 .9 1 2 1-.3 1-1.3 1-.5 1-1.8 1-.2 1-.1 1 .3 1-.7 1 0 1 .6 1 .3 1-.1 1 .7 1 0 1-.4 1-.9 1 .7 1-1 1 1.1 1 .3 1-.6 1-.9 1-.3 1-.5 1 1.1 1 .6 1-.6 1 1.5 1 .3 1 1.1 1 0 1-1.5 1-.3 1-.9 1-.1 1 .3 1-.5 1-.6 1 0 1-.8 1 1.1 1-.3 1-.3 1 .6 1-.7 1-.8 1-.4 1 .5 1 .8 1 1.7 1-.7 1 .4 1-.1 1-.6 1 1.8 1 .1 1-.9 1-.3 1-.7 1-.2 1 0 1 .4 1 .1 1-.8 1-.4 1 1.1 1 .7 1 0 1-1 1-.5 1 .9 1 .6 1-1.1 1 .8 1-.2 1 1 1 .2 1-.9 1-.3 1-1 1-.6 1 0 1 0 1-1 1 .2 1 1.9 1 2.4 1-.4 1-.9 1 1 1 0 1 .1 1-.7 1 1.2 1 0 1 .3 1-.7 1-.5 1 1.2 1-.5 1-1.1 1-.4 1 0 1 .4 1-1 1-.3 1 1.7 1 2.6 1 .2 1-.9 1 .6 1-1.1 1-1.1 1-1.4 1 0 1 1.4 1-1 1 1.5 1-.8 1 .4 1 .5 1 1.7" fill="rgba(255,0,0,0.2)" stroke="#ff0000" stroke-width="2"/>
<line x1="440" y1="1090.7" x2="988" y2="1090.7" stroke="rgba(255,0,0,0.2)" stroke-width="4"/><line x1="440" y1="1091.8" x2="988" y2="1091.8" stroke="rgba(255,0,0,0.2)" stroke-width="1.7"/>
<path d="M380.0 1091.4l1 .2 1 .2 1-.3 1-.3 1-.1 1 0 1-.2 1-.3 1-.5 1-.4 1 .2 1 .3 1 .2 1 .4 1 .6 1 .7 1 .6 1 .4 1 .1 1-.3 1 .1 1 0 1-.8 1-.9 1-.6 1-.6 1-.5 1-.3 1 0 1-.1 1-.3 1 0 1 .5 1 .4 1 .2 1 .3 1 .4 1 .2 1 .2 1 .3 1 .2 1 0 1 .3 1 .5 1 0 1-.5 1-.1 1 .5 1 .3 1-.3 1-.3 1-.1 1 0 1-.3 1-.4 1-.2 1 0 1 .1 1 0 1-.1" stroke="#ff0000" stroke-width="1.4"/>
<path d="M440.0 1167.0l1-.2 1-1.1 1-1.4 1-1.7 1-.7 1 .2 1 .1 1-1.5 1-2.5 1-1.2 1-.9 1 2.6 1 1.3 1-2.1 1 0 1-2.5 1-2.3 1-3.2 1-1.5 1 2 1 .9 1-.4 1-3.1 1-4.4 1 .3 1-.6 1-1.7 1-1 1-3.8 1-.6 1 .8 1 0 1 2.7 1 .4 1-1.1 1-1.3 1-3.4 1-2 1-1.3 1-2.3 1-.5 1-2.6 1-4.8 1-.3 1-.6 1 1 1-1.8 1-2.5 1-2.9 1-2.9 1-.7 1 5.8 1 3.1 1 0 1 .5 1-4.2 1 3 1 2.6 1 .5 1 .7 1 2.1 1-2 1-1.9 1 1 1 .6 1-.4 1-3 1 1.7 1 4.2 1 3.2 1 0 1-.4 1-1.8 1-3.2 1-1.5 1 3.7 1 2.2 1 .8 1-2.4 1-2.1 1 2 1 2.7 1 3.6 1 .8 1 0 1 1.3 1 1.9 1 2.2 1 1.9 1-4 1-2.6 1-2.7 1-.7 1 2.6 1 3.6 1 4.4 1 2.1 1-1.6 1-4.5 1 1.2 1-2.4 1 .5 1 .8 1 1.5 1 3.5 1 3.5 1 1.5 1-2.6 1-.9 1-1 1-.9 1-.7 1 .9 1 2.2 1 2.5 1-.9 1 .9 1-.7 1 3.1 1 .3 1-.8 1-1.1 1-1.3 1 .1 1-.1 1 1.3 1 3.2 1 3.7 1-.8 1-1.6 1-1.5 1-.4 1 2.4 1-.7 1-.5 1 .8 1-.9 1 1.3 1 1.6 1-1 1 1 1 1.6 1-.8 1-.1 1-1.4 1 .2 1 .6 1 1.4 1 2.6 1 .8 1-1.1 1-1.2 1-2 1 .3 1-.2 1 2.2 1 1.5 1-.7 1-.9 1 1.1 1 .5 1-.1 1 1.3 1-.6 1-.8 1 0 1-.7 1-.1 1-2.6 1 .8 1 3.2 1 .5 1-.6 1-1.4 1 2.9 1-.2 1 1 1-2.7 1-2.5 1 .7 1 1.1 1 1.6 1-1.4 1 .2 1 .5 1-.1 1 2.2 1 2.5 1 0 1 1.6 1-1.3 1-.2 1-.5 1-2.1 1 1.1 1 1.4 1-.2 1-.4 1-1.2 1-.1 1-.6 1 1.4 1 .8 1 .4 1 2 1-1.5 1-.8 1-.7 1 .2 1 1.2 1 .2 1 .5 1-1.1 1 0 1 0 1 .7 1-.1 1 .7 1 .1 1 .1 1 1 1 1.2 1-3.2 1-.1 1-.3 1-.1 1-.7 1 .4 1-.4 1 .1 1 1.5 1-1.9 1-.8 1 1 1-.3 1 1.7 1 2.7 1-.8 1-.2 1-.6 1 .5 1-.2 1-.4 1-.8 1 0 1 .9 1 .2 1 .3 1-.3 1 .3 1 .4 1-.9 1-.2 1 .5 1-1.5 1 .4 1-.3 1-.2 1 1.1 1-.7 1-.8 1-.4 1-.1 1 1.5 1 .7 1 1.8 1-.2 1-.4 1 .2 1-.4 1-1.4 1-1.7 1 .3 1 2.4 1 .6 1 .8 1 .1 1-.6 1-.6 1 .3 1-.5 1 1.9 1-2.1 1-.8 1 .2 1-.2 1 1.3 1 2.2 1-.6 1 .5 1 1 1-.7 1-1.2 1-1.8 1 .6 1 .6 1 1 1-.2 1-1.1 1-.1 1 1 1-.7 1 .3 1-.8 1-1.9 1-.3 1 .6 1 .3 1 .6 1 1.5 1 .6 1 1.4 1-1.3 1-.8 1-1.1 1 .1 1 .4 1 2.2 1-.8 1-.9 1 .2 1-.1 1 1.2 1 0 1-.5 1-.6 1-.3 1-.3 1 .3 1-1.2 1 .7 1-1.1 1 0 1 1 1 .5 1 1.7 1 .2 1-.5 1-1.9 1-.8 1-.2 1-.2 1 1 1 1.5 1-1.8 1 .4 1 .8 1-.7 1 .5 1-.7 1 .9 1-.8 1-.2 1-.4 1-.7 1 1.3 1 .7 1-.2 1-.3 1-.4 1-.9 1 .1 1 .4 1 1.4 1 .7 1 .4 1-.3 1 .1 1-.8 1 .4 1 1.4 1 .3 1-.2 1 .1 1-.6 1-.1 1-.1 1-1.1 1 .5 1-.3 1 .8 1-.8 1 .3 1-1.2 1 .2 1-.7 1 1.1 1-.1 1 .7 1-.1 1-.3 1 0 1-.5 1-.5 1-.8 1 .5 1 .3 1-.1 1 1.1 1 0 1 .3 1 .5 1 .8 1-1.3 1 .4 1-.2 1-.8 1-.2 1-.3 1-.7 1 .2 1 1.1 1-1 1 .5 1-.4 1 .8 1 .2 1-.3 1 1.3 1-.3 1 .1 1-1.4 1-1.5 1 2.2 1-.4 1 .4 1-.4 1-.1 1 1 1-.4 1-.4 1-.7 1 .2 1 .4 1 1 1-.2 1 .9 1-.4 1-.9 1-1 1-.7 1 .4 1 .3 1 1.9 1-.1 1 .2 1-1 1 .9 1 .8 1-1 1-1.3 1 .2 1-1.1 1 1.1 1-1 1-.2 1-.2 1 .8 1-.2 1 .2 1 1.6 1 1 1-.2 1 .6 1-1.4 1 2 1-1 1-1.3 1-.5 1-.5 1 .8 1-.2 1 1.2 1-.5 1-.9 1-.7 1 .3 1 1.1 1-1 1-.1 1 .5 1 .5 1 1 1 .2 1-1 1-.6 1 .4 1-.5 1 .1 1 .3 1 .6 1 .7 1 0" fill="rgba(255,0,0,0.2)" stroke="#ff0000" stroke-width="2"/>
<line x1="440" y1="1166.7" x2="933" y2="1166.7" stroke="rgba(255,0,0,0.2)" stroke-width="4"/><line x1="440" y1="1167.8" x2="933" y2="1167.8" stroke="rgba(255,0,0,0.2)" stroke-width="1.7"/>
<path d="M380.0 1167.0l1 .6 1 .7 1 .3 1 0 1-.1 1-.2 1 0 1-.2 1-.1 1-.1 1 0 1-.1 1-.4 1-.4 1-.2 1-.1 1 0 1 .1 1 .3 1-.1 1-.1 1 .1 1-.2 1-.4 1-.1 1 .1 1 .1 1-.2 1 .1 1 .5 1 .2 1-.2 1-.2 1 .5 1 .3 1-.2 1-.4 1-.1 1 .1 1-.2 1-.4 1-.6 1-.4 1-.1 1 .1 1 .2 1 .1 1 0 1 .1 1 .2 1 .3 1-.1 1-.4 1-.3 1 .1 1 .2 1 .3 1 .4 1 .3 1 .3" stroke="#ff0000" stroke-width="1.4"/>
<path d="M440.0 1167.0l1-5.7 1-5.3 1-6.1 1-6.6 1-3.3 1-.5 1 .5 1-2.9 1-1 1-2.2 1 .5 1-.9 1-1.7 1-2.1 1 2.7 1 0 1-.3 1 1.4 1 1.6 1-1.6 1-5.4 1-3.6 1-.6 1-3.6 1 5 1 2.5 1 1.6 1 1.2 1 .4 1 .7 1-.2 1 2.8 1 1.9 1 2.4 1 2 1 2.5 1 1.8 1 2.7 1 1.5 1 1.5 1 .8 1 .8 1 2.3 1-.2 1 2.2 1 1.3 1 .7 1 .6 1 .8 1-.2 1 .2 1 .6 1 .2 1 1.3 1 1.3 1-.6 1-1 1-.4 1-.3 1-1.2 1-.5 1 2.2 1 1.1 1 .1 1-.2 1-1.5 1 0 1-1.2 1-1.6 1-.7 1 3 1 .4 1 1.1 1-1.2 1-.9 1 .2 1 0 1 .4 1 .7 1 .9 1 .8 1 .9 1 1 1 .2 1 .3 1-.3 1-.6 1-1.8 1-1.4 1 .9 1 .1 1 2.3 1 .9 1 1.2 1-1.7 1-.2 1-.6 1-1.4 1-1.6 1 1.1 1 .2 1-.8 1 .4 1 2 1-.8 1 2 1 1 1-1 1 .2 1 .9 1-.9 1-2.2 1 .2 1-.5 1 .3 1 1.4 1-.1 1-.9 1-1 1-.4 1-.3 1 1.2 1-.9 1 .7 1 1.7 1-.1 1-.3 1-1.7 1-.6 1 .2 1 .7 1 2.6 1 .5 1-1.2 1 .1 1-1.4 1-1.2 1-1.5 1 1 1-.7 1-.5 1-.8 1-1.1 1 .2 1 1.6 1 .2 1 .2 1 1 1 .3 1 .4 1-1.6 1 .3 1 .8 1-.4 1-.1 1-2.2 1-.3 1 .3 1-1.8 1 0 1 .3 1-1.4 1 .1 1-.3 1 .7 1-1 1-3.2 1-3 1-3.8 1-3.3 1-3.1 1-2.4 1-.4 1-2.5 1 .9 1-1.1 1-3 1-1.8 1 0 1-1.2 1-.5 1-.2 1 2.4 1 2.9 1 4.1 1 1.9 1 2.6 1 .9 1 3.2 1 4.3 1 4.5 1 2.4 1 .9 1 .7 1-.6 1 .2 1-1.7 1-.7 1-1.4 1 .2 1 1.8 1 2.1 1 1.4 1 1.2 1 .8 1-.1 1 .7 1-1.1 1-.5 1-1.2 1 .9 1 .2 1 .3 1 1.3 1 .2 1-.7 1-.4 1 .4 1-1.1 1 1.7 1 0 1 .4 1 1.8 1 .5 1-.2 1-2 1 .5 1 1.1 1-.9 1-.8 1 1.2 1-2.2 1 .8 1-1 1 0 1-.6 1 1 1 1.6 1 .1 1-.1 1 .3 1-1 1 1.1 1 .3 1-.2 1 .1 1 .7 1-.1 1 .8 1-.5 1 .5 1-.3 1-1.7 1-.1 1-.9 1 1.1 1-.4 1 .3 1 .7 1-.1 1-.2 1 .9 1-.3 1-.5 1 1.7 1 1.9 1-.6 1-.8 1-.6 1-.7 1 .2 1 .6 1-.6 1-.2 1-.4 1 .3 1-.2 1 .5 1-1.4 1-.4 1 2.6 1 .2 1-.7 1 1.2 1-.3 1 .1 1 .8 1 1.3 1 0 1-1.4 1-2.3 1-.5 1-.3 1 1.6 1-1 1-.3 1-.9 1 1.1 1 .6 1 .5 1 .4 1 1.6 1-.6 1-.1 1-1 1-.8 1 1.1 1 .8 1-.9 1 .9 1 0 1-2.3 1-.7 1 1.2 1-.9 1-1.5 1 2.4 1 .6 1 0 1 1.8 1-1.6 1-1.8 1 0 1 1 1 .2 1-.5 1-.2 1-.6 1 .1 1 1.6 1-.5 1 .3 1 .1 1-.9 1 .7 1-.2 1-.1 1-.6 1-1.4 1 1.4 1-.4 1 .9 1 0 1-.1 1-.5 1 .8 1 0 1 .6 1 0 1 .1 1 .4 1-1.8 1-.1 1-.5 1 .9 1 .7 1 .4 1 .5 1-.6 1 1.4" fill="rgba(255,0,0,0.2)" stroke="#ff0000" stroke-width="2"/>
<line x1="440" y1="1166.7" x2="800" y2="1166.7" stroke="rgba(255,0,0,0.2)" stroke-width="4"/><line x1="440" y1="1167.8" x2="800" y2="1167.8" stroke="rgba(255,0,0,0.2)" stroke-width="1.7"/>
<path d="M380.0 1165.7l1 .3 1 .2 1-.3 1-.4 1 .2 1 .2 1 .2 1 .3 1 .6 1 .2 1-.1 1 0 1 .1 1 .3 1 0 1-.4 1-.1 1-.1 1-.2 1-.1 1-.3 1-.3 1 0 1 .3 1 .4 1 .3 1 .2 1 0 1-.2 1-.1 1 .2 1 0 1-.4 1-.3 1 0 1-.2 1-.3 1 0 1 .3 1 .4 1 .3 1 .1 1 0 1 .5 1 .8 1 .1 1-.4 1-.2 1-.1 1 .2 1 .1 1-.1 1-.1 1 .1 1 .1 1-.1 1-.2 1-.5 1-.2 1 0" stroke="#ff0000" stroke-width="1.4"/>
<path d="M440.0 1186.0l1-.9 1-2.5 1-2.4 1-1.8 1-2.1 1-.8 1 .3 1-1.2 1-.4 1-2.7 1 .2 1 1.6 1 .1 1-1.5 1-2 1 1.2 1 2 1 1.1 1 .4 1 .5 1-1.6 1 .4 1 .7 1 .4 1-1.7 1-2.8 1-2.3 1 1.8 1-.3 1-.6 1-.7 1 1.2 1 2.5 1 1.1 1 .9 1 .3 1-.5 1 .4 1 .5 1-1.3 1-.7 1-1.9 1 .1 1 .1 1 1.3 1 .7 1 .1 1 2.1 1 .9 1-1.5 1 .7 1 1.5 1 .8 1-.3 1 .3 1-.8 1 .2 1-.4 1 0 1-.4 1 1.8 1 1 1-1 1-1.3 1-1.6 1 0 1 .7 1 1.3 1 0 1 1.3 1-.7 1-1.4 1-.8 1-1.7 1 1.5 1-.3 1-1.4 1 .3 1 1.7 1 2.1 1-1.2 1-.4 1 1.2 1 .4 1-.4 1 .3 1 .9 1-.1 1-.3 1 .6 1 .1 1 .7 1 1.5 1 1.2 1-1.6 1-2.7 1-1 1 1.8 1 1.2 1 .7 1-1.2 1-.2 1-.3 1-.7 1-.6 1 3.1 1 .7 1-1.1 1-.1 1-.6 1 .4 1 .5 1 .1 1-.5 1-.2 1-.1 1-.2 1 1.6 1 .7 1 1.6 1-.5 1 1.2 1-1 1-1.4 1-1.8 1 0 1 .9 1-.1 1 1.7 1-1.1 1-.9 1-.2 1 1 1-.9 1 1.9 1-1.5 1-.6 1-.6 1-1.8 1 .8 1 2.7 1 .3 1 .2 1 1.1 1 .6 1-.1 1-2.9 1 1.2 1-.4 1-1 1 .9 1 .2 1-1.9 1-.5 1-.9 1 .3 1 1.7 1 1.5 1-.7 1-.8 1-1.2 1-.9 1-.1 1-.1 1 1.1 1 1.5 1-.5 1 0 1 .3 1-.2 1 .3 1-.1 1 .7 1-1.5 1 .3 1 .3 1-.1 1-.5 1-.2 1 .5 1-.9 1 2.5 1 2.1 1 .3 1-.6 1-2.1 1-.8 1-.6 1 .7 1 1.2 1 .4 1-.3 1 .3 1 .4 1 .3 1 2.3 1 .2 1-1.2 1-.9 1-.7 1-.8 1-.1 1-.4 1 .3 1-.2 1 .1 1 .3 1 .1 1 .2 1-.7 1 .5 1 .8 1 .3 1-1.4 1-.8 1 1.4 1-.8 1 1.3 1-1.2 1-.4 1 .2 1-.1 1 1.5 1-.2 1-1 1-.2 1-.4 1 .4 1 .7 1-.8 1-2 1-.5 1 .3 1 .8 1 .6 1-.1 1 .5 1-.6 1-.2 1-1.2 1 .2 1 .7 1 1.4 1-1 1 .3 1-.1 1 .1 1-1.7 1 2.9 1 .1 1 1.2 1-1.2 1-1.1 1 .6 1 .4 1-.7 1-.8 1 1.7 1 .8 1-.3 1 .6 1 .5 1-.5 1-.7 1-1.7 1 1.1 1-.5 1 1.6 1-1.1 1 0 1-1.4 1-2.2 1-.1 1 2.2 1 .1 1 .2 1 2 1 3.8" fill="rgba(255,0,0,0.2)" stroke="#ff0000" stroke-width="2"/>
<line x1="440" y1="1185.7" x2="718" y2="1185.7" stroke="rgba(255,0,0,0.2)" stroke-width="4"/><line x1="440" y1="1186.8" x2="718" y2="1186.8" stroke="rgba(255,0,0,0.2)" stroke-width="1.7"/>
<path d="M380.0 1184.7l1-.3 1 0 1 .3 1 .4 1 .5 1 .2 1-.1 1-.3 1 .1 1 .3 1 .1 1-.4 1-.4 1-.1 1 .2 1-.1 1-.2 1-.3 1-.3 1-.2 1 .1 1 .4 1 .1 1 0 1 .4 1 .2 1-.1 1-.1 1 0 1 .2 1 .5 1 .3 1-.1 1-.2 1 .1 1 .3 1 .1 1 .1 1 .3 1 .1 1-.1 1-.1 1-.1 1 0 1-.3 1-.2 1-.3 1-.3 1-.2 1-.2 1 0 1 0 1 .1 1 0 1-.1 1-.1 1 .2 1 .3 1 .3 1 .3" stroke="#ff0000" stroke-width="1.4"/>
<path d="M718.0 1186.0l1-3.5 1 .5 1-.7 1 .1 1-1.2 1 .7 1-.9 1-.4 1 .6 1 .5 1-1.7 1-1.1 1 .4 1 .9 1-.3 1 1.4 1 .2 1 .4 1-1 1-1.6 1 .2 1 .3 1 1.6 1-.5 1-.1 1 0 1-.7 1 .2 1 0 1 .9 1 .1 1-1.3 1 .4 1-.2 1 .2 1-.1 1 .4 1 0 1 1.1 1-.2 1-.5 1 .7 1 .7 1-.6 1-.9 1-2.3 1 .7 1-.6 1 .4 1-.2 1 1.7 1 .5 1-.1 1-.4 1 .4 1 .6 1-1.1 1 .1 1 0 1 1.5 1 .9 1-2.7 1 .1 1-.3 1 .6 1 1.8 1 0 1 .1 1 1.6 1-1.3 1-1.1 1-.2 1-.1 1 .7 1 .3 1 .6 1-.3 1-.9 1-.6 1-.6 1-.9 1 1.4 1 1.2 1-.1 1-.4 1 .8 1-.8 1-.3 1-.2 1 .3 1-.7 1 .4 1 1.1 1 0 1-1.8 1 .8 1 1.9 1 0 1-1.4 1 .2 1-.9 1-.8 1 .7 1 .3 1-1.1 1 .7 1 .9 1-.6 1 1.2 1-1.3 1 .1 1-.9 1 .8 1 .9 1 .1 1-1 1-.8 1-.2 1-.3 1 1.5 1 .8 1 1.5 1-1.9 1-.1 1 .5 1 .5 1 .2 1 .3 1 0" stroke="#ff0000" stroke-width="1.4"/>
<path d="M440.0 1186.0l1-1.2 1-4.8 1-4.4 1-4 1-3.2 1-2.4 1-.7 1-2.4 1-2.4 1-1.5 1-3 1-4.3 1-2.7 1 .1 1-5.2 1-2.1 1 .1 1-1.5 1-5.9 1-.7 1-2.1 1-1.2 1-.2 1 3.6 1-1.6 1 .3 1-.2 1 .7 1-.6 1 6.4 1 3.9 1 .4 1 .7 1-5.3 1-2 1-2.7 1 1.4 1 1.2 1 4.6 1 1.6 1 1.1 1-2 1-3 1-3.9 1-4.4 1 1.5 1 2.6 1 2.3 1 4.1 1 4 1 5.6 1 4.5 1 .5 1-1.1 1 .2 1-.7 1-2 1 .1 1-2.2 1 3 1 2.7 1 2.5 1 2.1 1 .1 1-2.6 1-.9 1 0 1 2.7 1 2.1 1 .3 1 1 1-3.2 1-1.2 1-1.1 1 3.1 1 1.3 1 .5 1 .3 1-.8 1 .7 1 2.4 1 4 1 .9 1-.6 1 2.4 1-.5 1-.7 1 1.8 1-.2 1-2.6 1-.1 1 1.2 1 1.9 1 3 1 1 1 .1 1 .6 1-.5 1-.8 1-.2 1 1 1 1.2 1-.8 1-.9 1-.2 1 .3 1-1.4 1 1.3 1-.3 1 .4 1 1.7 1 .6 1 .4 1 1 1 .6 1 .5 1-1.3 1-.9 1 1.8 1-.3 1-1.5 1-.2 1 1.8 1 2.3 1-1.2 1 1 1-2.4 1 1.1 1-.6 1 1.2 1-.8 1-1.1 1 .3 1 .7 1 .6 1 2.5 1-.5 1-1 1 0 1 .9 1-.6 1 0 1 .2 1-1.5 1 .1 1 0 1 1.2 1-.1 1-.5 1 .2 1 1.2 1-1.1 1-.5 1 .6 1 1.2 1 .4 1-.5 1-.1 1 .9 1-1.2 1 1 1 .5 1 .9 1-.6 1-1.8 1-2.4 1-.1 1 1.3 1 .3 1-.1 1 2 1-.3 1-.2 1-1.1 1 1.2 1 .9 1-.6 1 .1 1-1 1-1.2 1 0 1 .5 1 1.1 1-.1 1-.1 1 .4 1 0 1 .2 1 .9 1 1.5 1-1.1 1-.5 1-.5 1-2.3 1-1.4 1 0 1 .3 1 .5 1 1.5 1 .8 1-.6 1-.2 1 1.1 1 1.5 1-.1 1 .7 1-.2 1 .3 1-.9 1-.4 1-.3 1-1.5 1 1 1 .1 1 .3 1-.3 1-.7 1 .8 1 .4 1-.3 1 0 1 .5 1-.8 1 0 1-.2 1 .2 1-.1 1-1.4 1 .4 1 1.6 1-.7 1 .3 1-1.2 1 .7 1-.6 1-.1 1 .3 1-.3 1 1 1 0 1-1.6 1 .8 1 .9 1-.4 1-1 1 .6 1-.3 1-.3 1 1.3 1 .9 1 .4 1 .3 1-.1 1 .5 1-.7 1 .5 1-.9 1-.6 1-.6 1 .5 1-.2 1-.9 1 .3 1 .3 1 .4 1-.1 1-.7 1-.4 1 2.2 1 .6 1 .4 1-.6 1-1 1 .6 1 .7 1-1.4 1-.4 1 1.9" fill="rgba(255,0,0,0.2)" stroke="#ff0000" stroke-width="2"/>
<line x1="440" y1="1185.7" x2="718" y2="1185.7" stroke="rgba(255,0,0,0.2)" stroke-width="4"/><line x1="440" y1="1186.8" x2="718" y2="1186.8" stroke="rgba(255,0,0,0.2)" stroke-width="1.7"/>
<path d="M380.0 1185.4l1-.5 1-.4 1-.1 1-.1 1 .1 1 .4 1 .1 1 .1 1 .3 1 .3 1 .2 1 .1 1 .2 1 .2 1 .3 1 .4 1 .3 1 0 1-.3 1 0 1 .1 1 0 1-.2 1-.5 1-.3 1 0 1 .2 1 0 1-.2 1-.5 1-.5 1-.2 1-.1 1-.3 1-.2 1 .1 1 .4 1 .3 1-.1 1-.4 1-.2 1 .3 1 .4 1 .4 1 .2 1 0 1 .2 1 .2 1 .3 1 .2 1-.2 1 .1 1-.1 1-.8 1-.5 1 .3 1 .3 1 .1 1 .1 1 .1" stroke="#ff0000" stroke-width="1.4"/>
</g>
<line x1="440.2" y1="52.2" x2="440.2" y2="1210.6" stroke="#333" stroke-width="2.6" stroke-dasharray="12.4 6.4"/>
<line x1="440" y1="1210.5" x2="988" y2="1080.6" stroke="#7f7f7f" stroke-width="2.6"/>
<line x1="638.3" y1="88" x2="638.3" y2="138.5" stroke="#0000ff" stroke-width="3.2"/>
<line x1="625.9" y1="155.2" x2="625.9" y2="205.7" stroke="#0000ff" stroke-width="3.2"/>
<line x1="612.9" y1="225.5" x2="612.9" y2="276" stroke="#0000ff" stroke-width="3.2"/>
<line x1="608.2" y1="251" x2="608.2" y2="301.5" stroke="#0000ff" stroke-width="3.2"/>
<line x1="607.3" y1="255.5" x2="607.3" y2="306" stroke="#0000ff" stroke-width="3.2"/>
<line x1="604.5" y1="271" x2="604.5" y2="321.5" stroke="#0000ff" stroke-width="3.2"/>
<line x1="556.8" y1="528.3" x2="556.8" y2="578.8" stroke="#0000ff" stroke-width="3.2"/>
<line x1="546.4" y1="584.4" x2="546.4" y2="634.9" stroke="#0000ff" stroke-width="3.2"/>
<line x1="542.4" y1="606" x2="542.4" y2="656.5" stroke="#0000ff" stroke-width="3.2"/>
<line x1="534.6" y1="648.4" x2="534.6" y2="698.9" stroke="#0000ff" stroke-width="3.2"/>
<line x1="524.4" y1="703.3" x2="524.4" y2="753.8" stroke="#0000ff" stroke-width="3.2"/>
<line x1="514.5" y1="757" x2="514.5" y2="807.5" stroke="#0000ff" stroke-width="3.2"/>
<line x1="512.6" y1="767" x2="512.6" y2="817.5" stroke="#0000ff" stroke-width="3.2"/>
<line x1="504.5" y1="811" x2="504.5" y2="861.5" stroke="#0000ff" stroke-width="3.2"/>
<line x1="499.9" y1="836" x2="499.9" y2="886.5" stroke="#0000ff" stroke-width="3.2"/>
<line x1="492.8" y1="874" x2="492.8" y2="924.5" stroke="#0000ff" stroke-width="3.2"/>
<line x1="487.5" y1="903" x2="487.5" y2="953.5" stroke="#0000ff" stroke-width="3.2"/>
<line x1="484.3" y1="920" x2="484.3" y2="970.5" stroke="#0000ff" stroke-width="3.2"/>
<line x1="484.2" y1="920.5" x2="484.2" y2="971" stroke="#0000ff" stroke-width="3.2"/>
<line x1="481.9" y1="933" x2="481.9" y2="983.5" stroke="#0000ff" stroke-width="3.2"/>
<line x1="474.3" y1="974" x2="474.3" y2="1024.5" stroke="#0000ff" stroke-width="3.2"/>
<line x1="459" y1="1042" x2="459" y2="1093" stroke="#0000ff" stroke-width="3.2"/>
<line x1="445.4" y1="1120" x2="445.4" y2="1188" stroke="#0000ff" stroke-width="3.2"/>
<line x1="456.2" y1="1116" x2="456.2" y2="1167" stroke="#0000ff" stroke-width="3.2"/>
<line x1="929.6" y1="1042" x2="929.6" y2="1093" stroke="#000000" stroke-width="3.8"/>
<line x1="537" y1="1138" x2="537" y2="1185" stroke="#000000" stroke-width="3.8"/>
<line x1="551.5" y1="1119" x2="551.5" y2="1170" stroke="#000000" stroke-width="3.8"/>
<line x1="554.4" y1="1131" x2="554.4" y2="1182" stroke="#000000" stroke-width="3.8"/>
<line x1="579.6" y1="1119" x2="579.6" y2="1170" stroke="#000000" stroke-width="3.8"/>
<line x1="606" y1="1116" x2="606" y2="1168" stroke="#000000" stroke-width="3.8"/>
<line x1="138.9" y1="52.2" x2="138.9" y2="1210.6" stroke="#262626" stroke-width="1.4"/>
<line x1="128.5" y1="1210.6" x2="139.6" y2="1210.6" stroke="#262626" stroke-width="1.4"/>
<text x="117.5" y="1219" font-size="23.5" text-anchor="end" textLength="14.5" lengthAdjust="spacingAndGlyphs">0</text>
<line x1="128.5" y1="964" x2="139.6" y2="964" stroke="#262626" stroke-width="1.4"/>
<text x="117.5" y="972.4" font-size="23.5" text-anchor="end" textLength="43.5" lengthAdjust="spacingAndGlyphs">500</text>
<line x1="128.5" y1="717.4" x2="139.6" y2="717.4" stroke="#262626" stroke-width="1.4"/>
<text x="117.5" y="725.8" font-size="23.5" text-anchor="end" textLength="65.3" lengthAdjust="spacingAndGlyphs">1,000</text>
<line x1="128.5" y1="470.8" x2="139.6" y2="470.8" stroke="#262626" stroke-width="1.4"/>
<text x="117.5" y="479.2" font-size="23.5" text-anchor="end" textLength="65.3" lengthAdjust="spacingAndGlyphs">1,500</text>
<line x1="128.5" y1="224.2" x2="139.6" y2="224.2" stroke="#262626" stroke-width="1.4"/>
<text x="117.5" y="232.6" font-size="23.5" text-anchor="end" textLength="65.3" lengthAdjust="spacingAndGlyphs">2,000</text>
<line x1="246" y1="1210.5" x2="256.2" y2="1210.5" stroke="#262626" stroke-width="1.4"/>
<text x="234.5" y="1218.9" font-size="23.5" text-anchor="end" textLength="14.5" lengthAdjust="spacingAndGlyphs">0</text>
<line x1="246" y1="1064.7" x2="256.2" y2="1064.7" stroke="#262626" stroke-width="1.4"/>
<text x="234.5" y="1073.1" font-size="23.5" text-anchor="end" textLength="14.5" lengthAdjust="spacingAndGlyphs">5</text>
<line x1="246" y1="918.9" x2="256.2" y2="918.9" stroke="#262626" stroke-width="1.4"/>
<text x="234.5" y="927.3" font-size="23.5" text-anchor="end" textLength="29.0" lengthAdjust="spacingAndGlyphs">10</text>
<line x1="246" y1="773.1" x2="256.2" y2="773.1" stroke="#262626" stroke-width="1.4"/>
<text x="234.5" y="781.5" font-size="23.5" text-anchor="end" textLength="29.0" lengthAdjust="spacingAndGlyphs">15</text>
<line x1="246" y1="627.3" x2="256.2" y2="627.3" stroke="#262626" stroke-width="1.4"/>
<text x="234.5" y="635.7" font-size="23.5" text-anchor="end" textLength="29.0" lengthAdjust="spacingAndGlyphs">20</text>
<line x1="246" y1="481.5" x2="256.2" y2="481.5" stroke="#262626" stroke-width="1.4"/>
<text x="234.5" y="489.9" font-size="23.5" text-anchor="end" textLength="29.0" lengthAdjust="spacingAndGlyphs">25</text>
<line x1="246" y1="335.7" x2="256.2" y2="335.7" stroke="#262626" stroke-width="1.4"/>
<text x="234.5" y="344.1" font-size="23.5" text-anchor="end" textLength="29.0" lengthAdjust="spacingAndGlyphs">30</text>
<line x1="246" y1="189.9" x2="256.2" y2="189.9" stroke="#262626" stroke-width="1.4"/>
<text x="234.5" y="198.3" font-size="23.5" text-anchor="end" textLength="29.0" lengthAdjust="spacingAndGlyphs">35</text>
<rect x="256.2" y="52.2" width="731.8" height="1158.4" fill="none" stroke="#262626" stroke-width="1.4"/>
<line x1="315" y1="1210.6" x2="315" y2="1220.6" stroke="#262626" stroke-width="1.4"/>
<text x="315" y="1250.3" font-size="23.5" text-anchor="middle" textLength="58.8" lengthAdjust="spacingAndGlyphs">−250</text>
<line x1="439.6" y1="1210.6" x2="439.6" y2="1220.6" stroke="#262626" stroke-width="1.4"/>
<text x="439.6" y="1250.3" font-size="23.5" text-anchor="middle" textLength="14.5" lengthAdjust="spacingAndGlyphs">0</text>
<line x1="564.2" y1="1210.6" x2="564.2" y2="1220.6" stroke="#262626" stroke-width="1.4"/>
<text x="564.2" y="1250.3" font-size="23.5" text-anchor="middle" textLength="43.5" lengthAdjust="spacingAndGlyphs">250</text>
<line x1="688.9" y1="1210.6" x2="688.9" y2="1220.6" stroke="#262626" stroke-width="1.4"/>
<text x="688.9" y="1250.3" font-size="23.5" text-anchor="middle" textLength="43.5" lengthAdjust="spacingAndGlyphs">500</text>
<line x1="813.5" y1="1210.6" x2="813.5" y2="1220.6" stroke="#262626" stroke-width="1.4"/>
<text x="813.5" y="1250.3" font-size="23.5" text-anchor="middle" textLength="43.5" lengthAdjust="spacingAndGlyphs">750</text>
<line x1="938.1" y1="1210.6" x2="938.1" y2="1220.6" stroke="#262626" stroke-width="1.4"/>
<text x="938.1" y="1250.3" font-size="23.5" text-anchor="middle" textLength="65.3" lengthAdjust="spacingAndGlyphs">1,000</text>
<line x1="988" y1="1210.5" x2="998" y2="1210.5" stroke="#262626" stroke-width="1.4"/>
<text x="1010" y="1218.9" font-size="23.5" text-anchor="start" textLength="14.5" lengthAdjust="spacingAndGlyphs">0</text>
<line x1="988" y1="1075.9" x2="998" y2="1075.9" stroke="#262626" stroke-width="1.4"/>
<text x="1010" y="1084.3" font-size="23.5" text-anchor="start" textLength="29.0" lengthAdjust="spacingAndGlyphs">50</text>
<line x1="988" y1="941.2" x2="998" y2="941.2" stroke="#262626" stroke-width="1.4"/>
<text x="1010" y="949.6" font-size="23.5" text-anchor="start" textLength="43.5" lengthAdjust="spacingAndGlyphs">100</text>
<line x1="988" y1="806.6" x2="998" y2="806.6" stroke="#262626" stroke-width="1.4"/>
<text x="1010" y="815" font-size="23.5" text-anchor="start" textLength="43.5" lengthAdjust="spacingAndGlyphs">150</text>
<line x1="988" y1="672" x2="998" y2="672" stroke="#262626" stroke-width="1.4"/>
<text x="1010" y="680.4" font-size="23.5" text-anchor="start" textLength="43.5" lengthAdjust="spacingAndGlyphs">200</text>
<line x1="988" y1="537.4" x2="998" y2="537.4" stroke="#262626" stroke-width="1.4"/>
<text x="1010" y="545.8" font-size="23.5" text-anchor="start" textLength="43.5" lengthAdjust="spacingAndGlyphs">250</text>
<line x1="988" y1="402.8" x2="998" y2="402.8" stroke="#262626" stroke-width="1.4"/>
<text x="1010" y="411.1" font-size="23.5" text-anchor="start" textLength="43.5" lengthAdjust="spacingAndGlyphs">300</text>
<line x1="988" y1="268.1" x2="998" y2="268.1" stroke="#262626" stroke-width="1.4"/>
<text x="1010" y="276.5" font-size="23.5" text-anchor="start" textLength="43.5" lengthAdjust="spacingAndGlyphs">350</text>
<line x1="988" y1="133.5" x2="998" y2="133.5" stroke="#262626" stroke-width="1.4"/>
<text x="1010" y="141.9" font-size="23.5" text-anchor="start" textLength="43.5" lengthAdjust="spacingAndGlyphs">400</text>
<text transform="translate(21.5,631.2) rotate(-90)" font-size="27" text-anchor="middle" textLength="170" lengthAdjust="spacingAndGlyphs">Distance (km)</text>
<text transform="translate(175.5,631.2) rotate(-90)" font-size="27" text-anchor="middle" textLength="181" lengthAdjust="spacingAndGlyphs">Distance (deg)</text>
<text transform="translate(1083,631) rotate(90)" font-size="27" text-anchor="middle" textLength="130" lengthAdjust="spacingAndGlyphs">Sg – Pg (s)</text>
<text x="621.7" y="1294.5" font-size="27" text-anchor="middle" textLength="203" lengthAdjust="spacingAndGlyphs">Time after Pg (s)</text>
<text x="368.5" y="143.2" font-size="24.3" text-anchor="end">S0421a</text>
<text x="368.5" y="212.3" font-size="24.3" text-anchor="end">S0264e</text>
<text x="368.5" y="272.9" font-size="24.3" text-anchor="end">S0387a</text>
<text x="368.5" y="297.4" font-size="24.3" text-anchor="end">S0424c</text>
<text x="368.5" y="321.3" font-size="24.3" text-anchor="end">S0218a</text>
<text x="368.5" y="348.4" font-size="24.3" text-anchor="end">S0869b</text>
<text x="368.5" y="584.7" font-size="24.3" text-anchor="end">S0882a</text>
<text x="368.5" y="635.4" font-size="24.3" text-anchor="end">S0334a</text>
<text x="368.5" y="658.8" font-size="24.3" text-anchor="end">S0756a</text>
<text x="368.5" y="703.9" font-size="24.3" text-anchor="end">S0794a</text>
<text x="368.5" y="757.9" font-size="24.3" text-anchor="end">S0976b</text>
<text x="368.5" y="797.9" font-size="24.3" text-anchor="end">S0475a</text>
<text x="368.5" y="820.8" font-size="24.3" text-anchor="end">S1047a</text>
<text x="368.5" y="866.8" font-size="24.3" text-anchor="end">S0500a</text>
<text x="368.5" y="892.5" font-size="24.3" text-anchor="end">S1030a</text>
<text x="368.5" y="916.8" font-size="24.3" text-anchor="end">S1090b</text>
<text x="368.5" y="941.5" font-size="24.3" text-anchor="end">S0965a</text>
<text x="368.5" y="963.8" font-size="24.3" text-anchor="end">S0734a</text>
<text x="368.5" y="985.1" font-size="24.3" text-anchor="end">S0850a</text>
<text x="368.5" y="1006.7" font-size="24.3" text-anchor="end">S0128a</text>
<text x="368.5" y="1031.4" font-size="24.3" text-anchor="end">S0263a</text>
<text x="368.5" y="1097.4" font-size="24.3" text-anchor="end">S0981c</text>
<text x="368.5" y="1141" font-size="24.3" text-anchor="end">S0793a</text>
<text x="368.5" y="1166.7" font-size="24.3" text-anchor="end">S0986c</text>
<text x="368.5" y="1186.1" font-size="24.3" text-anchor="end">S1160a</text>
<text x="368.5" y="1206.9" font-size="24.3" text-anchor="end">S1034a</text>
<g filter="url(#sf0)"><rect x="1226.2" y="143.4" width="624.1" height="97.7" fill="#3aff00"/><rect x="1226.2" y="33.3" width="624.1" height="110.1" fill="#2e0000"/><rect x="1273.5" y="140.7" width="98.3" height="15.2" fill="#6a0000"/><rect x="1371.8" y="140.7" width="229.3" height="18.8" fill="#7c0000"/><rect x="1601.0" y="140.7" width="249.3" height="18.8" fill="#5f0000"/><rect x="1371.8" y="159.6" width="322.9" height="81.5" fill="#54ff00"/><rect x="1413.9" y="191.4" width="280.7" height="49.7" fill="#66ff00"/><rect x="1694.6" y="159.6" width="155.7" height="81.5" fill="#54ff00"/><rect x="1273.5" y="86.8" width="98.3" height="39.9" fill="#a00000"/><rect x="1273.5" y="65.8" width="98.3" height="21.0" fill="#6d0000"/><rect x="1371.8" y="110.5" width="112.3" height="16.1" fill="#c50000"/><rect x="1371.8" y="62.4" width="112.3" height="48.1" fill="#a80000"/><rect x="1484.1" y="65.8" width="51.5" height="60.8" fill="url(#g0)"/><rect x="1535.5" y="77.4" width="56.1" height="49.2" fill="url(#g1)"/><rect x="1591.7" y="86.8" width="56.1" height="39.9" fill="url(#g2)"/><rect x="1647.8" y="92.1" width="202.5" height="34.5" fill="url(#g3)"/><rect x="1245.4" y="126.6" width="28.1" height="12.8" fill="#5b0000"/><rect x="1273.5" y="126.6" width="210.6" height="12.8" fill="#e90000"/><rect x="1484.1" y="126.6" width="117.0" height="12.8" fill="url(#g4)"/><rect x="1601.0" y="126.6" width="249.3" height="12.8" fill="url(#g5)"/></g>
<g filter="url(#sf1)"><rect x="1226.2" y="324.8" width="624.1" height="97.7" fill="#37ff00"/><rect x="1226.2" y="214.7" width="624.1" height="110.1" fill="#2e0000"/><rect x="1273.5" y="322.1" width="98.3" height="18.8" fill="#660000"/><rect x="1371.8" y="322.1" width="135.7" height="18.8" fill="#750000"/><rect x="1507.5" y="322.1" width="140.4" height="18.8" fill="url(#g6)"/><rect x="1371.8" y="341.0" width="322.9" height="81.5" fill="#56ff00"/><rect x="1694.6" y="341.0" width="155.7" height="81.5" fill="#56ff00"/><rect x="1273.5" y="243.8" width="28.1" height="78.3" fill="#a00000"/><rect x="1301.6" y="234.7" width="70.2" height="87.4" fill="#a80000"/><rect x="1273.5" y="298.5" width="98.3" height="18.5" fill="#ba0000"/><rect x="1371.8" y="234.7" width="98.3" height="87.4" fill="#c50000"/><rect x="1371.8" y="298.5" width="98.3" height="18.5" fill="#d30000"/><rect x="1470.0" y="237.6" width="46.8" height="84.5" fill="url(#g7)"/><rect x="1516.8" y="250.8" width="46.8" height="71.3" fill="url(#g8)"/><rect x="1563.6" y="258.8" width="46.8" height="63.3" fill="url(#g9)"/><rect x="1610.4" y="263.3" width="60.8" height="58.8" fill="url(#g10)"/><rect x="1671.2" y="263.3" width="179.1" height="58.8" fill="url(#g11)"/><rect x="1647.8" y="294.3" width="202.5" height="5.1" fill="#8a0000"/><rect x="1671.2" y="334.0" width="179.1" height="5.2" fill="#71ff00"/></g>
<g filter="url(#sf2)"><rect x="1226.2" y="506.2" width="624.1" height="97.7" fill="#37ff00"/><rect x="1226.2" y="396.1" width="624.1" height="110.1" fill="#2e0000"/><rect x="1273.5" y="500.9" width="98.3" height="21.5" fill="#660000"/><rect x="1371.8" y="500.9" width="135.7" height="21.5" fill="#750000"/><rect x="1507.5" y="500.9" width="140.4" height="21.5" fill="url(#g12)"/><rect x="1371.8" y="522.4" width="322.9" height="81.5" fill="#56ff00"/><rect x="1694.6" y="522.4" width="155.7" height="81.5" fill="#56ff00"/><rect x="1273.5" y="425.2" width="28.1" height="75.7" fill="#a00000"/><rect x="1301.6" y="416.1" width="70.2" height="84.8" fill="#a80000"/><rect x="1371.8" y="416.1" width="98.3" height="84.8" fill="#c10000"/><rect x="1470.0" y="419.0" width="46.8" height="81.9" fill="url(#g13)"/><rect x="1516.8" y="432.2" width="46.8" height="68.7" fill="url(#g14)"/><rect x="1563.6" y="440.2" width="46.8" height="60.7" fill="url(#g15)"/><rect x="1610.4" y="444.7" width="60.8" height="56.2" fill="url(#g16)"/><rect x="1671.2" y="444.7" width="179.1" height="56.2" fill="url(#g17)"/><rect x="1273.5" y="485.4" width="327.5" height="13.0" fill="url(#g18)"/><rect x="1671.2" y="459.6" width="46.8" height="6.4" fill="#8a0000"/></g>
<g filter="url(#sf3)"><rect x="1226.2" y="771.1" width="624.1" height="97.7" fill="#5bff00"/><rect x="1226.2" y="661.0" width="624.1" height="110.1" fill="#2e0000"/><rect x="1226.2" y="719.8" width="50.9" height="34.5" fill="#490000"/><rect x="1226.2" y="768.4" width="302.1" height="22.7" fill="#780000"/><rect x="1528.3" y="768.4" width="322.0" height="22.7" fill="#6a0000"/><rect x="1277.1" y="826.1" width="251.2" height="42.7" fill="#5bff00"/><rect x="1277.1" y="693.5" width="44.0" height="60.8" fill="#a00000"/><rect x="1321.1" y="699.1" width="30.9" height="55.2" fill="#b20000"/><rect x="1351.9" y="703.1" width="30.9" height="51.3" fill="#ab0000"/><rect x="1382.8" y="707.1" width="30.9" height="47.3" fill="#a30000"/><rect x="1413.7" y="711.0" width="30.9" height="43.3" fill="#9c0000"/><rect x="1444.6" y="715.0" width="30.9" height="39.3" fill="#940000"/><rect x="1475.4" y="719.0" width="30.9" height="35.4" fill="#8c0000"/><rect x="1506.3" y="723.0" width="30.9" height="31.4" fill="#850000"/><rect x="1537.2" y="726.9" width="30.9" height="27.4" fill="#7d0000"/><rect x="1568.1" y="730.9" width="30.9" height="23.4" fill="#760000"/><rect x="1598.9" y="734.9" width="30.9" height="19.5" fill="#6e0000"/><rect x="1629.8" y="738.9" width="30.9" height="15.5" fill="#660000"/><rect x="1660.7" y="742.8" width="30.9" height="11.5" fill="#5f0000"/><rect x="1691.6" y="739.8" width="158.7" height="14.5" fill="#6d0000"/><rect x="1226.2" y="753.3" width="50.9" height="13.8" fill="#9b0000"/><rect x="1277.1" y="753.3" width="226.1" height="13.8" fill="url(#g19)"/><rect x="1503.2" y="753.3" width="188.4" height="13.8" fill="url(#g20)"/><rect x="1691.6" y="753.3" width="158.7" height="13.8" fill="#ba0000"/><rect x="1696.6" y="765.8" width="11.3" height="77.7" fill="#ff0000"/><rect x="1593.6" y="791.1" width="7.5" height="63.6" fill="#b6ff00"/><rect x="1618.7" y="804.6" width="5.0" height="50.1" fill="#92ff00"/></g>
<g filter="url(#sf4)"><rect x="1226.2" y="952.3" width="624.1" height="97.7" fill="#3eff00"/><rect x="1226.2" y="842.2" width="624.1" height="110.1" fill="#2e0000"/><rect x="1226.2" y="947.0" width="624.1" height="14.4" fill="#540000"/><rect x="1277.1" y="862.2" width="50.2" height="79.9" fill="#c10000"/><rect x="1327.3" y="876.3" width="30.4" height="49.7" fill="#990000"/><rect x="1357.7" y="879.6" width="30.4" height="46.5" fill="#920000"/><rect x="1388.0" y="882.8" width="30.4" height="43.2" fill="#8a0000"/><rect x="1418.4" y="886.0" width="30.4" height="40.0" fill="#830000"/><rect x="1448.8" y="889.3" width="30.4" height="36.8" fill="#7c0000"/><rect x="1479.1" y="892.5" width="30.4" height="33.5" fill="#750000"/><rect x="1509.5" y="895.7" width="30.4" height="30.3" fill="#6d0000"/><rect x="1539.8" y="899.0" width="30.4" height="27.1" fill="#660000"/><rect x="1570.2" y="902.2" width="30.4" height="23.8" fill="#5f0000"/><rect x="1600.5" y="905.4" width="30.4" height="20.6" fill="#570000"/><rect x="1630.9" y="908.7" width="30.4" height="17.4" fill="#500000"/><rect x="1661.2" y="911.9" width="30.4" height="14.1" fill="#490000"/><rect x="1327.3" y="926.0" width="100.5" height="18.5" fill="#ba0000"/><rect x="1427.8" y="926.0" width="163.3" height="18.5" fill="url(#g21)"/><rect x="1591.1" y="929.6" width="259.2" height="14.9" fill="url(#g22)"/></g>
<g filter="url(#sf5)"><rect x="1226.2" y="1133.5" width="624.1" height="97.7" fill="#3eff00"/><rect x="1226.2" y="1023.4" width="624.1" height="110.1" fill="#2e0000"/><rect x="1226.2" y="1112.7" width="50.9" height="10.6" fill="#760000"/><rect x="1226.2" y="1082.2" width="50.9" height="12.5" fill="#5f0000"/><rect x="1277.1" y="1043.4" width="50.2" height="73.3" fill="#c10000"/><rect x="1327.3" y="1061.0" width="30.4" height="51.8" fill="#990000"/><rect x="1357.7" y="1063.9" width="30.4" height="48.8" fill="#920000"/><rect x="1388.0" y="1066.8" width="30.4" height="45.9" fill="#8b0000"/><rect x="1418.4" y="1069.8" width="30.4" height="43.0" fill="#840000"/><rect x="1448.8" y="1072.7" width="30.4" height="40.0" fill="#7d0000"/><rect x="1479.1" y="1075.7" width="30.4" height="37.1" fill="#760000"/><rect x="1509.5" y="1078.6" width="30.4" height="34.2" fill="#6f0000"/><rect x="1539.8" y="1081.5" width="30.4" height="31.2" fill="#680000"/><rect x="1570.2" y="1084.5" width="30.4" height="28.3" fill="#610000"/><rect x="1600.5" y="1087.4" width="30.4" height="25.3" fill="#5a0000"/><rect x="1630.9" y="1090.3" width="30.4" height="22.4" fill="#530000"/><rect x="1661.2" y="1093.3" width="30.4" height="19.5" fill="#4c0000"/><rect x="1277.1" y="1112.7" width="150.7" height="11.8" fill="#cc0000"/><rect x="1427.8" y="1110.8" width="163.3" height="13.7" fill="url(#g23)"/><rect x="1591.1" y="1110.8" width="259.2" height="13.7" fill="#870000"/><rect x="1696.6" y="1123.3" width="8.8" height="26.3" fill="#a40000"/></g>
<rect x="1246.2" y="53.3" width="584.1" height="167.8" fill="none" stroke="#000" stroke-width="1.6"/>
<line x1="1240.2" y1="143.4" x2="1246.2" y2="143.4" stroke="#262626" stroke-width="1.3"/>
<line x1="1240.2" y1="120.7" x2="1246.2" y2="120.7" stroke="#262626" stroke-width="1.3"/>
<line x1="1240.2" y1="104.6" x2="1246.2" y2="104.6" stroke="#262626" stroke-width="1.3"/>
<line x1="1240.2" y1="92.1" x2="1246.2" y2="92.1" stroke="#262626" stroke-width="1.3"/>
<line x1="1240.2" y1="81.9" x2="1246.2" y2="81.9" stroke="#262626" stroke-width="1.3"/>
<line x1="1240.2" y1="73.3" x2="1246.2" y2="73.3" stroke="#262626" stroke-width="1.3"/>
<line x1="1240.2" y1="65.8" x2="1246.2" y2="65.8" stroke="#262626" stroke-width="1.3"/>
<line x1="1240.2" y1="59.2" x2="1246.2" y2="59.2" stroke="#262626" stroke-width="1.3"/>
<line x1="1240.2" y1="210.9" x2="1246.2" y2="210.9" stroke="#262626" stroke-width="1.3"/>
<line x1="1240.2" y1="202.3" x2="1246.2" y2="202.3" stroke="#262626" stroke-width="1.3"/>
<line x1="1240.2" y1="194.8" x2="1246.2" y2="194.8" stroke="#262626" stroke-width="1.3"/>
<line x1="1240.2" y1="188.2" x2="1246.2" y2="188.2" stroke="#262626" stroke-width="1.3"/>
<line x1="1236.1" y1="182.3" x2="1246.2" y2="182.3" stroke="#262626" stroke-width="1.3"/>
<line x1="1236.1" y1="53.3" x2="1246.2" y2="53.3" stroke="#262626" stroke-width="1.3"/>
<line x1="1240.2" y1="221.1" x2="1246.2" y2="221.1" stroke="#262626" stroke-width="1.3"/>
<text x="1223.5" y="61.2" font-size="22.5" text-anchor="end">10</text>
<text x="1223.5" y="190.2" font-size="22.5" text-anchor="end">1</text>
<line x1="1273.5" y1="221.1" x2="1273.5" y2="230.1" stroke="#262626" stroke-width="1.3"/>
<line x1="1367.1" y1="221.1" x2="1367.1" y2="230.1" stroke="#262626" stroke-width="1.3"/>
<line x1="1460.7" y1="221.1" x2="1460.7" y2="230.1" stroke="#262626" stroke-width="1.3"/>
<line x1="1554.2" y1="221.1" x2="1554.2" y2="230.1" stroke="#262626" stroke-width="1.3"/>
<line x1="1647.8" y1="221.1" x2="1647.8" y2="230.1" stroke="#262626" stroke-width="1.3"/>
<line x1="1741.4" y1="221.1" x2="1741.4" y2="230.1" stroke="#262626" stroke-width="1.3"/>
<line x1="1273.5" y1="54.3" x2="1273.5" y2="220.10000000000002" stroke="#ece6f5" stroke-width="2.8" stroke-dasharray="9 7.5" stroke-dashoffset="-1"/>
<line x1="1373.4" y1="54.3" x2="1373.4" y2="220.10000000000002" stroke="#ece6f5" stroke-width="2.8" stroke-dasharray="9 7.5" stroke-dashoffset="-1"/>
<rect x="1785" y="59.0" width="43" height="52.3" fill="rgba(255,255,255,0.5)" stroke="#4b4a6b" stroke-width="1.8"/>
<text x="1806.5" y="92.8" font-size="26" text-anchor="middle">Z</text>
<rect x="1246.2" y="234.7" width="584.1" height="167.8" fill="none" stroke="#000" stroke-width="1.6"/>
<line x1="1240.2" y1="324.8" x2="1246.2" y2="324.8" stroke="#262626" stroke-width="1.3"/>
<line x1="1240.2" y1="302.1" x2="1246.2" y2="302.1" stroke="#262626" stroke-width="1.3"/>
<line x1="1240.2" y1="286" x2="1246.2" y2="286" stroke="#262626" stroke-width="1.3"/>
<line x1="1240.2" y1="273.5" x2="1246.2" y2="273.5" stroke="#262626" stroke-width="1.3"/>
<line x1="1240.2" y1="263.3" x2="1246.2" y2="263.3" stroke="#262626" stroke-width="1.3"/>
<line x1="1240.2" y1="254.7" x2="1246.2" y2="254.7" stroke="#262626" stroke-width="1.3"/>
<line x1="1240.2" y1="247.2" x2="1246.2" y2="247.2" stroke="#262626" stroke-width="1.3"/>
<line x1="1240.2" y1="240.6" x2="1246.2" y2="240.6" stroke="#262626" stroke-width="1.3"/>
<line x1="1240.2" y1="392.3" x2="1246.2" y2="392.3" stroke="#262626" stroke-width="1.3"/>
<line x1="1240.2" y1="383.7" x2="1246.2" y2="383.7" stroke="#262626" stroke-width="1.3"/>
<line x1="1240.2" y1="376.2" x2="1246.2" y2="376.2" stroke="#262626" stroke-width="1.3"/>
<line x1="1240.2" y1="369.6" x2="1246.2" y2="369.6" stroke="#262626" stroke-width="1.3"/>
<line x1="1236.1" y1="363.7" x2="1246.2" y2="363.7" stroke="#262626" stroke-width="1.3"/>
<line x1="1236.1" y1="234.7" x2="1246.2" y2="234.7" stroke="#262626" stroke-width="1.3"/>
<line x1="1240.2" y1="402.5" x2="1246.2" y2="402.5" stroke="#262626" stroke-width="1.3"/>
<text x="1223.5" y="242.6" font-size="22.5" text-anchor="end">10</text>
<text x="1223.5" y="371.6" font-size="22.5" text-anchor="end">1</text>
<line x1="1273.5" y1="402.5" x2="1273.5" y2="411.5" stroke="#262626" stroke-width="1.3"/>
<line x1="1367.1" y1="402.5" x2="1367.1" y2="411.5" stroke="#262626" stroke-width="1.3"/>
<line x1="1460.7" y1="402.5" x2="1460.7" y2="411.5" stroke="#262626" stroke-width="1.3"/>
<line x1="1554.2" y1="402.5" x2="1554.2" y2="411.5" stroke="#262626" stroke-width="1.3"/>
<line x1="1647.8" y1="402.5" x2="1647.8" y2="411.5" stroke="#262626" stroke-width="1.3"/>
<line x1="1741.4" y1="402.5" x2="1741.4" y2="411.5" stroke="#262626" stroke-width="1.3"/>
<line x1="1273.5" y1="235.7" x2="1273.5" y2="401.5" stroke="#ece6f5" stroke-width="2.8" stroke-dasharray="9 7.5" stroke-dashoffset="-1"/>
<line x1="1373.4" y1="235.7" x2="1373.4" y2="401.5" stroke="#ece6f5" stroke-width="2.8" stroke-dasharray="9 7.5" stroke-dashoffset="-1"/>
<rect x="1785" y="240.4" width="43" height="52.3" fill="rgba(255,255,255,0.5)" stroke="#4b4a6b" stroke-width="1.8"/>
<text x="1806.5" y="274.2" font-size="26" text-anchor="middle">N</text>
<rect x="1246.2" y="416.1" width="584.1" height="167.8" fill="none" stroke="#000" stroke-width="1.6"/>
<line x1="1240.2" y1="506.2" x2="1246.2" y2="506.2" stroke="#262626" stroke-width="1.3"/>
<line x1="1240.2" y1="483.5" x2="1246.2" y2="483.5" stroke="#262626" stroke-width="1.3"/>
<line x1="1240.2" y1="467.4" x2="1246.2" y2="467.4" stroke="#262626" stroke-width="1.3"/>
<line x1="1240.2" y1="454.9" x2="1246.2" y2="454.9" stroke="#262626" stroke-width="1.3"/>
<line x1="1240.2" y1="444.7" x2="1246.2" y2="444.7" stroke="#262626" stroke-width="1.3"/>
<line x1="1240.2" y1="436.1" x2="1246.2" y2="436.1" stroke="#262626" stroke-width="1.3"/>
<line x1="1240.2" y1="428.6" x2="1246.2" y2="428.6" stroke="#262626" stroke-width="1.3"/>
<line x1="1240.2" y1="422" x2="1246.2" y2="422" stroke="#262626" stroke-width="1.3"/>
<line x1="1240.2" y1="573.7" x2="1246.2" y2="573.7" stroke="#262626" stroke-width="1.3"/>
<line x1="1240.2" y1="565.1" x2="1246.2" y2="565.1" stroke="#262626" stroke-width="1.3"/>
<line x1="1240.2" y1="557.6" x2="1246.2" y2="557.6" stroke="#262626" stroke-width="1.3"/>
<line x1="1240.2" y1="551" x2="1246.2" y2="551" stroke="#262626" stroke-width="1.3"/>
<line x1="1236.1" y1="545.1" x2="1246.2" y2="545.1" stroke="#262626" stroke-width="1.3"/>
<line x1="1236.1" y1="416.1" x2="1246.2" y2="416.1" stroke="#262626" stroke-width="1.3"/>
<line x1="1240.2" y1="583.9" x2="1246.2" y2="583.9" stroke="#262626" stroke-width="1.3"/>
<text x="1223.5" y="424" font-size="22.5" text-anchor="end">10</text>
<text x="1223.5" y="553" font-size="22.5" text-anchor="end">1</text>
<line x1="1273.5" y1="583.9" x2="1273.5" y2="592.9" stroke="#262626" stroke-width="1.3"/>
<text x="1273.5" y="622.5" font-size="22.5" text-anchor="middle">0</text>
<line x1="1367.1" y1="583.9" x2="1367.1" y2="592.9" stroke="#262626" stroke-width="1.3"/>
<text x="1367.1" y="622.5" font-size="22.5" text-anchor="middle">200</text>
<line x1="1460.7" y1="583.9" x2="1460.7" y2="592.9" stroke="#262626" stroke-width="1.3"/>
<text x="1460.7" y="622.5" font-size="22.5" text-anchor="middle">400</text>
<line x1="1554.2" y1="583.9" x2="1554.2" y2="592.9" stroke="#262626" stroke-width="1.3"/>
<text x="1554.2" y="622.5" font-size="22.5" text-anchor="middle">600</text>
<line x1="1647.8" y1="583.9" x2="1647.8" y2="592.9" stroke="#262626" stroke-width="1.3"/>
<text x="1647.8" y="622.5" font-size="22.5" text-anchor="middle">800</text>
<line x1="1741.4" y1="583.9" x2="1741.4" y2="592.9" stroke="#262626" stroke-width="1.3"/>
<text x="1741.4" y="622.5" font-size="22.5" text-anchor="middle">1,000</text>
<line x1="1273.5" y1="417.1" x2="1273.5" y2="582.9000000000001" stroke="#ece6f5" stroke-width="2.8" stroke-dasharray="9 7.5" stroke-dashoffset="-1"/>
<line x1="1373.4" y1="417.1" x2="1373.4" y2="582.9000000000001" stroke="#ece6f5" stroke-width="2.8" stroke-dasharray="9 7.5" stroke-dashoffset="-1"/>
<rect x="1785" y="421.8" width="43" height="52.3" fill="rgba(255,255,255,0.5)" stroke="#4b4a6b" stroke-width="1.8"/>
<text x="1806.5" y="455.6" font-size="26" text-anchor="middle">E</text>
<rect x="1246.2" y="681.0" width="584.1" height="167.8" fill="none" stroke="#000" stroke-width="1.6"/>
<line x1="1240.2" y1="771.1" x2="1246.2" y2="771.1" stroke="#262626" stroke-width="1.3"/>
<line x1="1240.2" y1="748.4" x2="1246.2" y2="748.4" stroke="#262626" stroke-width="1.3"/>
<line x1="1240.2" y1="732.3" x2="1246.2" y2="732.3" stroke="#262626" stroke-width="1.3"/>
<line x1="1240.2" y1="719.8" x2="1246.2" y2="719.8" stroke="#262626" stroke-width="1.3"/>
<line x1="1240.2" y1="709.6" x2="1246.2" y2="709.6" stroke="#262626" stroke-width="1.3"/>
<line x1="1240.2" y1="701" x2="1246.2" y2="701" stroke="#262626" stroke-width="1.3"/>
<line x1="1240.2" y1="693.5" x2="1246.2" y2="693.5" stroke="#262626" stroke-width="1.3"/>
<line x1="1240.2" y1="686.9" x2="1246.2" y2="686.9" stroke="#262626" stroke-width="1.3"/>
<line x1="1240.2" y1="838.6" x2="1246.2" y2="838.6" stroke="#262626" stroke-width="1.3"/>
<line x1="1240.2" y1="830" x2="1246.2" y2="830" stroke="#262626" stroke-width="1.3"/>
<line x1="1240.2" y1="822.5" x2="1246.2" y2="822.5" stroke="#262626" stroke-width="1.3"/>
<line x1="1240.2" y1="815.9" x2="1246.2" y2="815.9" stroke="#262626" stroke-width="1.3"/>
<line x1="1236.1" y1="810" x2="1246.2" y2="810" stroke="#262626" stroke-width="1.3"/>
<line x1="1236.1" y1="681" x2="1246.2" y2="681" stroke="#262626" stroke-width="1.3"/>
<line x1="1240.2" y1="848.8" x2="1246.2" y2="848.8" stroke="#262626" stroke-width="1.3"/>
<text x="1223.5" y="688.9" font-size="22.5" text-anchor="end">10</text>
<text x="1223.5" y="817.9" font-size="22.5" text-anchor="end">1</text>
<line x1="1277.1" y1="848.8" x2="1277.1" y2="857.8" stroke="#262626" stroke-width="1.3"/>
<line x1="1402.7" y1="848.8" x2="1402.7" y2="857.8" stroke="#262626" stroke-width="1.3"/>
<line x1="1528.3" y1="848.8" x2="1528.3" y2="857.8" stroke="#262626" stroke-width="1.3"/>
<line x1="1653.9" y1="848.8" x2="1653.9" y2="857.8" stroke="#262626" stroke-width="1.3"/>
<line x1="1779.5" y1="848.8" x2="1779.5" y2="857.8" stroke="#262626" stroke-width="1.3"/>
<line x1="1277.1" y1="682.0" x2="1277.1" y2="847.8" stroke="#ece6f5" stroke-width="2.8" stroke-dasharray="9 7.5" stroke-dashoffset="-1"/>
<line x1="1318.5" y1="682.0" x2="1318.5" y2="847.8" stroke="#ece6f5" stroke-width="2.8" stroke-dasharray="9 7.5" stroke-dashoffset="-1"/>
<line x1="1697.9" y1="682.0" x2="1697.9" y2="847.8" stroke="#ece6f5" stroke-width="2.8" stroke-dasharray="9 7.5" stroke-dashoffset="-1"/>
<rect x="1785" y="686.7" width="43" height="52.3" fill="rgba(255,255,255,0.5)" stroke="#4b4a6b" stroke-width="1.8"/>
<text x="1806.5" y="720.5" font-size="26" text-anchor="middle">Z</text>
<rect x="1246.2" y="862.2" width="584.1" height="167.8" fill="none" stroke="#000" stroke-width="1.6"/>
<line x1="1240.2" y1="952.3" x2="1246.2" y2="952.3" stroke="#262626" stroke-width="1.3"/>
<line x1="1240.2" y1="929.6" x2="1246.2" y2="929.6" stroke="#262626" stroke-width="1.3"/>
<line x1="1240.2" y1="913.5" x2="1246.2" y2="913.5" stroke="#262626" stroke-width="1.3"/>
<line x1="1240.2" y1="901" x2="1246.2" y2="901" stroke="#262626" stroke-width="1.3"/>
<line x1="1240.2" y1="890.8" x2="1246.2" y2="890.8" stroke="#262626" stroke-width="1.3"/>
<line x1="1240.2" y1="882.2" x2="1246.2" y2="882.2" stroke="#262626" stroke-width="1.3"/>
<line x1="1240.2" y1="874.7" x2="1246.2" y2="874.7" stroke="#262626" stroke-width="1.3"/>
<line x1="1240.2" y1="868.1" x2="1246.2" y2="868.1" stroke="#262626" stroke-width="1.3"/>
<line x1="1240.2" y1="1019.8" x2="1246.2" y2="1019.8" stroke="#262626" stroke-width="1.3"/>
<line x1="1240.2" y1="1011.2" x2="1246.2" y2="1011.2" stroke="#262626" stroke-width="1.3"/>
<line x1="1240.2" y1="1003.7" x2="1246.2" y2="1003.7" stroke="#262626" stroke-width="1.3"/>
<line x1="1240.2" y1="997.1" x2="1246.2" y2="997.1" stroke="#262626" stroke-width="1.3"/>
<line x1="1236.1" y1="991.2" x2="1246.2" y2="991.2" stroke="#262626" stroke-width="1.3"/>
<line x1="1236.1" y1="862.2" x2="1246.2" y2="862.2" stroke="#262626" stroke-width="1.3"/>
<line x1="1240.2" y1="1030" x2="1246.2" y2="1030" stroke="#262626" stroke-width="1.3"/>
<text x="1223.5" y="870.1" font-size="22.5" text-anchor="end">10</text>
<text x="1223.5" y="999.1" font-size="22.5" text-anchor="end">1</text>
<line x1="1277.1" y1="1030" x2="1277.1" y2="1039" stroke="#262626" stroke-width="1.3"/>
<line x1="1402.7" y1="1030" x2="1402.7" y2="1039" stroke="#262626" stroke-width="1.3"/>
<line x1="1528.3" y1="1030" x2="1528.3" y2="1039" stroke="#262626" stroke-width="1.3"/>
<line x1="1653.9" y1="1030" x2="1653.9" y2="1039" stroke="#262626" stroke-width="1.3"/>
<line x1="1779.5" y1="1030" x2="1779.5" y2="1039" stroke="#262626" stroke-width="1.3"/>
<line x1="1277.1" y1="863.2" x2="1277.1" y2="1029.0" stroke="#ece6f5" stroke-width="2.8" stroke-dasharray="9 7.5" stroke-dashoffset="-1"/>
<line x1="1318.5" y1="863.2" x2="1318.5" y2="1029.0" stroke="#ece6f5" stroke-width="2.8" stroke-dasharray="9 7.5" stroke-dashoffset="-1"/>
<line x1="1697.9" y1="863.2" x2="1697.9" y2="1029.0" stroke="#ece6f5" stroke-width="2.8" stroke-dasharray="9 7.5" stroke-dashoffset="-1"/>
<rect x="1785" y="867.9" width="43" height="52.3" fill="rgba(255,255,255,0.5)" stroke="#4b4a6b" stroke-width="1.8"/>
<text x="1806.5" y="901.7" font-size="26" text-anchor="middle">N</text>
<rect x="1246.2" y="1043.4" width="584.1" height="167.8" fill="none" stroke="#000" stroke-width="1.6"/>
<line x1="1240.2" y1="1133.5" x2="1246.2" y2="1133.5" stroke="#262626" stroke-width="1.3"/>
<line x1="1240.2" y1="1110.8" x2="1246.2" y2="1110.8" stroke="#262626" stroke-width="1.3"/>
<line x1="1240.2" y1="1094.7" x2="1246.2" y2="1094.7" stroke="#262626" stroke-width="1.3"/>
<line x1="1240.2" y1="1082.2" x2="1246.2" y2="1082.2" stroke="#262626" stroke-width="1.3"/>
<line x1="1240.2" y1="1072" x2="1246.2" y2="1072" stroke="#262626" stroke-width="1.3"/>
<line x1="1240.2" y1="1063.4" x2="1246.2" y2="1063.4" stroke="#262626" stroke-width="1.3"/>
<line x1="1240.2" y1="1055.9" x2="1246.2" y2="1055.9" stroke="#262626" stroke-width="1.3"/>
<line x1="1240.2" y1="1049.3" x2="1246.2" y2="1049.3" stroke="#262626" stroke-width="1.3"/>
<line x1="1240.2" y1="1201" x2="1246.2" y2="1201" stroke="#262626" stroke-width="1.3"/>
<line x1="1240.2" y1="1192.4" x2="1246.2" y2="1192.4" stroke="#262626" stroke-width="1.3"/>
<line x1="1240.2" y1="1184.9" x2="1246.2" y2="1184.9" stroke="#262626" stroke-width="1.3"/>
<line x1="1240.2" y1="1178.3" x2="1246.2" y2="1178.3" stroke="#262626" stroke-width="1.3"/>
<line x1="1236.1" y1="1172.4" x2="1246.2" y2="1172.4" stroke="#262626" stroke-width="1.3"/>
<line x1="1236.1" y1="1043.4" x2="1246.2" y2="1043.4" stroke="#262626" stroke-width="1.3"/>
<line x1="1240.2" y1="1211.2" x2="1246.2" y2="1211.2" stroke="#262626" stroke-width="1.3"/>
<text x="1223.5" y="1051.3" font-size="22.5" text-anchor="end">10</text>
<text x="1223.5" y="1180.3" font-size="22.5" text-anchor="end">1</text>
<line x1="1277.1" y1="1211.2" x2="1277.1" y2="1220.2" stroke="#262626" stroke-width="1.3"/>
<text x="1277.1" y="1250.5" font-size="22.5" text-anchor="middle">0</text>
<line x1="1402.7" y1="1211.2" x2="1402.7" y2="1220.2" stroke="#262626" stroke-width="1.3"/>
<text x="1402.7" y="1250.5" font-size="22.5" text-anchor="middle">100</text>
<line x1="1528.3" y1="1211.2" x2="1528.3" y2="1220.2" stroke="#262626" stroke-width="1.3"/>
<text x="1528.3" y="1250.5" font-size="22.5" text-anchor="middle">200</text>
<line x1="1653.9" y1="1211.2" x2="1653.9" y2="1220.2" stroke="#262626" stroke-width="1.3"/>
<text x="1653.9" y="1250.5" font-size="22.5" text-anchor="middle">300</text>
<line x1="1779.5" y1="1211.2" x2="1779.5" y2="1220.2" stroke="#262626" stroke-width="1.3"/>
<text x="1779.5" y="1250.5" font-size="22.5" text-anchor="middle">400</text>
<line x1="1277.1" y1="1044.4" x2="1277.1" y2="1210.2" stroke="#ece6f5" stroke-width="2.8" stroke-dasharray="9 7.5" stroke-dashoffset="-1"/>
<line x1="1318.5" y1="1044.4" x2="1318.5" y2="1210.2" stroke="#ece6f5" stroke-width="2.8" stroke-dasharray="9 7.5" stroke-dashoffset="-1"/>
<line x1="1697.9" y1="1044.4" x2="1697.9" y2="1210.2" stroke="#ece6f5" stroke-width="2.8" stroke-dasharray="9 7.5" stroke-dashoffset="-1"/>
<rect x="1785" y="1049.1" width="43" height="52.3" fill="rgba(255,255,255,0.5)" stroke="#4b4a6b" stroke-width="1.8"/>
<text x="1806.5" y="1082.9" font-size="26" text-anchor="middle">E</text>
<text x="1279.5" y="570.3" font-size="26" text-anchor="start" fill="#fff" textLength="32" lengthAdjust="spacingAndGlyphs">Pg</text>
<text x="1384" y="570.3" font-size="26" text-anchor="start" fill="#fff" textLength="33" lengthAdjust="spacingAndGlyphs">Sg</text>
<text x="1279.5" y="1196.3" font-size="26" text-anchor="start" fill="#fff" textLength="32" lengthAdjust="spacingAndGlyphs">Pg</text>
<text x="1330" y="1196.3" font-size="26" text-anchor="start" fill="#fff" textLength="33" lengthAdjust="spacingAndGlyphs">Sg</text>
<text x="1709.6" y="1196.3" font-size="26" text-anchor="start" fill="#fff" textLength="70" lengthAdjust="spacingAndGlyphs">Chirp</text>
<text x="1537.7" y="44.2" font-size="26.5" text-anchor="middle" textLength="98" lengthAdjust="spacingAndGlyphs">S0334a</text>
<text x="1537.7" y="671.4" font-size="26.5" text-anchor="middle" textLength="98" lengthAdjust="spacingAndGlyphs">S0793a</text>
<text x="1537.7" y="1294.7" font-size="27" text-anchor="middle" textLength="203" lengthAdjust="spacingAndGlyphs">Time after Pg (s)</text>
<text transform="translate(1169,318) rotate(-90)" font-size="27" text-anchor="middle" textLength="190" lengthAdjust="spacingAndGlyphs">Frequency (Hz)</text>
<text transform="translate(1169,945.3) rotate(-90)" font-size="27" text-anchor="middle" textLength="190" lengthAdjust="spacingAndGlyphs">Frequency (Hz)</text>
<rect x="1122.4" y="1306.3" width="203.4" height="22.7" fill="url(#cbar)" stroke="#000" stroke-width="1.5"/>
<line x1="1123" y1="1329" x2="1123" y2="1338.6" stroke="#262626" stroke-width="1.3"/>
<text x="1123" y="1368.9" font-size="22.5" text-anchor="middle">−210</text>
<line x1="1204" y1="1329" x2="1204" y2="1338.6" stroke="#262626" stroke-width="1.3"/>
<text x="1204" y="1368.9" font-size="22.5" text-anchor="middle">−200</text>
<line x1="1285" y1="1329" x2="1285" y2="1338.6" stroke="#262626" stroke-width="1.3"/>
<text x="1285" y="1368.9" font-size="22.5" text-anchor="middle">−190</text>
<text x="1224" y="1290.3" font-size="27" text-anchor="middle">(m s<tspan dy="-10" font-size="16">−1</tspan><tspan dy="10">)</tspan><tspan dy="-10" font-size="16">2</tspan><tspan dy="10"> Hz</tspan><tspan dy="-10" font-size="16">−1</tspan><tspan dy="10"> (dB)</tspan></text>
<g clip-path="url(#cc00)" fill="none" stroke-width="2.2" stroke-linejoin="round">
<path d="M382.7 1401.9l14.1 45 12 21.3 10.4 9 9.2 12.2 8.3 6.5 7.5 4.8 6.8 7.1 6.3 8.2 5.8 9.2 5.4 5 5.1 7.3 4.8 10.4 4.5 7.4 4.2 9.4 4.1 4.7 3.8-6.9 3.7-3.2 3.5 0 3.3 5.8 3.3 4.6 3.1 6.4 2.9 3.3 2.9 7.6 2.8 5.9 2.7 5.2 2.5 3.9 2.6-4.2 2.4-5.4 2.3-5.3 2.3-7.4 2.3 4.4 2.1 2.1 2.1 2.3 2.1-.2 2 1.1 1.9 3.4 2 2.7 1.8 1.5 1.8-1.3 1.8 1 1.7 1.6 1.7 4 1.7-.9 1.6 1.5 1.6 .1 1.6-1.6 1.5 2.1 1.6-1.1 1.4 2.2 1.5-.5 1.4-.9 1.4 7.6 2.7-3.4 2.7 2.8 2.5 6.7 2.5 4.2 2.4-2.5 2.3 13.9 2.3-15.7 2.2 6.9 2.1-13.2 2.1-8.9 2.1 .3 1.9 7.7 2 7.7 1.9 8.6 1.8-3.4 1.8-12.5 1.8 2.8 1.7 3.3 1.7-4.6 1.6-2.9 1.6-11.1 1.6 1.2 1.6-5.1 1.5 7 1.5-5.5 1.5-4.7 1.4 6.2 1.4-7.1 2.1 7.7 2-3.6 2-1 1.9 5.8 1.9-15.6 1.2 13.5 1.2 1.1 1.2 1 1.2 5.4 1.1 3.1 1.2 12 1.1 8 1.1 .5 1.1 16.2 1.1-1.4 1.1-.4 1-2.3 1-13 1.1 13.7 1-4.5 1-16.3 1 17.5 .9-10.4 1 17.7 .9-6.8 1 8.3 .9-5.9 .9-11.9 .9 26.4 1.4-21.8 1.3 2.3 1.3 8.7 1.3 9 1.2-15.3 1.2 6.4 1.3-7.5 1.2 2.3 1.1-15.9 1.2 19.1 1.1 8.2 1.2-11.9 1.1 0 1.1-11.2 1.1 5.8 1 5.4 1.1-10.9 1 27.5 1.1-5.1 1 3.3 1-5.1 1 10.5 .9-20.1 1 9.2 1 13.1 .9-4.3 .9-13.1 1-5 .9-11.7 1.2-9.1 1.1 25.8 1.2 14.5 1.2 11.9 1.1-24.2 1.1 11.2 1.1-3.8 1.1 2.2 1-4.6 1.1-12.1 1 9.5 1.1 3.4 1 9.2 1 6.7 1-11.5 .9-3.8 1-18.1 1 17.4 .9-8.2 .9 15.7 .9 7.6 1-1.7 1.1-1.7 1.1-28.5 1.1 30.8 1-16.3 1.1 18.4 1.1-18.1 1 6.2 1 6 1-1.2 1 6.3 1-11.2 1 9.2 .9 7.8 1 .6 .9-14.8 .9-14.4 1 14.5 .9 2.8 1-9.3 1.1-15.4 1 6.1 1.1 1.5 1-37.9 1-17.8 1-22.4 .9-6.3 1-.4 1 3 .9-4.3 .2 .3 .1 4.9 .2 .9 .1-3.8 .2 6.4" stroke="#7f7f7f"/>
<path d="M382.7 1389.0l14.1 40.4 12 28.1 10.4 9 9.2 10 8.3 14.4 7.5 10.2 6.8 11.8 6.3 4.8 5.8 8.3 5.4-.1 5.1 5.2 4.8 4.5 4.5 3 4.2 3 4.1 1.7 3.8 7.6 3.7 .7 3.5 2.4 3.3 1.2 3.3-.9 3.1 2.2 2.9-.1 2.9 5.3 2.8 4.3 2.7 2.4 2.5 6.3 2.6 7.5 2.4 3.1 2.3-5.9 2.3-3.9 2.3-7.6 2.1-2.4 2.1 1.4 2.1-1.2 2 3.3 1.9-.2 2-.4 1.8-.8 1.8 3.9 1.8-1.8 1.7 2.4 1.7-7.1 1.7 1.1 1.6-3.2 1.6 .7 1.6-3 1.5 5.8 1.6-1.3 1.4-13.9 1.5 15.7 1.4 1.2 1.4-11.1 2.7-2.4 2.7 17.7 2.5-5.7 2.5-.6 2.4-.4 2.3 23.2 2.3 2.9 2.2-11.9 2.1-4.1 2.1-.2 2.1-3.4 1.9 7.3 2-9.8 1.9-1.4 1.8-5.4 1.8 4.7 1.8-9.8 1.7-7.8 1.7 3.2 1.6-5.5 1.6-1.2 1.6-3.2 1.6 3 1.5-17.3 1.5-7.5 1.5-32.3 1.4-6.2 1.4 4.3 2.1 8.6 2 .9 2-26.7 1.9 18.2 1.9 7.8 1.2 31.1 1.2-23 1.2 9.5 1.2 18.7 1.1-6.2 1.2-7.6 1.1 3.4 1.1 5 1.1-1.3 1.1 2.7 1.1-4 1-15.4 1 50.7 1.1-28 1-4.3 1-.7 1 9.3 .9 18.5 1-25.8 .9-17.1 1 42.4 .9-29.8 .9 16 .9-2.7 1.4 13.8 1.3-8 1.3-19.8 1.3 10.3 1.2-13.6 1.2 8.1 1.3 10.5 1.2-15.6 1.1 17.6 1.2-3.9 1.1 15.3 1.2-3.7 1.1 10.7 1.1-20.6 1.1 28.8 1-24 1.1 13.4 1-16.3 1.1 6.4 1-12.7 1 14.9 1 30.4 .9-18.3 1 15.1 1-7.4 .9-25 .9 12 1 18 .9 4.9 1.2-12.2 1.1 17.1 1.2-5.8 1.2-11.4 1.1-9.4 1.1 8.5 1.1 38.5 1.1-31.7 1 4.4 1.1-2.9 1-13.9 1.1 48.3 1-17.4 1-13.7 1 29 .9-37.7 1 15.5 1-4.9 .9 19.4 .9-16.4 .9-2 1 11.9 1.1 1.5 1.1 .9 1.1 15.8 1-7.8 1.1 1.3 1.1-5.6 1-6.6 1 27.5 1-10.7 1-19.4 1 29.6 1 2.2 .9-11.9 1-7.1 .9 11.7 .9-15.7 1 7.2 .9 1.2 1 2.6 1.1-24.9 1 30 1.1 3.6 1-76.6 1 16.4 1-3.2 .9-4.7 1 7.5 1 2.9 .9 4.5 .2-1.3 .1-2.2 .2 .4 .1 1.2 .2 4.5" stroke="#1f77b4"/>
</g>
<rect x="382.7" y="1452.4" width="365.3" height="232.1" fill="none" stroke="#262626" stroke-width="1.4"/>
<line x1="382.7" y1="1684.5" x2="382.7" y2="1694" stroke="#262626" stroke-width="1.3"/>
<line x1="437.7" y1="1684.5" x2="437.7" y2="1689.5" stroke="#262626" stroke-width="1.3"/>
<line x1="469.8" y1="1684.5" x2="469.8" y2="1689.5" stroke="#262626" stroke-width="1.3"/>
<line x1="492.7" y1="1684.5" x2="492.7" y2="1689.5" stroke="#262626" stroke-width="1.3"/>
<line x1="510.4" y1="1684.5" x2="510.4" y2="1689.5" stroke="#262626" stroke-width="1.3"/>
<line x1="524.8" y1="1684.5" x2="524.8" y2="1689.5" stroke="#262626" stroke-width="1.3"/>
<line x1="537.1" y1="1684.5" x2="537.1" y2="1689.5" stroke="#262626" stroke-width="1.3"/>
<line x1="547.6" y1="1684.5" x2="547.6" y2="1689.5" stroke="#262626" stroke-width="1.3"/>
<line x1="557" y1="1684.5" x2="557" y2="1689.5" stroke="#262626" stroke-width="1.3"/>
<line x1="565.4" y1="1684.5" x2="565.4" y2="1694" stroke="#262626" stroke-width="1.3"/>
<line x1="620.3" y1="1684.5" x2="620.3" y2="1689.5" stroke="#262626" stroke-width="1.3"/>
<line x1="652.5" y1="1684.5" x2="652.5" y2="1689.5" stroke="#262626" stroke-width="1.3"/>
<line x1="675.3" y1="1684.5" x2="675.3" y2="1689.5" stroke="#262626" stroke-width="1.3"/>
<line x1="693" y1="1684.5" x2="693" y2="1689.5" stroke="#262626" stroke-width="1.3"/>
<line x1="707.5" y1="1684.5" x2="707.5" y2="1689.5" stroke="#262626" stroke-width="1.3"/>
<line x1="719.7" y1="1684.5" x2="719.7" y2="1689.5" stroke="#262626" stroke-width="1.3"/>
<line x1="730.3" y1="1684.5" x2="730.3" y2="1689.5" stroke="#262626" stroke-width="1.3"/>
<line x1="739.6" y1="1684.5" x2="739.6" y2="1689.5" stroke="#262626" stroke-width="1.3"/>
<line x1="748" y1="1684.5" x2="748" y2="1694" stroke="#262626" stroke-width="1.3"/>
<line x1="372.7" y1="1498.8" x2="382.7" y2="1498.8" stroke="#262626" stroke-width="1.3"/>
<text x="358" y="1507.2" font-size="23.5" text-anchor="end">−200</text>
<line x1="372.7" y1="1591.7" x2="382.7" y2="1591.7" stroke="#262626" stroke-width="1.3"/>
<text x="358" y="1600.1" font-size="23.5" text-anchor="end">−220</text>
<line x1="372.7" y1="1684.5" x2="382.7" y2="1684.5" stroke="#262626" stroke-width="1.3"/>
<text x="358" y="1692.9" font-size="23.5" text-anchor="end">−240</text>
<g clip-path="url(#cc01)" fill="none" stroke-width="2.2" stroke-linejoin="round">
<path d="M382.7 1608.3l14.1 39.8 12 37.3 10.4 26.2 9.2-5.1 8.3 18.2 7.5 7.6 6.8 29 6.3-3.1 5.8 21.4 5.4-1.3 5.1-6.2 4.8 6.9 4.5 10.1 4.2-.2 4.1 .7 3.8-.7 3.7 2.2 3.5 9.8 3.3 4.7 3.3 5.7 3.1 6.4 2.9-11 2.9-10.8 2.8-.5 2.7 6.9 2.5 6 2.6 6.7 2.4 8.6 2.3 4.1 2.3 7.8 2.3 7 2.1 5.3 2.1 .4 2.1-2.3 2-2.3 1.9-3.1 2-1.5 1.8 6.4 1.8-2 1.8 4 1.7-2 1.7 2.4 1.7-15.5 1.6-27.3 1.6-7.8 1.6-1.6 1.5 16.6 1.6 14.5 1.4 14.2 1.5 19.2 1.4 .6 1.4-2.7 2.7-8.8 2.7 5.5 2.5 12.7 2.5-3.2 2.4 6.4 2.3-9.2 2.3 1.2 2.2 .5 2.1-4.3 2.1-7.9 2.1-.2 1.9 12.1 2 .2 1.9-4.8 1.8 12.6 1.8-6.7 1.8 3 1.7-1.2 1.7 10.5 1.6 8.1 1.6 6.3 1.6-4 1.6-2.2 1.5 1.4 1.5-23.9 1.5-.7 1.4 9.2 1.4-16.9 2.1-.2 2-5.9 2-8.7 1.9-3.1 1.9 19 1.2-5.2 1.2 26.4 1.2-3.4 1.2-16.8 1.1 26 1.2-11.1 1.1 12.7 1.1-4.4 1.1 6.2 1.1 1.3 1.1 6.1 1-11.6 1 12.8 1.1-14.9 1-4 1 7.3 1 6.8 .9-7.3 1 7.9 .9-12.5 1 28.4 .9-15.1 .9 19 .9-1.9 1.4-24.6 1.3 9.4 1.3 21 1.3 12.4 1.2 19.2 1.2-20.4 1.3-31.7 1.2 17 1.1 7 1.2-13.6 1.1 17.6 1.2-15.9 1.1-7.1 1.1-1.1 1.1-11 1 5.6 1.1-2.3 1 14.9 1.1-15.2 1-6.4 1 27.5 1 .2 .9-21.8 1 16.6 1-15.4 .9 19.8 .9-18.4 1 14.4 .9-.6 1.2-12.8 1.1 20.3 1.2 6.5 1.2-4.4 1.1-8.7 1.1 21.2 1.1-21.9 1.1 12.5 1-16.7 1.1 36.7 1-15.9 1.1 9 1-9.1 1-11.3 1 4 .9 .5 1-1.3 1-4 .9 12 .9-17.8 .9 .2 1 2.5 1.1-2.1 1.1 2.3 1.1-18.1 1 21.3 1.1 1.9 1.1 4.2 1 2.5 1 1.8 1-4 1-8.8 1-4.6 1 2.4 .9 7.9 1-17.5 .9 1.2 .9 8.7 1 4.6 .9-12.7 1 3.1 1.1 16.2 1-14.6 1.1-3.9 1 1.6 1-23.3 1-12.7 .9-36.9 1-15.7 1 3.8 .9-1.2 .2 6.5 .1-2.9 .2-1.9 .1 1.8 .2-4.1" stroke="#7f7f7f"/>
<path d="M382.7 1555.5l14.1 47.6 12 36.1 10.4 30.2 9.2 26.2 8.3 25.8 7.5 10.3 6.8 8 6.3 5.5 5.8 .1 5.4 10.7 5.1 13.8 4.8 0 4.5 1.6 4.2 8 4.1 2.7 3.8 7.1 3.7 1.5 3.5 4.9 3.3 2.2 3.3 .4 3.1 1.8 2.9 1 2.9 1.9 2.8-4.1 2.7 1.2 2.5-2.7 2.6 1.4 2.4-2.2 2.3 5.7 2.3 4.5 2.3 1 2.1 4.3 2.1 1.9 2.1-2.6 2 2.9 1.9-.4 2-.1 1.8 1.8 1.8-1.7 1.8 2.2 1.7 .1 1.7-3.9 1.7 6 1.6 3.9 1.6-10.6 1.6-3.2 1.5 8.2 1.6 4.4 1.4-5.2 1.5-.4 1.4-.6 1.4 3.1 2.7-6.7 2.7-.5 2.5 6.3 2.5-11.3 2.4-8.2 2.3 6.7 2.3 7.7 2.2 4.6 2.1 1.3 2.1 17.9 2.1-8.1 1.9 .3 2-16.2 1.9 9.2 1.8-14.2 1.8 14.8 1.8-13.5 1.7-.3 1.7 9.7 1.6-5.5 1.6-5.7 1.6 12.4 1.6 11.6 1.5-10.7 1.5-1.8 1.5-12.5 1.4-10.1 1.4 4.8 2.1-8.8 2-24.2 2 1.4 1.9 15.9 1.9-20.8 1.2 9.6 1.2 13.9 1.2 10.6 1.2-14.5 1.1 9 1.2-15 1.1 22 1.1 4 1.1 9 1.1-5.7 1.1 5.4 1-2.6 1 20.9 1.1 2.7 1 3.9 1-9.6 1-4.2 .9 23 1 2.6 .9-4.6 1 8.6 .9-9.4 .9 35.6 .9-11.8 1.4 3.7 1.3 16.5 1.3-13.6 1.3-.2 1.2-7 1.2-13.1 1.3 14.2 1.2 8.3 1.1-9.7 1.2-11 1.1 21 1.2-.4 1.1-13.6 1.1 9.7 1.1-7.1 1 8.4 1.1-5.6 1 19.4 1.1-8.8 1 3.6 1 11.8 1 5.2 .9-21.4 1 12.1 1 8.3 .9-7.9 .9-11 1 36.2 .9-7 1.2-5 1.1-23.5 1.2 12.9 1.2-4.2 1.1 20.3 1.1 .5 1.1-15.2 1.1 4.7 1-4.2 1.1 8.2 1-4 1.1 2 1-5.7 1 .4 1 25.5 .9 7.1 1-32.5 1-1.3 .9 23 .9 9 .9-19.6 1-8 1.1-8.3 1.1 13.6 1.1 9.6 1 5.8 1.1-8.7 1.1 3.7 1 7.8 1-30.8 1 2.9 1 6.2 1 20.5 1-18.6 .9 1.7 1 1.6 .9-8.7 .9 5.8 1-1.5 .9 .6 1 2.5 1.1 21.2 1-19.6 1.1 6 1-4.4 1-32.6 1-18.3 .9-29.6 1-13.3 1-2.3 .9 3.4 .2-.4 .1 3.1 .2-3.4 .1 .8 .2 3.2" stroke="#1f77b4"/>
</g>
<rect x="382.7" y="1703.2" width="365.3" height="232.1" fill="none" stroke="#262626" stroke-width="1.4"/>
<line x1="382.7" y1="1935.3" x2="382.7" y2="1944.8" stroke="#262626" stroke-width="1.3"/>
<line x1="437.7" y1="1935.3" x2="437.7" y2="1940.3" stroke="#262626" stroke-width="1.3"/>
<line x1="469.8" y1="1935.3" x2="469.8" y2="1940.3" stroke="#262626" stroke-width="1.3"/>
<line x1="492.7" y1="1935.3" x2="492.7" y2="1940.3" stroke="#262626" stroke-width="1.3"/>
<line x1="510.4" y1="1935.3" x2="510.4" y2="1940.3" stroke="#262626" stroke-width="1.3"/>
<line x1="524.8" y1="1935.3" x2="524.8" y2="1940.3" stroke="#262626" stroke-width="1.3"/>
<line x1="537.1" y1="1935.3" x2="537.1" y2="1940.3" stroke="#262626" stroke-width="1.3"/>
<line x1="547.6" y1="1935.3" x2="547.6" y2="1940.3" stroke="#262626" stroke-width="1.3"/>
<line x1="557" y1="1935.3" x2="557" y2="1940.3" stroke="#262626" stroke-width="1.3"/>
<line x1="565.4" y1="1935.3" x2="565.4" y2="1944.8" stroke="#262626" stroke-width="1.3"/>
<line x1="620.3" y1="1935.3" x2="620.3" y2="1940.3" stroke="#262626" stroke-width="1.3"/>
<line x1="652.5" y1="1935.3" x2="652.5" y2="1940.3" stroke="#262626" stroke-width="1.3"/>
<line x1="675.3" y1="1935.3" x2="675.3" y2="1940.3" stroke="#262626" stroke-width="1.3"/>
<line x1="693" y1="1935.3" x2="693" y2="1940.3" stroke="#262626" stroke-width="1.3"/>
<line x1="707.5" y1="1935.3" x2="707.5" y2="1940.3" stroke="#262626" stroke-width="1.3"/>
<line x1="719.7" y1="1935.3" x2="719.7" y2="1940.3" stroke="#262626" stroke-width="1.3"/>
<line x1="730.3" y1="1935.3" x2="730.3" y2="1940.3" stroke="#262626" stroke-width="1.3"/>
<line x1="739.6" y1="1935.3" x2="739.6" y2="1940.3" stroke="#262626" stroke-width="1.3"/>
<line x1="748" y1="1935.3" x2="748" y2="1944.8" stroke="#262626" stroke-width="1.3"/>
<line x1="372.7" y1="1749.6" x2="382.7" y2="1749.6" stroke="#262626" stroke-width="1.3"/>
<text x="358" y="1758" font-size="23.5" text-anchor="end">−200</text>
<line x1="372.7" y1="1842.5" x2="382.7" y2="1842.5" stroke="#262626" stroke-width="1.3"/>
<text x="358" y="1850.9" font-size="23.5" text-anchor="end">−220</text>
<line x1="372.7" y1="1935.3" x2="382.7" y2="1935.3" stroke="#262626" stroke-width="1.3"/>
<text x="358" y="1943.7" font-size="23.5" text-anchor="end">−240</text>
<text x="382.7" y="1977.6" font-size="23.5" text-anchor="middle">0.1</text>
<text x="565.4" y="1977.6" font-size="23.5" text-anchor="middle">1</text>
<text x="748" y="1977.6" font-size="23.5" text-anchor="middle">10</text>
<text x="565.4" y="2018.6" font-size="27" text-anchor="middle" textLength="191" lengthAdjust="spacingAndGlyphs">Frequency (Hz)</text>
<text x="565.4" y="1436.6" font-size="26" text-anchor="middle" textLength="97" lengthAdjust="spacingAndGlyphs">Vertical</text>
<g clip-path="url(#cc10)" fill="none" stroke-width="2.2" stroke-linejoin="round">
<path d="M802.4 1349.6l14.1 43.1 12 34 10.4 27.3 9.2 10.5 8.3 16.7 7.5 16.7 6.8 16.4 6.3 17.9 5.8 8.3 5.4-4.9 5.1-3.3 4.8-1.5 4.5 3.6 4.2 17.3 4.1 11.3 3.8 6.9 3.7 6.9 3.5 6.3 3.3-1.1 3.3-1.2 3.1-2 2.9-4.2 2.9 3.9 2.8 2.8 2.7 4.3 2.5 5.6 2.6 5.1 2.4 .6 2.3 1 2.3 2.4 2.3 2.2 2.1 .5 2.1 1.9 2.1-2.3 2-3.7 1.9-1.4 2-3.3 1.8-.6 1.8 5.8 1.8 2 1.7-1.1 1.7 8.9 1.7 5.4 1.6 2.7 1.6-1.6 1.6 3.2 1.5 3.6 1.6-1 1.4 13.5 1.5-13.2 1.4-7.2 1.4 6.1 2.7-8.7 2.7 .1 2.5 2.7 2.5-.4 2.4-6.1 2.3-.4 2.3 12.4 2.2-9.3 2.1 11.7 2.1-7.4 2.1 12.1 1.9 .7 2 .3 1.9-20.1 1.8 11.2 1.8 7 1.8-13.6 1.7 6.1 1.7-1.7 1.6-12.2 1.6 3.5 1.6-4.2 1.6 4.2 1.5 12 1.5 9.6 1.5 16 1.4-22.1 1.4 11 2.1 1 2-14.1 2-3.9 1.9 3.9 1.9-15.8 1.2 17.3 1.2-7.1 1.2 4 1.2-2.6 1.1-.7 1.2 14.2 1.1-13.9 1.1 8.3 1.1 20.8 1.1 3 1.1-16.7 1 4.1 1 .9 1.1 1.3 1-.6 1-5.4 1 21.4 .9-2.8 1-4.1 .9-17.3 1-13 .9 13.9 .9 18 .9-10.6 1.4-5.7 1.3 .4 1.3 1.6 1.3-1.5 1.2 6.7 1.2-10.9 1.3 20.5 1.2 5 1.1-10.6 1.2 23.7 1.1-16.7 1.2 6 1.1 5.5 1.1-14.9 1.1 25.5 1-24.6 1.1 22.1 1 8.8 1.1-15.7 1 9.7 1-5.2 1-13.6 .9-3.5 1 10.2 1-18.3 .9-3.5 .9-4.6 1 7.5 .9-10.3 1.2 31.3 1.1-14.6 1.2 7 1.2-8.6 1.1 8.4 1.1-2.8 1.1-19.6 1.1 22.2 1-4.7 1.1 7.9 1-1.9 1.1 2 1-3.3 1-6.2 1-3.7 .9 14.8 1-1.7 1 19 .9-10 .9-10.9 .9 .5 1 6.3 1.1-7.3 1.1 3.6 1.1-7.7 1 8.9 1.1 6.2 1.1-7.4 1 32.9 1-34.2 1 40.8 1-20 1-22.6 1-.6 .9 16.3 1-4.6 .9-18.9 .9 21.2 1-25.5 .9 25.2 1-1.5 1.1-9.7 1 9.7 1.1-3.5 1-24.1 1-34.4 1-26.8 .9-7.4 1-3.6 1-8.6 .9 2.2 .2 1 .1-.1 .2-.5 .1-.7 .2 4" stroke="#7f7f7f"/>
<path d="M802.4 1316.6l14.1 39.4 12 39.2 10.4 33.5 9.2 24.2 8.3 16.6 7.5 17.5 6.8 6.6 6.3 8 5.8 11.2 5.4 10.1 5.1 6.2 4.8-1.1 4.5 2.8 4.2 2.8 4.1 .9 3.8 2.1 3.7 2.7 3.5 6.2 3.3 7.7 3.3 4.1 3.1 4.1 2.9 5.7 2.9-2.5 2.8-4 2.7-1.1 2.5 .8 2.6 2.9 2.4 1.5 2.3 4.4 2.3 2.6 2.3 2.5 2.1 1.6 2.1-2.9 2.1-.3 2 1.9 1.9-5.6 2 3.4 1.8 8.7 1.8 4.8 1.8 6 1.7-1.6 1.7-2.7 1.7-3.3 1.6-6.5 1.6-2.5 1.6-3.3 1.5-3.7 1.6-2.2 1.4 13.7 1.5-4.1 1.4 10.6 1.4-6.8 2.7 5.4 2.7-4.5 2.5-3.7 2.5 2.6 2.4 1.4 2.3-8.1 2.3 6 2.2-.5 2.1-3.8 2.1 13 2.1-7 1.9-1.3 2 6.5 1.9-19.9 1.8-3.3 1.8-.5 1.8 3 1.7-1.5 1.7-5.1 1.6-11.7 1.6 10.8 1.6-14.7 1.6 12.5 1.5-13.5 1.5-6.9 1.5-26.3 1.4 33.1 1.4-31.7 2.1 7.6 2-2.3 2 3.9 1.9-2.6 1.9 7.4 1.2-17.1 1.2 21.7 1.2-17.2 1.2 20.6 1.1-6 1.2 12.3 1.1-17.2 1.1-11.2 1.1 18.6 1.1 1.9 1.1 12.6 1-8.4 1 19.3 1.1-6 1-11.9 1-11.6 1-16.9 .9 45.5 1-23.6 .9 17.4 1 7.2 .9-5.4 .9 6.9 .9 1.1 1.4 6 1.3 12 1.3 1.2 1.3-28.7 1.2 11.3 1.2 3.5 1.3-8.3 1.2-10.7 1.1 7.3 1.2 10.1 1.1-24.6 1.2-5 1.1 13.3 1.1-6.7 1.1-3.9 1 .9 1.1 6 1-.3 1.1 .5 1 20.2 1-23.4 1 25.7 .9-7.6 1-26.4 1 6.6 .9-7.5 .9 23.3 1 12 .9-10.9 1.2-3.4 1.1 1.2 1.2-12.5 1.2 20 1.1-8.2 1.1 18 1.1-17.4 1.1 6.6 1 10.4 1.1-7 1-2.4 1.1-.6 1-27.7 1 22.3 1 .2 .9 22.1 1-17 1-9.6 .9 3.9 .9-27.9 .9 18.2 1-20 1.1 13.8 1.1-1.5 1.1-.2 1-2 1.1-21.4 1.1 52.1 1-3.6 1-18.1 1-6.6 1-8.2 1 3.3 1 11.4 .9-17.4 1 .3 .9 11.3 .9-9.5 1 9.4 .9 15.3 1-10.7 1.1 12.9 1 6.7 1.1-13.6 1 55.3 1-23.2 1-4.4 .9-5.8 1-4 1-.8 .9-1.5 .2-.2 .1-7.5 .2 1.6 .1 5.3 .2 0" stroke="#1f77b4"/>
</g>
<rect x="802.4" y="1452.4" width="365.3" height="232.1" fill="none" stroke="#262626" stroke-width="1.4"/>
<line x1="802.4" y1="1684.5" x2="802.4" y2="1694" stroke="#262626" stroke-width="1.3"/>
<line x1="857.4" y1="1684.5" x2="857.4" y2="1689.5" stroke="#262626" stroke-width="1.3"/>
<line x1="889.5" y1="1684.5" x2="889.5" y2="1689.5" stroke="#262626" stroke-width="1.3"/>
<line x1="912.4" y1="1684.5" x2="912.4" y2="1689.5" stroke="#262626" stroke-width="1.3"/>
<line x1="930.1" y1="1684.5" x2="930.1" y2="1689.5" stroke="#262626" stroke-width="1.3"/>
<line x1="944.5" y1="1684.5" x2="944.5" y2="1689.5" stroke="#262626" stroke-width="1.3"/>
<line x1="956.8" y1="1684.5" x2="956.8" y2="1689.5" stroke="#262626" stroke-width="1.3"/>
<line x1="967.3" y1="1684.5" x2="967.3" y2="1689.5" stroke="#262626" stroke-width="1.3"/>
<line x1="976.7" y1="1684.5" x2="976.7" y2="1689.5" stroke="#262626" stroke-width="1.3"/>
<line x1="985" y1="1684.5" x2="985" y2="1694" stroke="#262626" stroke-width="1.3"/>
<line x1="1040" y1="1684.5" x2="1040" y2="1689.5" stroke="#262626" stroke-width="1.3"/>
<line x1="1072.2" y1="1684.5" x2="1072.2" y2="1689.5" stroke="#262626" stroke-width="1.3"/>
<line x1="1095" y1="1684.5" x2="1095" y2="1689.5" stroke="#262626" stroke-width="1.3"/>
<line x1="1112.7" y1="1684.5" x2="1112.7" y2="1689.5" stroke="#262626" stroke-width="1.3"/>
<line x1="1127.2" y1="1684.5" x2="1127.2" y2="1689.5" stroke="#262626" stroke-width="1.3"/>
<line x1="1139.4" y1="1684.5" x2="1139.4" y2="1689.5" stroke="#262626" stroke-width="1.3"/>
<line x1="1150" y1="1684.5" x2="1150" y2="1689.5" stroke="#262626" stroke-width="1.3"/>
<line x1="1159.3" y1="1684.5" x2="1159.3" y2="1689.5" stroke="#262626" stroke-width="1.3"/>
<line x1="1167.7" y1="1684.5" x2="1167.7" y2="1694" stroke="#262626" stroke-width="1.3"/>
<line x1="792.4" y1="1498.8" x2="802.4" y2="1498.8" stroke="#262626" stroke-width="1.3"/>
<line x1="792.4" y1="1591.7" x2="802.4" y2="1591.7" stroke="#262626" stroke-width="1.3"/>
<line x1="792.4" y1="1684.5" x2="802.4" y2="1684.5" stroke="#262626" stroke-width="1.3"/>
<g clip-path="url(#cc11)" fill="none" stroke-width="2.2" stroke-linejoin="round">
<path d="M802.4 1525.3l14.1 44.2 12 34 10.4 33 9.2 26.8 8.3 27.3 7.5 19.1 6.8 13.2 6.3 12.6 5.8 5.8 5.4 7.9 5.1 6.3 4.8 12.4 4.5 6.2 4.2 2.3 4.1 3.3 3.8 11.8 3.7 12.5 3.5 1.3 3.3 2.6 3.3 1 3.1 3.9 2.9 4.8 2.9-4.3 2.8-4.8 2.7 3.5 2.5 8.6 2.6 3.6 2.4 .6 2.3 6.9 2.3 3.5 2.3 1.9 2.1 1.7 2.1 3.7 2.1 3.6 2 2.8 1.9 2.2 2-2.3 1.8-8 1.8 .9 1.8-3.7 1.7 .5 1.7-2.8 1.7-.8 1.6 3 1.6-.7 1.6 4.3 1.5 4.3 1.6-.2 1.4-4.8 1.5 8.4 1.4-.6 1.4 7 2.7 6.1 2.7 14 2.5-10.1 2.5-8 2.4-.9 2.3-11.9 2.3 10.3 2.2 16.7 2.1 13.9 2.1 5.7 2.1-11.4 1.9-5.7 2 2.4 1.9-8.9 1.8-7.4 1.8 1.7 1.8-4 1.7 3.8 1.7 17.5 1.6-16.5 1.6 17.5 1.6-9.3 1.6 7.9 1.5 1.7 1.5 8.8 1.5-14.2 1.4 9.1 1.4-21.6 2.1-7.2 2 16.3 2-9.3 1.9 12.2 1.9 2.7 1.2-10 1.2 9.4 1.2-13.9 1.2 22.2 1.1-11.4 1.2 9.7 1.1-5.2 1.1 13 1.1-2.5 1.1 1.9 1.1 8.2 1-13.4 1-.1 1.1-7.9 1-17.9 1-7.5 1 11.1 .9-13.1 1 4.8 .9 4 1 22.7 .9-7.5 .9 23 .9 14.6 1.4-17.6 1.3 31.1 1.3-4.7 1.3-31.8 1.2 4.4 1.2-4.9 1.3 13.1 1.2-16.2 1.1-23.6 1.2 12.1 1.1 12.6 1.2 12 1.1 5.3 1.1 23.3 1.1-18.8 1-.5 1.1 30.1 1-4 1.1 10.4 1-5.7 1-14.8 1 17.6 .9-31.8 1-5.7 1 6.2 .9 18.6 .9-18 1-22.1 .9 41.7 1.2-23.9 1.1 9.4 1.2-19.4 1.2 16 1.1-10.2 1.1-.8 1.1-12.1 1.1 21.6 1-5.1 1.1 18.9 1-28.4 1.1 18.9 1-3 1-6.5 1 14.7 .9-19.3 1-8.5 1 5.9 .9 18.3 .9-15.9 .9-9.7 1 25.8 1.1-9.3 1.1-21.1 1.1 5.1 1-.2 1.1-9.7 1.1 19.2 1 2.9 1-16.1 1 34.6 1 10.7 1-12.5 1-2 .9 7.9 1 3.4 .9-36 .9 18.4 1 9.1 .9-18.6 1 8.3 1.1-.6 1-13.1 1.1 11 1-24.6 1-9.2 1-21.1 .9-22.2 1-13.5 1-2.4 .9-2.5 .2-.1 .1-3.3 .2 5.7 .1-6.3 .2 2.5" stroke="#7f7f7f"/>
<path d="M802.4 1520.1l14.1 45.2 12 33.1 10.4 31.9 9.2 28.5 8.3 28.6 7.5 18.5 6.8 13.9 6.3 7.5 5.8 3.2 5.4 8.9 5.1 8.5 4.8 9.5 4.5 8.8 4.2 6.8 4.1 4.1 3.8 7 3.7-2.1 3.5 4.5 3.3 6.7 3.3 1.7 3.1 2.5 2.9 2.3 2.9-3.2 2.8 .7 2.7-1.4 2.5-4.1 2.6 1.6 2.4-2.5 2.3 2.1 2.3-5.1 2.3 5.1 2.1 4.4 2.1 2.1 2.1 5.9 2-3.4 1.9 .7 2-1.5 1.8-.7 1.8-1 1.8-3.8 1.7-.4 1.7-2.1 1.7 .4 1.6-.3 1.6 6.6 1.6-3.4 1.5 15 1.6-4.6 1.4 3.4 1.5 9.8 1.4-11.1 1.4 3.4 2.7-1.4 2.7 2.3 2.5-.2 2.5-1.2 2.4-2.1 2.3-4.3 2.3 6.4 2.2 6.1 2.1-8.5 2.1 .9 2.1 4.5 1.9 2.5 2 9 1.9 7 1.8-4 1.8 1.4 1.8-15.5 1.7-1.4 1.7-.9 1.6 14.2 1.6-14.5 1.6-18.9 1.6 11.1 1.5-9.4 1.5 11.3 1.5-23.3 1.4 10.4 1.4-5.2 2.1-19 2 5.4 2 14.4 1.9 1.8 1.9-2.9 1.2-7.8 1.2 8.4 1.2 7.1 1.2-12.4 1.1 18.7 1.2-18.1 1.1 24.7 1.1-11.8 1.1 17.6 1.1-1.8 1.1 19.6 1 3.7 1-10.5 1.1-3 1 11.7 1 15.7 1 3.1 .9 2.9 1 5.7 .9-17 1-8.9 .9 12.2 .9 23.6 .9-20.5 1.4 .6 1.3-22.2 1.3 37.1 1.3-10 1.2-20.6 1.2 13.7 1.3-.4 1.2 5.4 1.1-1.4 1.2-3.8 1.1 17 1.2-16.5 1.1 23.8 1.1-16.7 1.1 2.3 1 8.8 1.1-5.3 1 6.8 1.1 5.3 1-6.6 1 8.3 1-13.9 .9 15.7 1-17.8 1 20.9 .9-4.8 .9 2.1 1-18.5 .9 11.6 1.2 7.5 1.1-5.4 1.2 28.5 1.2-19.3 1.1-19 1.1 20.8 1.1 1.5 1.1-4.1 1-2.8 1.1 30.4 1-2.5 1.1-18.5 1 10.2 1-20 1 17.4 .9 17.2 1-6 1 15.8 .9-25 .9 0 .9 2.9 1-14.9 1.1-.7 1.1 14.5 1.1 20.7 1-27.6 1.1 1.2 1.1 3 1-6.3 1 22.4 1-31.9 1 30.8 1-15.9 1 26.8 .9-5.8 1-23.1 .9 20 .9-9.4 1 8 .9 5.3 1-14.1 1.1 11.2 1 10.6 1.1-15 1-18.8 1-1.1 1-25.4 .9-31.6 1-16.9 1-2.7 .9 .2 .2-2.1 .1-.1 .2-3.9 .1-.4 .2 1.9" stroke="#1f77b4"/>
</g>
<rect x="802.4" y="1703.2" width="365.3" height="232.1" fill="none" stroke="#262626" stroke-width="1.4"/>
<line x1="802.4" y1="1935.3" x2="802.4" y2="1944.8" stroke="#262626" stroke-width="1.3"/>
<line x1="857.4" y1="1935.3" x2="857.4" y2="1940.3" stroke="#262626" stroke-width="1.3"/>
<line x1="889.5" y1="1935.3" x2="889.5" y2="1940.3" stroke="#262626" stroke-width="1.3"/>
<line x1="912.4" y1="1935.3" x2="912.4" y2="1940.3" stroke="#262626" stroke-width="1.3"/>
<line x1="930.1" y1="1935.3" x2="930.1" y2="1940.3" stroke="#262626" stroke-width="1.3"/>
<line x1="944.5" y1="1935.3" x2="944.5" y2="1940.3" stroke="#262626" stroke-width="1.3"/>
<line x1="956.8" y1="1935.3" x2="956.8" y2="1940.3" stroke="#262626" stroke-width="1.3"/>
<line x1="967.3" y1="1935.3" x2="967.3" y2="1940.3" stroke="#262626" stroke-width="1.3"/>
<line x1="976.7" y1="1935.3" x2="976.7" y2="1940.3" stroke="#262626" stroke-width="1.3"/>
<line x1="985" y1="1935.3" x2="985" y2="1944.8" stroke="#262626" stroke-width="1.3"/>
<line x1="1040" y1="1935.3" x2="1040" y2="1940.3" stroke="#262626" stroke-width="1.3"/>
<line x1="1072.2" y1="1935.3" x2="1072.2" y2="1940.3" stroke="#262626" stroke-width="1.3"/>
<line x1="1095" y1="1935.3" x2="1095" y2="1940.3" stroke="#262626" stroke-width="1.3"/>
<line x1="1112.7" y1="1935.3" x2="1112.7" y2="1940.3" stroke="#262626" stroke-width="1.3"/>
<line x1="1127.2" y1="1935.3" x2="1127.2" y2="1940.3" stroke="#262626" stroke-width="1.3"/>
<line x1="1139.4" y1="1935.3" x2="1139.4" y2="1940.3" stroke="#262626" stroke-width="1.3"/>
<line x1="1150" y1="1935.3" x2="1150" y2="1940.3" stroke="#262626" stroke-width="1.3"/>
<line x1="1159.3" y1="1935.3" x2="1159.3" y2="1940.3" stroke="#262626" stroke-width="1.3"/>
<line x1="1167.7" y1="1935.3" x2="1167.7" y2="1944.8" stroke="#262626" stroke-width="1.3"/>
<line x1="792.4" y1="1749.6" x2="802.4" y2="1749.6" stroke="#262626" stroke-width="1.3"/>
<line x1="792.4" y1="1842.5" x2="802.4" y2="1842.5" stroke="#262626" stroke-width="1.3"/>
<line x1="792.4" y1="1935.3" x2="802.4" y2="1935.3" stroke="#262626" stroke-width="1.3"/>
<text x="802.4" y="1977.6" font-size="23.5" text-anchor="middle">0.1</text>
<text x="985" y="1977.6" font-size="23.5" text-anchor="middle">1</text>
<text x="1167.7" y="1977.6" font-size="23.5" text-anchor="middle">10</text>
<text x="985" y="2018.6" font-size="27" text-anchor="middle" textLength="191" lengthAdjust="spacingAndGlyphs">Frequency (Hz)</text>
<text x="985" y="1436.6" font-size="26" text-anchor="middle" textLength="71" lengthAdjust="spacingAndGlyphs">North</text>
<g clip-path="url(#cc20)" fill="none" stroke-width="2.2" stroke-linejoin="round">
<path d="M1222.2 1350.1l14.1 42.3 12 37.9 10.4 27.6 9.2 12.6 8.3 11.1 7.5 12 6.8 8.5 6.3 8.8 5.8 12.7 5.4 8.1 5.1 10.1 4.8 8.4 4.5 8.2 4.2 5.5 4.1 3 3.8 1.4 3.7 1.6 3.5 7.1 3.3-4.6 3.3-2.2 3.1 .8 2.9 1.9 2.9 4.7 2.8 2 2.7 5.4 2.5 4.6 2.6-1 2.4 6.1 2.3-.6 2.3 .7 2.3-.5 2.1-2.3 2.1 .2 2.1-1.4 2 3.9 1.9 4 2 3.9 1.8 1.3 1.8 8.3 1.8-3.7 1.7-4.4 1.7-2.2 1.7 4.7 1.6-4.3 1.6-5.2 1.6 3.1 1.5 1.6 1.6 2.1 1.4 2.3 1.5 2.3 1.4 6.2 1.4 3.5 2.7 5.2 2.7 3 2.5-4.9 2.5-10.6 2.4 20.9 2.3-9.7 2.3 6.4 2.2-5.7 2.1 3.8 2.1-2.9 2.1-1.5 1.9 6.4 2-4.8 1.9 21.7 1.8-23.6 1.8 8.2 1.8-4.1 1.7 24.1 1.7 12.5 1.6-29.3 1.6-14.6 1.6-4.9 1.6-7.4 1.5 22.6 1.5-19.1 1.5 8.8 1.4 3 1.4 11.4 2.1-13.7 2 23.1 2-26.6 1.9 17.1 1.9-14.4 1.2 .8 1.2-12.2 1.2 11.3 1.2 4 1.1-2.4 1.2-13.1 1.1 10.9 1.1 12.8 1.1 2.6 1.1 16.8 1.1-16.6 1 21.3 1-24.4 1.1 6.4 1-22.5 1 35.4 1-9.9 .9-19.1 1 6.4 .9 19.5 1-9.1 .9 2.5 .9-2.7 .9 10.2 1.4-6.2 1.3 15.4 1.3-17.7 1.3-3.2 1.2 6.9 1.2 14.2 1.3-26.6 1.2 6.4 1.1 11.1 1.2-4.5 1.1 12.6 1.2-4.6 1.1-4.7 1.1-17.8 1.1 19.3 1-12.8 1.1 12.3 1-7.8 1.1 4.3 1-10.2 1 14.7 1 10.8 .9-1.7 1-5.3 1 12.2 .9-12 .9 13.8 1-24.3 .9 46.8 1.2-15.3 1.1 5.9 1.2-14.1 1.2-14 1.1 19.9 1.1-25.5 1.1-16.3 1.1 24.8 1-6.6 1.1-7.2 1 12.8 1.1 4.9 1 18 1-29.3 1 8 .9 9.5 1-11.4 1 7.5 .9-.3 .9-11.3 .9 20.1 1-24.1 1.1 25.2 1.1-7.2 1.1-26.1 1 8.1 1.1 10.1 1.1 10.1 1-4.7 1-6.6 1-.1 1 .8 1-1 1 1.4 .9 12.1 1-9.9 .9-15 .9 22.9 1-12.5 .9 6 1-11.8 1.1 2.9 1-21.2 1.1 7.7 1 16.5 1-18 1-25.3 .9-28.8 1-17 1 1.7 .9-3.3 .2 3.8 .1-.4 .2 .1 .1-.2 .2-3.9" stroke="#7f7f7f"/>
<path d="M1222.2 1318.7l14.1 41.2 12 35.6 10.4 37.5 9.2 21.5 8.3 10.3 7.5 8.2 6.8 13.7 6.3 15 5.8 12.2 5.4 .2 5.1 3.9 4.8-.4 4.5 7.6 4.2 4.6 4.1 16.2 3.8 1 3.7 1.9 3.5-5.5 3.3 4.3 3.3 4.6 3.1 5.9 2.9 1.8 2.9 6.8 2.8-.3 2.7 1 2.5-1.7 2.6 1.4 2.4-3.6 2.3-.3 2.3 1.7 2.3 2.7 2.1 7.1 2.1-1.2 2.1-.6 2 5.3 1.9-2.2 2 0 1.8 1.7 1.8 2.2 1.8-5.1 1.7-1.4 1.7-1.9 1.7-.1 1.6-.7 1.6-.3 1.6-.7 1.5 3.7 1.6 1.4 1.4-1 1.5 9.3 1.4-9.1 1.4 2.9 2.7 2.5 2.7-1.9 2.5 17.6 2.5 3.2 2.4-9.9 2.3-2.1 2.3-7 2.2-1.7 2.1-12.9 2.1-6.3 2.1 8.3 1.9 10.4 2 18.9 1.9-16.6 1.8 1.2 1.8 7.1 1.8 7.3 1.7-17.8 1.7-6.5 1.6-10.9 1.6 16.6 1.6-10.2 1.6-13 1.5 3.3 1.5 8.1 1.5-17.4 1.4-4.6 1.4 2 2.1-5.5 2-.3 2-23.4 1.9 20.1 1.9-8.2 1.2-9.8 1.2-11.4 1.2 31.7 1.2 3.2 1.1 13.5 1.2-18.8 1.1 18.3 1.1-3.7 1.1-7.7 1.1 20.3 1.1-8.3 1 5.9 1-12.5 1.1 1.8 1 14.1 1-7.1 1-16 .9 7.8 1 22.4 .9-26.7 1 21.7 .9-32.4 .9 4.5 .9 8.9 1.4 1.3 1.3 4.4 1.3-11.7 1.3 13.1 1.2-8 1.2-8.4 1.3 18 1.2 .4 1.1 7 1.2-1.9 1.1 9.3 1.2-33.2 1.1-14.3 1.1 4.4 1.1 38.4 1-30.5 1.1-9.4 1 23.5 1.1-7.7 1 26.5 1-29.5 1 16.5 .9-16.6 1 22.5 1-26.7 .9-5.9 .9 23.3 1 4.8 .9 13.2 1.2-23.8 1.1 4.3 1.2 12.7 1.2-25.3 1.1 11.8 1.1 8.3 1.1-6.4 1.1-20.4 1 6.2 1.1 10.8 1-1.1 1.1 31.1 1-7 1 2.2 1 .9 .9-18.5 1 8.7 1-23.3 .9-7.2 .9 40.7 .9-53.4 1 53.2 1.1-32.1 1.1-22.1 1.1 16.1 1 13.6 1.1-5.8 1.1-28.1 1 36.6 1-39.9 1 14.1 1 13.5 1-5.5 1 9 .9-20.6 1 5.1 .9 34.7 .9-13.5 1 9.1 .9-24.2 1 37.2 1.1-34.4 1 24.3 1.1 17.7 1-2.9 1-3.8 1-4.1 .9-8.2 1 .6 1 2.6 .9-3.7 .2 3.3 .1-2.3 .2 .4 .1 0 .2-6.6" stroke="#1f77b4"/>
</g>
<rect x="1222.2" y="1452.4" width="365.3" height="232.1" fill="none" stroke="#262626" stroke-width="1.4"/>
<line x1="1222.2" y1="1684.5" x2="1222.2" y2="1694" stroke="#262626" stroke-width="1.3"/>
<line x1="1277.2" y1="1684.5" x2="1277.2" y2="1689.5" stroke="#262626" stroke-width="1.3"/>
<line x1="1309.3" y1="1684.5" x2="1309.3" y2="1689.5" stroke="#262626" stroke-width="1.3"/>
<line x1="1332.2" y1="1684.5" x2="1332.2" y2="1689.5" stroke="#262626" stroke-width="1.3"/>
<line x1="1349.9" y1="1684.5" x2="1349.9" y2="1689.5" stroke="#262626" stroke-width="1.3"/>
<line x1="1364.3" y1="1684.5" x2="1364.3" y2="1689.5" stroke="#262626" stroke-width="1.3"/>
<line x1="1376.6" y1="1684.5" x2="1376.6" y2="1689.5" stroke="#262626" stroke-width="1.3"/>
<line x1="1387.1" y1="1684.5" x2="1387.1" y2="1689.5" stroke="#262626" stroke-width="1.3"/>
<line x1="1396.5" y1="1684.5" x2="1396.5" y2="1689.5" stroke="#262626" stroke-width="1.3"/>
<line x1="1404.9" y1="1684.5" x2="1404.9" y2="1694" stroke="#262626" stroke-width="1.3"/>
<line x1="1459.8" y1="1684.5" x2="1459.8" y2="1689.5" stroke="#262626" stroke-width="1.3"/>
<line x1="1492" y1="1684.5" x2="1492" y2="1689.5" stroke="#262626" stroke-width="1.3"/>
<line x1="1514.8" y1="1684.5" x2="1514.8" y2="1689.5" stroke="#262626" stroke-width="1.3"/>
<line x1="1532.5" y1="1684.5" x2="1532.5" y2="1689.5" stroke="#262626" stroke-width="1.3"/>
<line x1="1547" y1="1684.5" x2="1547" y2="1689.5" stroke="#262626" stroke-width="1.3"/>
<line x1="1559.2" y1="1684.5" x2="1559.2" y2="1689.5" stroke="#262626" stroke-width="1.3"/>
<line x1="1569.8" y1="1684.5" x2="1569.8" y2="1689.5" stroke="#262626" stroke-width="1.3"/>
<line x1="1579.1" y1="1684.5" x2="1579.1" y2="1689.5" stroke="#262626" stroke-width="1.3"/>
<line x1="1587.5" y1="1684.5" x2="1587.5" y2="1694" stroke="#262626" stroke-width="1.3"/>
<line x1="1212.2" y1="1498.8" x2="1222.2" y2="1498.8" stroke="#262626" stroke-width="1.3"/>
<line x1="1212.2" y1="1591.7" x2="1222.2" y2="1591.7" stroke="#262626" stroke-width="1.3"/>
<line x1="1212.2" y1="1684.5" x2="1222.2" y2="1684.5" stroke="#262626" stroke-width="1.3"/>
<g clip-path="url(#cc21)" fill="none" stroke-width="2.2" stroke-linejoin="round">
<path d="M1222.2 1529.5l14.1 42.8 12 39.4 10.4 30.2 9.2 26.8 8.3 26.9 7.5 14.1 6.8 13 6.3 4.4 5.8 5.7 5.4 6.1 5.1 13.7 4.8 6.1 4.5 5.5 4.2 12.2 4.1 7.2 3.8-4.2 3.7 8.1 3.5 16 3.3 12.6 3.3-4 3.1-5.2 2.9-5.6 2.9 4.8 2.8 11.7 2.7 4.2 2.5 8 2.6-3.5 2.4-2.5 2.3 .9 2.3-.1 2.3 .5 2.1 1.7 2.1 4 2.1 4.3 2 2.7 1.9 2.5 2 2.8 1.8 1.5 1.8 2.4 1.8-2.1 1.7 .8 1.7-8.5 1.7-11.1 1.6-6.9 1.6-2.2 1.6 10.9 1.5 11.5 1.6 11.7 1.4-1.3 1.5 9.3 1.4 1.5 1.4-3.1 2.7 1.9 2.7 7.9 2.5-9 2.5 7.2 2.4 7.5 2.3-8.1 2.3 5.2 2.2 12.2 2.1-13.4 2.1 7.4 2.1 3.6 1.9-9.2 2 8.2 1.9 1.1 1.8 4 1.8-7.4 1.8 3.1 1.7 5.3 1.7 7.8 1.6-4 1.6 3.6 1.6 11.2 1.6 3.3 1.5-12.9 1.5 25 1.5-23.4 1.4 3.3 1.4-16.1 2.1 11.3 2-12.3 2 5.9 1.9-7 1.9-8.2 1.2 8.7 1.2-14.5 1.2 16.3 1.2-13.2 1.1-7.3 1.2 .9 1.1-13.3 1.1 23.8 1.1 4.5 1.1-5 1.1-17.3 1 .2 1 2.5 1.1 10.9 1-20.2 1 18.8 1-25.5 .9-18.5 1 31.5 .9 3.9 1 16.9 .9 19.4 .9-6.5 .9 10.7 1.4 12.2 1.3-24 1.3 20.7 1.3-6.5 1.2 1.8 1.2-6.6 1.3-16.8 1.2 5.1 1.1-10.7 1.2 2.5 1.1 1.1 1.2 15.3 1.1 10.1 1.1-13.2 1.1 .9 1 17.9 1.1-8.7 1 3.2 1.1 26.5 1-8.7 1-9.6 1 4.1 .9 19.5 1-13.4 1-10.9 .9 .5 .9 6.9 1 1.9 .9-.3 1.2-13.8 1.1 .3 1.2-6.9 1.2 2.7 1.1-9.4 1.1 5 1.1-5.5 1.1 .6 1 18.7 1.1 11.7 1-32.7 1.1 14.6 1 21.6 1-8.8 1-13.8 .9 12.2 1 3.7 1-18.2 .9 26.4 .9-2.4 .9-11.2 1-2.8 1.1-2.1 1.1-5.4 1.1 6.2 1-4 1.1 6.6 1.1-4.3 1-1.5 1-2.1 1-6.7 1 1.2 1 5.9 1 10 .9-7.7 1 2.2 .9-1.1 .9-19.3 1 29.1 .9-8.5 1-5.2 1.1 11.3 1-27.5 1.1 15.9 1-18.8 1-6.9 1-28.1 .9-28.1 1-15.5 1 .9 .9-2.4 .2 3.1 .1 .5 .2-7.1 .1 5.3 .2 2.6" stroke="#7f7f7f"/>
<path d="M1222.2 1530.5l14.1 43.5 12 33.9 10.4 33.6 9.2 27.4 8.3 25.4 7.5 12.5 6.8 7.6 6.3 2.4 5.8 12 5.4 15.2 5.1 9.1 4.8 7.9 4.5 4.6 4.2 8.8 4.1 6.1 3.8 5 3.7 .7 3.5 4.7 3.3 7.8 3.3 6.4 3.1 4.9 2.9-1.3 2.9-9.1 2.8-7.6 2.7-2.9 2.5-.1 2.6-1.4 2.4 .9 2.3-.3 2.3 2.7 2.3 1.6 2.1 2.2 2.1 2 2.1 3.3 2-2.2 1.9 3.8 2 4.5 1.8 0 1.8 2.6 1.8-2.2 1.7 1.4 1.7 2.6 1.7-4.3 1.6 5.3 1.6 1.1 1.6 6.3 1.5 2 1.6-1.5 1.4 .6 1.5 6.2 1.4-6 1.4-1.1 2.7-.1 2.7 1.6 2.5-1.8 2.5-2.3 2.4-2 2.3-3.2 2.3-3.5 2.2 5.8 2.1-.2 2.1-5.8 2.1-2 1.9 5 2-2.7 1.9 7.8 1.8 6.7 1.8 2.8 1.8 13.5 1.7-9.2 1.7-3.4 1.6-2.6 1.6 .7 1.6 2.9 1.6-14.3 1.5 4.1 1.5-8.7 1.5 4.6 1.4 .2 1.4-12.5 2.1-2.6 2-6.6 2-14.4 1.9 19 1.9 1.1 1.2 15.7 1.2 3.8 1.2-23.8 1.2 24.5 1.1 3 1.2-6.9 1.1 3 1.1 10.1 1.1-3.2 1.1-12.4 1.1 22.3 1 9 1-19.9 1.1 7.5 1 14.1 1 12.8 1-5.5 .9-4.2 1-9.6 .9 25.3 1-8 .9-7.5 .9 31.4 .9-34.6 1.4 22.9 1.3-15.1 1.3 1.2 1.3-8.2 1.2 5.8 1.2 30.2 1.3-16 1.2-8.9 1.1 4 1.2-6.2 1.1-2.6 1.2 2.5 1.1 9 1.1 17.3 1.1-13.6 1-8.4 1.1 16 1-17 1.1-2.3 1 9.5 1 34.1 1-16.7 .9-30.8 1 26.3 1 16.1 .9-31.4 .9 13.9 1-9.7 .9 9.8 1.2 .2 1.1 4.2 1.2-.2 1.2-13 1.1 16.5 1.1 29.1 1.1-20.9 1.1-7.4 1-.8 1.1 16.3 1-16.5 1.1 2.2 1-17 1 33.7 1-2.7 .9-2.3 1 1.6 1 3.9 .9 18.9 .9-23.8 .9-8 1 9.1 1.1-24.6 1.1 19.9 1.1-12.7 1 10.7 1.1-5.5 1.1 5.9 1-10.9 1 13.7 1-4.3 1 1.6 1 7.5 1-6.1 .9-17.7 1 26.5 .9-6 .9-7.7 1 2.2 .9 12.4 1 25.6 1.1-28.5 1 19.5 1.1-57.3 1-6.1 1-19.7 1-12.3 .9-4.8 1-10.6 1-1.1 .9 2 .2-1.2 .1-6.1 .2 4.6 .1-.3 .2 .6" stroke="#1f77b4"/>
</g>
<rect x="1222.2" y="1703.2" width="365.3" height="232.1" fill="none" stroke="#262626" stroke-width="1.4"/>
<line x1="1222.2" y1="1935.3" x2="1222.2" y2="1944.8" stroke="#262626" stroke-width="1.3"/>
<line x1="1277.2" y1="1935.3" x2="1277.2" y2="1940.3" stroke="#262626" stroke-width="1.3"/>
<line x1="1309.3" y1="1935.3" x2="1309.3" y2="1940.3" stroke="#262626" stroke-width="1.3"/>
<line x1="1332.2" y1="1935.3" x2="1332.2" y2="1940.3" stroke="#262626" stroke-width="1.3"/>
<line x1="1349.9" y1="1935.3" x2="1349.9" y2="1940.3" stroke="#262626" stroke-width="1.3"/>
<line x1="1364.3" y1="1935.3" x2="1364.3" y2="1940.3" stroke="#262626" stroke-width="1.3"/>
<line x1="1376.6" y1="1935.3" x2="1376.6" y2="1940.3" stroke="#262626" stroke-width="1.3"/>
<line x1="1387.1" y1="1935.3" x2="1387.1" y2="1940.3" stroke="#262626" stroke-width="1.3"/>
<line x1="1396.5" y1="1935.3" x2="1396.5" y2="1940.3" stroke="#262626" stroke-width="1.3"/>
<line x1="1404.9" y1="1935.3" x2="1404.9" y2="1944.8" stroke="#262626" stroke-width="1.3"/>
<line x1="1459.8" y1="1935.3" x2="1459.8" y2="1940.3" stroke="#262626" stroke-width="1.3"/>
<line x1="1492" y1="1935.3" x2="1492" y2="1940.3" stroke="#262626" stroke-width="1.3"/>
<line x1="1514.8" y1="1935.3" x2="1514.8" y2="1940.3" stroke="#262626" stroke-width="1.3"/>
<line x1="1532.5" y1="1935.3" x2="1532.5" y2="1940.3" stroke="#262626" stroke-width="1.3"/>
<line x1="1547" y1="1935.3" x2="1547" y2="1940.3" stroke="#262626" stroke-width="1.3"/>
<line x1="1559.2" y1="1935.3" x2="1559.2" y2="1940.3" stroke="#262626" stroke-width="1.3"/>
<line x1="1569.8" y1="1935.3" x2="1569.8" y2="1940.3" stroke="#262626" stroke-width="1.3"/>
<line x1="1579.1" y1="1935.3" x2="1579.1" y2="1940.3" stroke="#262626" stroke-width="1.3"/>
<line x1="1587.5" y1="1935.3" x2="1587.5" y2="1944.8" stroke="#262626" stroke-width="1.3"/>
<line x1="1212.2" y1="1749.6" x2="1222.2" y2="1749.6" stroke="#262626" stroke-width="1.3"/>
<line x1="1212.2" y1="1842.5" x2="1222.2" y2="1842.5" stroke="#262626" stroke-width="1.3"/>
<line x1="1212.2" y1="1935.3" x2="1222.2" y2="1935.3" stroke="#262626" stroke-width="1.3"/>
<text x="1222.2" y="1977.6" font-size="23.5" text-anchor="middle">0.1</text>
<text x="1404.9" y="1977.6" font-size="23.5" text-anchor="middle">1</text>
<text x="1587.5" y="1977.6" font-size="23.5" text-anchor="middle">10</text>
<text x="1404.9" y="2018.6" font-size="27" text-anchor="middle" textLength="191" lengthAdjust="spacingAndGlyphs">Frequency (Hz)</text>
<text x="1404.9" y="1436.6" font-size="26" text-anchor="middle" textLength="50" lengthAdjust="spacingAndGlyphs">East</text>
<text transform="translate(246.5,1567.6) rotate(-90)" font-size="26" text-anchor="middle">PSD</text>
<text transform="translate(278,1567.6) rotate(-90)" font-size="27" text-anchor="middle">m<tspan dy="-9" font-size="16">2</tspan><tspan dy="9"> Hz</tspan><tspan dy="-9" font-size="16">−1</tspan><tspan dy="9"> (dB)</tspan></text>
<text transform="translate(246.5,1818.4) rotate(-90)" font-size="26" text-anchor="middle">PSD</text>
<text transform="translate(278,1818.4) rotate(-90)" font-size="27" text-anchor="middle">m<tspan dy="-9" font-size="16">2</tspan><tspan dy="9"> Hz</tspan><tspan dy="-9" font-size="16">−1</tspan><tspan dy="9"> (dB)</tspan></text>
<rect x="1612.8" y="1458.3" width="57.9" height="220.6" fill="none" stroke="#262626" stroke-width="1.4"/>
<text transform="translate(1632.7,1568.5) rotate(90)" font-size="26.5" text-anchor="middle" textLength="139" lengthAdjust="spacingAndGlyphs">VF S0334a</text>
<rect x="1612.8" y="1708.2" width="57.9" height="222.2" fill="none" stroke="#262626" stroke-width="1.4"/>
<text transform="translate(1632.7,1819.3) rotate(90)" font-size="26.5" text-anchor="middle" textLength="141" lengthAdjust="spacingAndGlyphs">HF S0933a</text>
<line x1="1232" y1="1874.7" x2="1257.6" y2="1874.7" stroke="#1f77b4" stroke-width="2.2"/>
<line x1="1232" y1="1913.3" x2="1257.6" y2="1913.3" stroke="#7f7f7f" stroke-width="2.2"/>
<text x="1270.8" y="1884.6" font-size="25" text-anchor="start" textLength="71" lengthAdjust="spacingAndGlyphs">Event</text>
<text x="1270.8" y="1923.2" font-size="25" text-anchor="start" textLength="71" lengthAdjust="spacingAndGlyphs">Noise</text>
</svg></body></html>
